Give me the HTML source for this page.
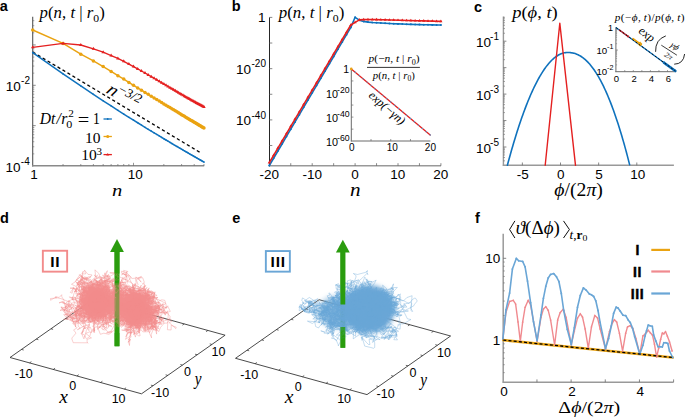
<!DOCTYPE html>
<html><head><meta charset="utf-8"><style>
html,body{margin:0;padding:0;background:#fff;width:685px;height:417px;overflow:hidden}
svg{display:block}
</style></head><body>
<svg width="685" height="417" viewBox="0 0 685 417">
<rect width="685" height="417" fill="#fff"/>
<g transform="translate(-0.28,11.18)"><text x="0" y="0" font-family="'Liberation Sans', sans-serif" font-size="14.5" font-weight="bold">a</text></g>
<g transform="translate(39.62,18.15) scale(1.0179,0.9867)"><text x="0" y="0" font-family="'Liberation Serif', serif" font-size="16.5"><tspan font-style="italic">p</tspan>(<tspan font-style="italic">n</tspan>, <tspan font-style="italic">t</tspan> | <tspan font-style="italic">r</tspan><tspan font-size="11.5" dy="3.5">0</tspan><tspan dy="-3.5">)</tspan></text></g>
<line x1="32.7" y1="16.8" x2="32.7" y2="166.4" stroke="#555" stroke-width="1.1" />
<line x1="32.1" y1="165.8" x2="204.2" y2="165.8" stroke="#8a8a8a" stroke-width="1.5" />
<line x1="32.7" y1="153.85" x2="34.3" y2="153.85" stroke="#6a6a6a" stroke-width="0.6" />
<line x1="32.7" y1="146.75" x2="34.3" y2="146.75" stroke="#6a6a6a" stroke-width="0.6" />
<line x1="32.7" y1="141.71" x2="34.3" y2="141.71" stroke="#6a6a6a" stroke-width="0.6" />
<line x1="32.7" y1="137.8" x2="34.3" y2="137.8" stroke="#6a6a6a" stroke-width="0.6" />
<line x1="32.7" y1="134.6" x2="34.3" y2="134.6" stroke="#6a6a6a" stroke-width="0.6" />
<line x1="32.7" y1="131.9" x2="34.3" y2="131.9" stroke="#6a6a6a" stroke-width="0.6" />
<line x1="32.7" y1="129.56" x2="34.3" y2="129.56" stroke="#6a6a6a" stroke-width="0.6" />
<line x1="32.7" y1="127.5" x2="34.3" y2="127.5" stroke="#6a6a6a" stroke-width="0.6" />
<line x1="32.7" y1="125.65" x2="35.7" y2="125.65" stroke="#6a6a6a" stroke-width="0.8" />
<line x1="32.7" y1="113.5" x2="34.3" y2="113.5" stroke="#6a6a6a" stroke-width="0.6" />
<line x1="32.7" y1="106.4" x2="34.3" y2="106.4" stroke="#6a6a6a" stroke-width="0.6" />
<line x1="32.7" y1="101.36" x2="34.3" y2="101.36" stroke="#6a6a6a" stroke-width="0.6" />
<line x1="32.7" y1="97.45" x2="34.3" y2="97.45" stroke="#6a6a6a" stroke-width="0.6" />
<line x1="32.7" y1="94.25" x2="34.3" y2="94.25" stroke="#6a6a6a" stroke-width="0.6" />
<line x1="32.7" y1="91.55" x2="34.3" y2="91.55" stroke="#6a6a6a" stroke-width="0.6" />
<line x1="32.7" y1="89.21" x2="34.3" y2="89.21" stroke="#6a6a6a" stroke-width="0.6" />
<line x1="32.7" y1="87.15" x2="34.3" y2="87.15" stroke="#6a6a6a" stroke-width="0.6" />
<line x1="32.7" y1="85.3" x2="35.7" y2="85.3" stroke="#6a6a6a" stroke-width="0.8" />
<line x1="32.7" y1="73.15" x2="34.3" y2="73.15" stroke="#6a6a6a" stroke-width="0.6" />
<line x1="32.7" y1="66.05" x2="34.3" y2="66.05" stroke="#6a6a6a" stroke-width="0.6" />
<line x1="32.7" y1="61.01" x2="34.3" y2="61.01" stroke="#6a6a6a" stroke-width="0.6" />
<line x1="32.7" y1="57.1" x2="34.3" y2="57.1" stroke="#6a6a6a" stroke-width="0.6" />
<line x1="32.7" y1="53.9" x2="34.3" y2="53.9" stroke="#6a6a6a" stroke-width="0.6" />
<line x1="32.7" y1="51.2" x2="34.3" y2="51.2" stroke="#6a6a6a" stroke-width="0.6" />
<line x1="32.7" y1="48.86" x2="34.3" y2="48.86" stroke="#6a6a6a" stroke-width="0.6" />
<line x1="32.7" y1="46.8" x2="34.3" y2="46.8" stroke="#6a6a6a" stroke-width="0.6" />
<line x1="32.7" y1="44.95" x2="35.7" y2="44.95" stroke="#6a6a6a" stroke-width="0.8" />
<line x1="32.7" y1="32.8" x2="34.3" y2="32.8" stroke="#6a6a6a" stroke-width="0.6" />
<line x1="32.7" y1="25.7" x2="34.3" y2="25.7" stroke="#6a6a6a" stroke-width="0.6" />
<line x1="32.7" y1="20.66" x2="34.3" y2="20.66" stroke="#6a6a6a" stroke-width="0.6" />
<g transform="translate(5.65,91.15)"><text x="0" y="0" font-family="'Liberation Sans', sans-serif" font-size="13.5">10</text></g>
<g transform="translate(21.05,84.45)"><text x="0" y="0" font-family="'Liberation Sans', sans-serif" font-size="10">-2</text></g>
<g transform="translate(5.45,171.95)"><text x="0" y="0" font-family="'Liberation Sans', sans-serif" font-size="13.5">10</text></g>
<g transform="translate(20.85,164.95)"><text x="0" y="0" font-family="'Liberation Sans', sans-serif" font-size="10">-4</text></g>
<line x1="63.04" y1="165.8" x2="63.04" y2="164" stroke="#6a6a6a" stroke-width="0.7" />
<line x1="80.79" y1="165.8" x2="80.79" y2="164" stroke="#6a6a6a" stroke-width="0.7" />
<line x1="93.39" y1="165.8" x2="93.39" y2="164" stroke="#6a6a6a" stroke-width="0.7" />
<line x1="103.16" y1="165.8" x2="103.16" y2="164" stroke="#6a6a6a" stroke-width="0.7" />
<line x1="111.14" y1="165.8" x2="111.14" y2="164" stroke="#6a6a6a" stroke-width="0.7" />
<line x1="117.89" y1="165.8" x2="117.89" y2="164" stroke="#6a6a6a" stroke-width="0.7" />
<line x1="123.73" y1="165.8" x2="123.73" y2="164" stroke="#6a6a6a" stroke-width="0.7" />
<line x1="128.89" y1="165.8" x2="128.89" y2="164" stroke="#6a6a6a" stroke-width="0.7" />
<line x1="133.5" y1="165.8" x2="133.5" y2="162.8" stroke="#6a6a6a" stroke-width="0.7" />
<line x1="163.84" y1="165.8" x2="163.84" y2="164" stroke="#6a6a6a" stroke-width="0.7" />
<line x1="181.59" y1="165.8" x2="181.59" y2="164" stroke="#6a6a6a" stroke-width="0.7" />
<line x1="194.19" y1="165.8" x2="194.19" y2="164" stroke="#6a6a6a" stroke-width="0.7" />
<line x1="203.96" y1="165.8" x2="203.96" y2="164" stroke="#6a6a6a" stroke-width="0.7" />
<g transform="translate(30.17,178.52)"><text x="0" y="0" font-family="'Liberation Sans', sans-serif" font-size="13.5">1</text></g>
<g transform="translate(127.7,178.75)"><text x="0" y="0" font-family="'Liberation Sans', sans-serif" font-size="13.5">10</text></g>
<g transform="translate(112.04,195.5) scale(1.1467,0.9647)"><text x="0" y="0" font-family="'Liberation Serif', serif" font-size="18"><tspan font-style="italic">n</tspan></text></g>
<line x1="32.7" y1="52" x2="199.73" y2="152.25" stroke="#000" stroke-width="1.3" stroke-dasharray="3.2,2.6"/>
<polyline points="32.7,52.6 63.04,73.88 80.79,85.96 93.39,94.35 103.16,100.77 111.14,105.95 117.89,110.28 123.73,114.01 128.89,117.27 133.5,120.16 137.67,122.76 141.48,125.12 144.99,127.29 148.23,129.28 151.25,131.12 154.08,132.84 156.73,134.45 159.23,135.96 161.6,137.39 163.84,138.74 165.98,140.01 168.02,141.23 169.96,142.38 171.83,143.49 173.61,144.54 175.33,145.55 176.98,146.52 178.57,147.46 180.11,148.36 181.59,149.22 183.03,150.06 184.42,150.87 185.77,151.65 187.07,152.4 188.34,153.14 189.58,153.85 190.77,154.54 191.94,155.21 193.08,155.86 194.19,156.49 195.27,157.11 196.32,157.71 197.35,158.3 198.36,158.87 199.34,159.43 200.31,159.98 201.25,160.51 202.17,161.03 203.07,161.54 203.96,162.04" fill="none" stroke="#0f72bd" stroke-width="1.5" stroke-linejoin="round" stroke-linecap="round" />
<circle cx="32.7" cy="52.6" r="0.8" fill="#0f72bd"/>
<circle cx="63.04" cy="73.88" r="0.8" fill="#0f72bd"/>
<circle cx="80.79" cy="85.96" r="0.8" fill="#0f72bd"/>
<circle cx="93.39" cy="94.35" r="0.8" fill="#0f72bd"/>
<circle cx="103.16" cy="100.77" r="0.8" fill="#0f72bd"/>
<circle cx="111.14" cy="105.95" r="0.8" fill="#0f72bd"/>
<circle cx="117.89" cy="110.28" r="0.8" fill="#0f72bd"/>
<circle cx="123.73" cy="114.01" r="0.8" fill="#0f72bd"/>
<circle cx="128.89" cy="117.27" r="0.8" fill="#0f72bd"/>
<circle cx="133.5" cy="120.16" r="0.8" fill="#0f72bd"/>
<circle cx="137.67" cy="122.76" r="0.8" fill="#0f72bd"/>
<circle cx="141.48" cy="125.12" r="0.8" fill="#0f72bd"/>
<circle cx="144.99" cy="127.29" r="0.8" fill="#0f72bd"/>
<circle cx="148.23" cy="129.28" r="0.8" fill="#0f72bd"/>
<circle cx="151.25" cy="131.12" r="0.8" fill="#0f72bd"/>
<circle cx="154.08" cy="132.84" r="0.8" fill="#0f72bd"/>
<circle cx="156.73" cy="134.45" r="0.8" fill="#0f72bd"/>
<circle cx="159.23" cy="135.96" r="0.8" fill="#0f72bd"/>
<circle cx="161.6" cy="137.39" r="0.8" fill="#0f72bd"/>
<circle cx="163.84" cy="138.74" r="0.8" fill="#0f72bd"/>
<circle cx="165.98" cy="140.01" r="0.8" fill="#0f72bd"/>
<circle cx="168.02" cy="141.23" r="0.8" fill="#0f72bd"/>
<circle cx="169.96" cy="142.38" r="0.8" fill="#0f72bd"/>
<circle cx="171.83" cy="143.49" r="0.8" fill="#0f72bd"/>
<circle cx="173.61" cy="144.54" r="0.8" fill="#0f72bd"/>
<circle cx="175.33" cy="145.55" r="0.8" fill="#0f72bd"/>
<circle cx="176.98" cy="146.52" r="0.8" fill="#0f72bd"/>
<circle cx="178.57" cy="147.46" r="0.8" fill="#0f72bd"/>
<circle cx="180.11" cy="148.36" r="0.8" fill="#0f72bd"/>
<circle cx="181.59" cy="149.22" r="0.8" fill="#0f72bd"/>
<circle cx="183.03" cy="150.06" r="0.8" fill="#0f72bd"/>
<circle cx="184.42" cy="150.87" r="0.8" fill="#0f72bd"/>
<circle cx="185.77" cy="151.65" r="0.8" fill="#0f72bd"/>
<circle cx="187.07" cy="152.4" r="0.8" fill="#0f72bd"/>
<circle cx="188.34" cy="153.14" r="0.8" fill="#0f72bd"/>
<circle cx="189.58" cy="153.85" r="0.8" fill="#0f72bd"/>
<circle cx="190.77" cy="154.54" r="0.8" fill="#0f72bd"/>
<circle cx="191.94" cy="155.21" r="0.8" fill="#0f72bd"/>
<circle cx="193.08" cy="155.86" r="0.8" fill="#0f72bd"/>
<circle cx="194.19" cy="156.49" r="0.8" fill="#0f72bd"/>
<circle cx="195.27" cy="157.11" r="0.8" fill="#0f72bd"/>
<circle cx="196.32" cy="157.71" r="0.8" fill="#0f72bd"/>
<circle cx="197.35" cy="158.3" r="0.8" fill="#0f72bd"/>
<circle cx="198.36" cy="158.87" r="0.8" fill="#0f72bd"/>
<circle cx="199.34" cy="159.43" r="0.8" fill="#0f72bd"/>
<circle cx="200.31" cy="159.98" r="0.8" fill="#0f72bd"/>
<circle cx="201.25" cy="160.51" r="0.8" fill="#0f72bd"/>
<circle cx="202.17" cy="161.03" r="0.8" fill="#0f72bd"/>
<circle cx="203.07" cy="161.54" r="0.8" fill="#0f72bd"/>
<circle cx="203.96" cy="162.04" r="0.8" fill="#0f72bd"/>
<polyline points="32.7,30 63.04,43.4 80.79,54.21 93.39,60.9 103.16,66.6 111.14,71.41 117.89,75.71 123.73,79.11 128.89,82.42 133.5,85.3 137.67,87.88 141.48,90.23 144.99,92.38 148.23,94.37 151.25,96.22 154.08,97.94 156.73,99.56 159.23,101.09 161.6,102.53 163.84,103.9 165.98,105.2 168.02,106.43 169.96,107.61 171.83,108.74 173.61,109.82 175.33,110.86 176.98,111.86 178.57,112.82 180.11,113.74 181.59,114.64 183.03,115.5 184.42,116.34 185.77,117.15 187.07,117.93 188.34,118.69 189.58,119.43 190.77,120.15 191.94,120.85 193.08,121.53 194.19,122.19 195.27,122.84 196.32,123.47 197.35,124.09 198.36,124.69 199.34,125.27 200.31,125.84 201.25,126.4 202.17,126.95 203.07,127.48 203.96,128" fill="none" stroke="#eaa312" stroke-width="1.5" stroke-linejoin="round" stroke-linecap="round" />
<circle cx="32.7" cy="30" r="1.75" fill="#eaa312"/>
<circle cx="63.04" cy="43.4" r="1.75" fill="#eaa312"/>
<circle cx="80.79" cy="54.21" r="1.75" fill="#eaa312"/>
<circle cx="93.39" cy="60.9" r="1.75" fill="#eaa312"/>
<circle cx="103.16" cy="66.6" r="1.75" fill="#eaa312"/>
<circle cx="111.14" cy="71.41" r="1.75" fill="#eaa312"/>
<circle cx="117.89" cy="75.71" r="1.75" fill="#eaa312"/>
<circle cx="123.73" cy="79.11" r="1.75" fill="#eaa312"/>
<circle cx="128.89" cy="82.42" r="1.75" fill="#eaa312"/>
<circle cx="133.5" cy="85.3" r="1.75" fill="#eaa312"/>
<circle cx="137.67" cy="87.88" r="1.75" fill="#eaa312"/>
<circle cx="141.48" cy="90.23" r="1.75" fill="#eaa312"/>
<circle cx="144.99" cy="92.38" r="1.75" fill="#eaa312"/>
<circle cx="148.23" cy="94.37" r="1.75" fill="#eaa312"/>
<circle cx="151.25" cy="96.22" r="1.75" fill="#eaa312"/>
<circle cx="154.08" cy="97.94" r="1.75" fill="#eaa312"/>
<circle cx="156.73" cy="99.56" r="1.75" fill="#eaa312"/>
<circle cx="159.23" cy="101.09" r="1.75" fill="#eaa312"/>
<circle cx="161.6" cy="102.53" r="1.75" fill="#eaa312"/>
<circle cx="163.84" cy="103.9" r="1.75" fill="#eaa312"/>
<circle cx="165.98" cy="105.2" r="1.75" fill="#eaa312"/>
<circle cx="168.02" cy="106.43" r="1.75" fill="#eaa312"/>
<circle cx="169.96" cy="107.61" r="1.75" fill="#eaa312"/>
<circle cx="171.83" cy="108.74" r="1.75" fill="#eaa312"/>
<circle cx="173.61" cy="109.82" r="1.75" fill="#eaa312"/>
<circle cx="175.33" cy="110.86" r="1.75" fill="#eaa312"/>
<circle cx="176.98" cy="111.86" r="1.75" fill="#eaa312"/>
<circle cx="178.57" cy="112.82" r="1.75" fill="#eaa312"/>
<circle cx="180.11" cy="113.74" r="1.75" fill="#eaa312"/>
<circle cx="181.59" cy="114.64" r="1.75" fill="#eaa312"/>
<circle cx="183.03" cy="115.5" r="1.75" fill="#eaa312"/>
<circle cx="184.42" cy="116.34" r="1.75" fill="#eaa312"/>
<circle cx="185.77" cy="117.15" r="1.75" fill="#eaa312"/>
<circle cx="187.07" cy="117.93" r="1.75" fill="#eaa312"/>
<circle cx="188.34" cy="118.69" r="1.75" fill="#eaa312"/>
<circle cx="189.58" cy="119.43" r="1.75" fill="#eaa312"/>
<circle cx="190.77" cy="120.15" r="1.75" fill="#eaa312"/>
<circle cx="191.94" cy="120.85" r="1.75" fill="#eaa312"/>
<circle cx="193.08" cy="121.53" r="1.75" fill="#eaa312"/>
<circle cx="194.19" cy="122.19" r="1.75" fill="#eaa312"/>
<circle cx="195.27" cy="122.84" r="1.75" fill="#eaa312"/>
<circle cx="196.32" cy="123.47" r="1.75" fill="#eaa312"/>
<circle cx="197.35" cy="124.09" r="1.75" fill="#eaa312"/>
<circle cx="198.36" cy="124.69" r="1.75" fill="#eaa312"/>
<circle cx="199.34" cy="125.27" r="1.75" fill="#eaa312"/>
<circle cx="200.31" cy="125.84" r="1.75" fill="#eaa312"/>
<circle cx="201.25" cy="126.4" r="1.75" fill="#eaa312"/>
<circle cx="202.17" cy="126.95" r="1.75" fill="#eaa312"/>
<circle cx="203.07" cy="127.48" r="1.75" fill="#eaa312"/>
<circle cx="203.96" cy="128" r="1.75" fill="#eaa312"/>
<polyline points="32.7,47.3 63.04,43.4 80.79,45 93.39,48.8 103.16,52.2 111.14,55.51 117.89,58.4 123.73,61.3 128.89,64.11 133.5,66.62 137.67,68.9 141.48,71.03 144.99,73.02 148.23,74.88 151.25,76.63 154.08,78.28 156.73,79.84 159.23,81.31 161.6,82.71 163.84,84.04 165.98,85.3 168.02,86.51 169.96,87.67 171.83,88.77 173.61,89.83 175.33,90.84 176.98,91.81 178.57,92.75 180.11,93.65 181.59,94.52 183.03,95.35 184.42,96.16 185.77,96.94 187.07,97.69 188.34,98.41 189.58,99.12 190.77,99.8 191.94,100.46 193.08,101.1 194.19,101.72 195.27,102.32 196.32,102.91 197.35,103.48 198.36,104.03 199.34,104.57 200.31,105.08 201.25,105.58 202.17,106.07 203.07,106.54 203.96,107" fill="none" stroke="#e42020" stroke-width="1.35" stroke-linejoin="round" stroke-linecap="round" />
<path d="M32.7,45.3L34.44,48.3L30.96,48.3Z" fill="#e42020"/>
<path d="M63.04,41.4L64.78,44.4L61.3,44.4Z" fill="#e42020"/>
<path d="M80.79,43L82.53,46L79.05,46Z" fill="#e42020"/>
<path d="M93.39,46.8L95.13,49.8L91.65,49.8Z" fill="#e42020"/>
<path d="M103.16,50.2L104.9,53.2L101.42,53.2Z" fill="#e42020"/>
<path d="M111.14,53.51L112.88,56.51L109.4,56.51Z" fill="#e42020"/>
<path d="M117.89,56.4L119.63,59.4L116.15,59.4Z" fill="#e42020"/>
<path d="M123.73,59.3L125.47,62.3L121.99,62.3Z" fill="#e42020"/>
<path d="M128.89,62.11L130.63,65.11L127.15,65.11Z" fill="#e42020"/>
<path d="M133.5,64.62L135.24,67.62L131.76,67.62Z" fill="#e42020"/>
<path d="M137.67,66.9L139.41,69.9L135.93,69.9Z" fill="#e42020"/>
<path d="M141.48,69.03L143.22,72.03L139.74,72.03Z" fill="#e42020"/>
<path d="M144.99,71.02L146.73,74.02L143.25,74.02Z" fill="#e42020"/>
<path d="M148.23,72.88L149.97,75.88L146.49,75.88Z" fill="#e42020"/>
<path d="M151.25,74.63L152.99,77.63L149.51,77.63Z" fill="#e42020"/>
<path d="M154.08,76.28L155.82,79.28L152.34,79.28Z" fill="#e42020"/>
<path d="M156.73,77.84L158.47,80.84L154.99,80.84Z" fill="#e42020"/>
<path d="M159.23,79.31L160.97,82.31L157.49,82.31Z" fill="#e42020"/>
<path d="M161.6,80.71L163.34,83.71L159.86,83.71Z" fill="#e42020"/>
<path d="M163.84,82.04L165.58,85.04L162.1,85.04Z" fill="#e42020"/>
<path d="M165.98,83.3L167.72,86.3L164.24,86.3Z" fill="#e42020"/>
<path d="M168.02,84.51L169.76,87.51L166.28,87.51Z" fill="#e42020"/>
<path d="M169.96,85.67L171.7,88.67L168.22,88.67Z" fill="#e42020"/>
<path d="M171.83,86.77L173.57,89.77L170.09,89.77Z" fill="#e42020"/>
<path d="M173.61,87.83L175.35,90.83L171.87,90.83Z" fill="#e42020"/>
<path d="M175.33,88.84L177.07,91.84L173.59,91.84Z" fill="#e42020"/>
<path d="M176.98,89.81L178.72,92.81L175.24,92.81Z" fill="#e42020"/>
<path d="M178.57,90.75L180.31,93.75L176.83,93.75Z" fill="#e42020"/>
<path d="M180.11,91.65L181.85,94.65L178.37,94.65Z" fill="#e42020"/>
<path d="M181.59,92.52L183.33,95.52L179.85,95.52Z" fill="#e42020"/>
<path d="M183.03,93.35L184.77,96.35L181.29,96.35Z" fill="#e42020"/>
<path d="M184.42,94.16L186.16,97.16L182.68,97.16Z" fill="#e42020"/>
<path d="M185.77,94.94L187.51,97.94L184.03,97.94Z" fill="#e42020"/>
<path d="M187.07,95.69L188.81,98.69L185.33,98.69Z" fill="#e42020"/>
<path d="M188.34,96.41L190.08,99.41L186.6,99.41Z" fill="#e42020"/>
<path d="M189.58,97.12L191.32,100.12L187.84,100.12Z" fill="#e42020"/>
<path d="M190.77,97.8L192.51,100.8L189.03,100.8Z" fill="#e42020"/>
<path d="M191.94,98.46L193.68,101.46L190.2,101.46Z" fill="#e42020"/>
<path d="M193.08,99.1L194.82,102.1L191.34,102.1Z" fill="#e42020"/>
<path d="M194.19,99.72L195.93,102.72L192.45,102.72Z" fill="#e42020"/>
<path d="M195.27,100.32L197.01,103.32L193.53,103.32Z" fill="#e42020"/>
<path d="M196.32,100.91L198.06,103.91L194.58,103.91Z" fill="#e42020"/>
<path d="M197.35,101.48L199.09,104.48L195.61,104.48Z" fill="#e42020"/>
<path d="M198.36,102.03L200.1,105.03L196.62,105.03Z" fill="#e42020"/>
<path d="M199.34,102.57L201.08,105.57L197.6,105.57Z" fill="#e42020"/>
<path d="M200.31,103.08L202.05,106.08L198.57,106.08Z" fill="#e42020"/>
<path d="M201.25,103.58L202.99,106.58L199.51,106.58Z" fill="#e42020"/>
<path d="M202.17,104.07L203.91,107.07L200.43,107.07Z" fill="#e42020"/>
<path d="M203.07,104.54L204.81,107.54L201.33,107.54Z" fill="#e42020"/>
<path d="M203.96,105L205.7,108L202.22,108Z" fill="#e42020"/>
<g transform="translate(105.16,92.41) scale(1.2778,1.0632)"><g transform="rotate(30.8)"><text x="0" y="0" font-family="'Liberation Serif', serif" font-size="16"><tspan font-style="italic">n</tspan></text></g></g>
<g transform="translate(117.34,91.68) scale(1.1050,0.9933)"><g transform="rotate(30.8)"><text x="0" y="0" font-family="'Liberation Serif', serif" font-size="12.5">−3/2</text></g></g>
<g transform="translate(39.75,124.1) scale(1.0090,1.0341)"><text x="0" y="0" font-family="'Liberation Serif', serif" font-size="15.5" font-style="italic">Dt<tspan dx="1">/</tspan><tspan dx="0.6">r</tspan></text></g>
<g transform="translate(66.37,128.4) scale(1.0526,0.9733)"><text x="0" y="0" font-family="'Liberation Serif', serif" font-size="11.5">0</text></g>
<g transform="translate(68.19,117.3) scale(1.0222,0.8828)"><text x="0" y="0" font-family="'Liberation Serif', serif" font-size="11">2</text></g>
<g transform="translate(77.66,125.84) scale(1.0444,0.9600)"><text x="0" y="0" font-family="'Liberation Serif', serif" font-size="19.5">=</text></g>
<g transform="translate(93.02,123.8) scale(0.8545,1.0286)"><text x="0" y="0" font-family="'Liberation Serif', serif" font-size="16">1</text></g>
<g transform="translate(84.93,142.73)"><text x="0" y="0" font-family="'Liberation Serif', serif" font-size="15.5">10</text></g>
<g transform="translate(81.22,160.32)"><text x="0" y="0" font-family="'Liberation Serif', serif" font-size="15.5">10</text></g>
<g transform="translate(96.4,154.73)"><text x="0" y="0" font-family="'Liberation Serif', serif" font-size="11">3</text></g>
<line x1="103.5" y1="119" x2="111.9" y2="119" stroke="#0f72bd" stroke-width="1.3" />
<circle cx="107.7" cy="119" r="0.9" fill="#0f72bd"/>
<line x1="103.5" y1="136.5" x2="111.9" y2="136.5" stroke="#eaa312" stroke-width="1.3" />
<circle cx="107.7" cy="136.5" r="1.5" fill="#eaa312"/>
<line x1="103.5" y1="154.6" x2="111.9" y2="154.6" stroke="#e42020" stroke-width="1.3" />
<path d="M107.7,152.9L109.18,155.45L106.22,155.45Z" fill="#e42020"/>
<g transform="translate(231.78,11.2)"><text x="0" y="0" font-family="'Liberation Sans', sans-serif" font-size="14.5" font-weight="bold">b</text></g>
<g transform="translate(278.72,18.25) scale(1.0241,0.9867)"><text x="0" y="0" font-family="'Liberation Serif', serif" font-size="16.5"><tspan font-style="italic">p</tspan>(<tspan font-style="italic">n</tspan>, <tspan font-style="italic">t</tspan> | <tspan font-style="italic">r</tspan><tspan font-size="11.5" dy="3.5">0</tspan><tspan dy="-3.5">)</tspan></text></g>
<line x1="269.5" y1="17.4" x2="269.5" y2="166.4" stroke="#262626" stroke-width="1.0" />
<line x1="268.9" y1="165.8" x2="441" y2="165.8" stroke="#999" stroke-width="1.5" />
<line x1="269.5" y1="17.4" x2="272.3" y2="17.4" stroke="#6a6a6a" stroke-width="0.8" />
<line x1="269.5" y1="43.02" x2="272.3" y2="43.02" stroke="#6a6a6a" stroke-width="0.8" />
<line x1="269.5" y1="68.65" x2="272.3" y2="68.65" stroke="#6a6a6a" stroke-width="0.8" />
<line x1="269.5" y1="94.28" x2="272.3" y2="94.28" stroke="#6a6a6a" stroke-width="0.8" />
<line x1="269.5" y1="119.9" x2="272.3" y2="119.9" stroke="#6a6a6a" stroke-width="0.8" />
<line x1="269.5" y1="145.53" x2="272.3" y2="145.53" stroke="#6a6a6a" stroke-width="0.8" />
<line x1="290.75" y1="165.8" x2="290.75" y2="163.2" stroke="#6a6a6a" stroke-width="0.8" />
<line x1="312.2" y1="165.8" x2="312.2" y2="163.2" stroke="#6a6a6a" stroke-width="0.8" />
<line x1="333.65" y1="165.8" x2="333.65" y2="163.2" stroke="#6a6a6a" stroke-width="0.8" />
<line x1="355.1" y1="165.8" x2="355.1" y2="163.2" stroke="#6a6a6a" stroke-width="0.8" />
<line x1="376.55" y1="165.8" x2="376.55" y2="163.2" stroke="#6a6a6a" stroke-width="0.8" />
<line x1="398" y1="165.8" x2="398" y2="163.2" stroke="#6a6a6a" stroke-width="0.8" />
<line x1="419.45" y1="165.8" x2="419.45" y2="163.2" stroke="#6a6a6a" stroke-width="0.8" />
<line x1="440.9" y1="165.8" x2="440.9" y2="163.2" stroke="#6a6a6a" stroke-width="0.8" />
<g transform="translate(258.12,21.68)"><text x="0" y="0" font-family="'Liberation Sans', sans-serif" font-size="13.5">1</text></g>
<g transform="translate(236.05,74.25)"><text x="0" y="0" font-family="'Liberation Sans', sans-serif" font-size="13.5">10</text></g>
<g transform="translate(251.5,67.4)"><text x="0" y="0" font-family="'Liberation Sans', sans-serif" font-size="10">-20</text></g>
<g transform="translate(236.05,125.35)"><text x="0" y="0" font-family="'Liberation Sans', sans-serif" font-size="13.5">10</text></g>
<g transform="translate(251.5,118.5)"><text x="0" y="0" font-family="'Liberation Sans', sans-serif" font-size="10">-40</text></g>
<g transform="translate(259.55,178.8)"><text x="0" y="0" font-family="'Liberation Sans', sans-serif" font-size="13.5">-20</text></g>
<g transform="translate(302.45,178.8)"><text x="0" y="0" font-family="'Liberation Sans', sans-serif" font-size="13.5">-10</text></g>
<g transform="translate(351.35,178.8)"><text x="0" y="0" font-family="'Liberation Sans', sans-serif" font-size="13.5">0</text></g>
<g transform="translate(390.25,178.8)"><text x="0" y="0" font-family="'Liberation Sans', sans-serif" font-size="13.5">10</text></g>
<g transform="translate(433.28,178.8)"><text x="0" y="0" font-family="'Liberation Sans', sans-serif" font-size="13.5">20</text></g>
<g transform="translate(349.92,195.8) scale(1.1733,1.0471)"><text x="0" y="0" font-family="'Liberation Serif', serif" font-size="18"><tspan font-style="italic">n</tspan></text></g>
<polyline points="269.3,165.53 273.59,158.26 277.88,150.99 282.17,143.72 286.46,136.45 290.75,129.18 295.04,121.91 299.33,114.64 303.62,107.37 307.91,100.1 312.2,92.83 316.49,85.56 320.78,78.29 325.07,71.02 329.36,63.75 333.65,56.48 337.94,49.21 342.23,41.94 346.52,34.67 350.81,27.4 355.1,17.3 359.39,20.2 363.68,21.4 367.97,22.1 372.26,22.5 376.55,22.8 380.84,23.07 385.13,23.32 389.42,23.54 393.71,23.73 398,23.9 402.29,24.05 406.58,24.2 410.87,24.34 415.16,24.47 419.45,24.59 423.74,24.71 428.03,24.8 432.32,24.89 436.61,24.95 440.9,25" fill="none" stroke="#0f72bd" stroke-width="1.6" stroke-linejoin="round" stroke-linecap="round" />
<circle cx="269.3" cy="165.53" r="1" fill="#0f72bd"/>
<circle cx="273.59" cy="158.26" r="1" fill="#0f72bd"/>
<circle cx="277.88" cy="150.99" r="1" fill="#0f72bd"/>
<circle cx="282.17" cy="143.72" r="1" fill="#0f72bd"/>
<circle cx="286.46" cy="136.45" r="1" fill="#0f72bd"/>
<circle cx="290.75" cy="129.18" r="1" fill="#0f72bd"/>
<circle cx="295.04" cy="121.91" r="1" fill="#0f72bd"/>
<circle cx="299.33" cy="114.64" r="1" fill="#0f72bd"/>
<circle cx="303.62" cy="107.37" r="1" fill="#0f72bd"/>
<circle cx="307.91" cy="100.1" r="1" fill="#0f72bd"/>
<circle cx="312.2" cy="92.83" r="1" fill="#0f72bd"/>
<circle cx="316.49" cy="85.56" r="1" fill="#0f72bd"/>
<circle cx="320.78" cy="78.29" r="1" fill="#0f72bd"/>
<circle cx="325.07" cy="71.02" r="1" fill="#0f72bd"/>
<circle cx="329.36" cy="63.75" r="1" fill="#0f72bd"/>
<circle cx="333.65" cy="56.48" r="1" fill="#0f72bd"/>
<circle cx="337.94" cy="49.21" r="1" fill="#0f72bd"/>
<circle cx="342.23" cy="41.94" r="1" fill="#0f72bd"/>
<circle cx="346.52" cy="34.67" r="1" fill="#0f72bd"/>
<circle cx="350.81" cy="27.4" r="1" fill="#0f72bd"/>
<circle cx="355.1" cy="17.3" r="1" fill="#0f72bd"/>
<circle cx="359.39" cy="20.2" r="1" fill="#0f72bd"/>
<circle cx="363.68" cy="21.4" r="1" fill="#0f72bd"/>
<circle cx="367.97" cy="22.1" r="1" fill="#0f72bd"/>
<circle cx="372.26" cy="22.5" r="1" fill="#0f72bd"/>
<circle cx="376.55" cy="22.8" r="1" fill="#0f72bd"/>
<circle cx="380.84" cy="23.07" r="1" fill="#0f72bd"/>
<circle cx="385.13" cy="23.32" r="1" fill="#0f72bd"/>
<circle cx="389.42" cy="23.54" r="1" fill="#0f72bd"/>
<circle cx="393.71" cy="23.73" r="1" fill="#0f72bd"/>
<circle cx="398" cy="23.9" r="1" fill="#0f72bd"/>
<circle cx="402.29" cy="24.05" r="1" fill="#0f72bd"/>
<circle cx="406.58" cy="24.2" r="1" fill="#0f72bd"/>
<circle cx="410.87" cy="24.34" r="1" fill="#0f72bd"/>
<circle cx="415.16" cy="24.47" r="1" fill="#0f72bd"/>
<circle cx="419.45" cy="24.59" r="1" fill="#0f72bd"/>
<circle cx="423.74" cy="24.71" r="1" fill="#0f72bd"/>
<circle cx="428.03" cy="24.8" r="1" fill="#0f72bd"/>
<circle cx="432.32" cy="24.89" r="1" fill="#0f72bd"/>
<circle cx="436.61" cy="24.95" r="1" fill="#0f72bd"/>
<circle cx="440.9" cy="25" r="1" fill="#0f72bd"/>
<polyline points="269.3,162.55 273.59,155.31 277.88,148.07 282.17,140.83 286.46,133.59 290.75,126.35 295.04,119.11 299.33,111.87 303.62,104.63 307.91,97.39 312.2,90.15 316.49,82.91 320.78,75.67 325.07,68.43 329.36,61.19 333.65,53.95 337.94,46.71 342.23,39.47 346.52,32.23 350.81,24.99 355.1,22.4 359.39,19.9 363.68,19.5 367.97,19.51 372.26,19.55 376.55,19.6 380.84,19.68 385.13,19.79 389.42,19.93 393.71,20.07 398,20.2 402.29,20.32 406.58,20.44 410.87,20.56 415.16,20.68 419.45,20.8 423.74,20.92 428.03,21.04 432.32,21.16 436.61,21.28 440.9,21.4" fill="none" stroke="#e42020" stroke-width="1.6" stroke-linejoin="round" stroke-linecap="round" />
<path d="M269.3,160.75L270.87,163.45L267.73,163.45Z" fill="#e42020"/>
<path d="M273.59,153.51L275.16,156.21L272.02,156.21Z" fill="#e42020"/>
<path d="M277.88,146.27L279.45,148.97L276.31,148.97Z" fill="#e42020"/>
<path d="M282.17,139.03L283.74,141.73L280.6,141.73Z" fill="#e42020"/>
<path d="M286.46,131.79L288.03,134.49L284.89,134.49Z" fill="#e42020"/>
<path d="M290.75,124.55L292.32,127.25L289.18,127.25Z" fill="#e42020"/>
<path d="M295.04,117.31L296.61,120.01L293.47,120.01Z" fill="#e42020"/>
<path d="M299.33,110.07L300.9,112.77L297.76,112.77Z" fill="#e42020"/>
<path d="M303.62,102.83L305.19,105.53L302.05,105.53Z" fill="#e42020"/>
<path d="M307.91,95.59L309.48,98.29L306.34,98.29Z" fill="#e42020"/>
<path d="M312.2,88.35L313.77,91.05L310.63,91.05Z" fill="#e42020"/>
<path d="M316.49,81.11L318.06,83.81L314.92,83.81Z" fill="#e42020"/>
<path d="M320.78,73.87L322.35,76.57L319.21,76.57Z" fill="#e42020"/>
<path d="M325.07,66.63L326.64,69.33L323.5,69.33Z" fill="#e42020"/>
<path d="M329.36,59.39L330.93,62.09L327.79,62.09Z" fill="#e42020"/>
<path d="M333.65,52.15L335.22,54.85L332.08,54.85Z" fill="#e42020"/>
<path d="M337.94,44.91L339.51,47.61L336.37,47.61Z" fill="#e42020"/>
<path d="M342.23,37.67L343.8,40.37L340.66,40.37Z" fill="#e42020"/>
<path d="M346.52,30.43L348.09,33.13L344.95,33.13Z" fill="#e42020"/>
<path d="M350.81,23.19L352.38,25.89L349.24,25.89Z" fill="#e42020"/>
<path d="M355.1,20.6L356.67,23.3L353.53,23.3Z" fill="#e42020"/>
<path d="M359.39,18.1L360.96,20.8L357.82,20.8Z" fill="#e42020"/>
<path d="M363.68,17.7L365.25,20.4L362.11,20.4Z" fill="#e42020"/>
<path d="M367.97,17.71L369.54,20.41L366.4,20.41Z" fill="#e42020"/>
<path d="M372.26,17.75L373.83,20.45L370.69,20.45Z" fill="#e42020"/>
<path d="M376.55,17.8L378.12,20.5L374.98,20.5Z" fill="#e42020"/>
<path d="M380.84,17.88L382.41,20.58L379.27,20.58Z" fill="#e42020"/>
<path d="M385.13,17.99L386.7,20.69L383.56,20.69Z" fill="#e42020"/>
<path d="M389.42,18.13L390.99,20.83L387.85,20.83Z" fill="#e42020"/>
<path d="M393.71,18.27L395.28,20.97L392.14,20.97Z" fill="#e42020"/>
<path d="M398,18.4L399.57,21.1L396.43,21.1Z" fill="#e42020"/>
<path d="M402.29,18.52L403.86,21.22L400.72,21.22Z" fill="#e42020"/>
<path d="M406.58,18.64L408.15,21.34L405.01,21.34Z" fill="#e42020"/>
<path d="M410.87,18.76L412.44,21.46L409.3,21.46Z" fill="#e42020"/>
<path d="M415.16,18.88L416.73,21.58L413.59,21.58Z" fill="#e42020"/>
<path d="M419.45,19L421.02,21.7L417.88,21.7Z" fill="#e42020"/>
<path d="M423.74,19.12L425.31,21.82L422.17,21.82Z" fill="#e42020"/>
<path d="M428.03,19.24L429.6,21.94L426.46,21.94Z" fill="#e42020"/>
<path d="M432.32,19.36L433.89,22.06L430.75,22.06Z" fill="#e42020"/>
<path d="M436.61,19.48L438.18,22.18L435.04,22.18Z" fill="#e42020"/>
<path d="M440.9,19.6L442.47,22.3L439.33,22.3Z" fill="#e42020"/>
<line x1="351.3" y1="68.2" x2="351.3" y2="141.4" stroke="#6a6a6a" stroke-width="1.0" />
<line x1="350.8" y1="141" x2="430.4" y2="141" stroke="#6a6a6a" stroke-width="1.0" />
<line x1="351.3" y1="80.95" x2="353.4" y2="80.95" stroke="#6a6a6a" stroke-width="0.7" />
<line x1="351.3" y1="93" x2="353.4" y2="93" stroke="#6a6a6a" stroke-width="0.7" />
<line x1="351.3" y1="105.05" x2="353.4" y2="105.05" stroke="#6a6a6a" stroke-width="0.7" />
<line x1="351.3" y1="117.1" x2="353.4" y2="117.1" stroke="#6a6a6a" stroke-width="0.7" />
<line x1="351.3" y1="129.15" x2="353.4" y2="129.15" stroke="#6a6a6a" stroke-width="0.7" />
<line x1="371.03" y1="141" x2="371.03" y2="139" stroke="#6a6a6a" stroke-width="0.7" />
<line x1="390.75" y1="141" x2="390.75" y2="139" stroke="#6a6a6a" stroke-width="0.7" />
<line x1="410.48" y1="141" x2="410.48" y2="139" stroke="#6a6a6a" stroke-width="0.7" />
<g transform="translate(343.3,73.12)"><text x="0" y="0" font-family="'Liberation Sans', sans-serif" font-size="10.5">1</text></g>
<g transform="translate(325.92,97.75)"><text x="0" y="0" font-family="'Liberation Sans', sans-serif" font-size="10.8">10</text></g>
<g transform="translate(337.08,93.1)"><text x="0" y="0" font-family="'Liberation Sans', sans-serif" font-size="8.7">-20</text></g>
<g transform="translate(325.92,121.85)"><text x="0" y="0" font-family="'Liberation Sans', sans-serif" font-size="10.8">10</text></g>
<g transform="translate(337.08,117.2)"><text x="0" y="0" font-family="'Liberation Sans', sans-serif" font-size="8.7">-40</text></g>
<g transform="translate(325.92,145.95)"><text x="0" y="0" font-family="'Liberation Sans', sans-serif" font-size="10.8">10</text></g>
<g transform="translate(337.08,141.3)"><text x="0" y="0" font-family="'Liberation Sans', sans-serif" font-size="8.7">-60</text></g>
<g transform="translate(349.12,151)"><text x="0" y="0" font-family="'Liberation Sans', sans-serif" font-size="10">0</text></g>
<g transform="translate(386.7,151)"><text x="0" y="0" font-family="'Liberation Sans', sans-serif" font-size="10">10</text></g>
<g transform="translate(424.82,151)"><text x="0" y="0" font-family="'Liberation Sans', sans-serif" font-size="10">20</text></g>
<polyline points="351.3,68.9 430.2,135" fill="none" stroke="#e42020" stroke-width="1.3" stroke-linejoin="round" stroke-linecap="round" />
<circle cx="351.3" cy="68.9" r="0.7" fill="#4a9ad0"/>
<circle cx="355.25" cy="72.21" r="0.7" fill="#4a9ad0"/>
<circle cx="359.19" cy="75.51" r="0.7" fill="#4a9ad0"/>
<circle cx="363.13" cy="78.81" r="0.7" fill="#4a9ad0"/>
<circle cx="367.08" cy="82.12" r="0.7" fill="#4a9ad0"/>
<circle cx="371.03" cy="85.43" r="0.7" fill="#4a9ad0"/>
<circle cx="374.97" cy="88.73" r="0.7" fill="#4a9ad0"/>
<circle cx="378.92" cy="92.03" r="0.7" fill="#4a9ad0"/>
<circle cx="382.86" cy="95.34" r="0.7" fill="#4a9ad0"/>
<circle cx="386.81" cy="98.65" r="0.7" fill="#4a9ad0"/>
<circle cx="390.75" cy="101.95" r="0.7" fill="#4a9ad0"/>
<circle cx="394.69" cy="105.25" r="0.7" fill="#4a9ad0"/>
<circle cx="398.64" cy="108.56" r="0.7" fill="#4a9ad0"/>
<circle cx="402.59" cy="111.87" r="0.7" fill="#4a9ad0"/>
<circle cx="406.53" cy="115.17" r="0.7" fill="#4a9ad0"/>
<circle cx="410.48" cy="118.47" r="0.7" fill="#4a9ad0"/>
<circle cx="414.42" cy="121.78" r="0.7" fill="#4a9ad0"/>
<circle cx="418.37" cy="125.08" r="0.7" fill="#4a9ad0"/>
<circle cx="422.31" cy="128.39" r="0.7" fill="#4a9ad0"/>
<circle cx="426.25" cy="131.69" r="0.7" fill="#4a9ad0"/>
<circle cx="430.2" cy="135" r="0.7" fill="#4a9ad0"/>
<circle cx="351.3" cy="68.9" r="1.3" fill="#eaa312"/>
<g transform="translate(368.62,62.37) scale(0.9544,0.9302)"><text x="0" y="0" font-family="'Liberation Serif', serif" font-size="12"><tspan font-style="italic">p</tspan>(−<tspan font-style="italic">n</tspan>, <tspan font-style="italic">t</tspan> | <tspan font-style="italic">r</tspan><tspan font-size="8.5" dy="2.5">0</tspan><tspan dy="-2.5">)</tspan></text></g>
<line x1="367" y1="67.4" x2="419.9" y2="67.4" stroke="#000" stroke-width="0.8" />
<g transform="translate(372.78,79.1) scale(0.9021,0.9209)"><text x="0" y="0" font-family="'Liberation Serif', serif" font-size="12"><tspan font-style="italic">p</tspan>(<tspan font-style="italic">n</tspan>, <tspan font-style="italic">t</tspan> | <tspan font-style="italic">r</tspan><tspan font-size="8.5" dy="2.5">0</tspan><tspan dy="-2.5">)</tspan></text></g>
<g transform="translate(367.99,96.31) scale(1.0085,1.0230)"><g transform="rotate(41)"><text x="0" y="0" font-family="'Liberation Serif', serif" font-size="12" font-style="italic">exp(−γn)</text></g></g>
<g transform="translate(473.9,11.52)"><text x="0" y="0" font-family="'Liberation Sans', sans-serif" font-size="14.5" font-weight="bold">c</text></g>
<g transform="translate(512.16,17.61) scale(1.0590,0.9841)"><text x="0" y="0" font-family="'Liberation Serif', serif" font-size="17.5"><tspan font-style="italic">p</tspan>(<tspan font-style="italic">ϕ</tspan>, <tspan font-style="italic">t</tspan>)</text></g>
<line x1="503.4" y1="16.5" x2="503.4" y2="165.9" stroke="#999" stroke-width="1.4" />
<line x1="502.8" y1="165.3" x2="673.9" y2="165.3" stroke="#999" stroke-width="1.4" />
<line x1="503.4" y1="160.83" x2="505" y2="160.83" stroke="#6a6a6a" stroke-width="0.6" />
<line x1="503.4" y1="157.53" x2="505" y2="157.53" stroke="#6a6a6a" stroke-width="0.6" />
<line x1="503.4" y1="154.96" x2="505" y2="154.96" stroke="#6a6a6a" stroke-width="0.6" />
<line x1="503.4" y1="152.87" x2="505" y2="152.87" stroke="#6a6a6a" stroke-width="0.6" />
<line x1="503.4" y1="151.1" x2="505" y2="151.1" stroke="#6a6a6a" stroke-width="0.6" />
<line x1="503.4" y1="149.56" x2="505" y2="149.56" stroke="#6a6a6a" stroke-width="0.6" />
<line x1="503.4" y1="148.21" x2="505" y2="148.21" stroke="#6a6a6a" stroke-width="0.6" />
<line x1="503.4" y1="147" x2="506.4" y2="147" stroke="#6a6a6a" stroke-width="0.8" />
<line x1="503.4" y1="139.04" x2="505" y2="139.04" stroke="#6a6a6a" stroke-width="0.6" />
<line x1="503.4" y1="134.38" x2="505" y2="134.38" stroke="#6a6a6a" stroke-width="0.6" />
<line x1="503.4" y1="131.08" x2="505" y2="131.08" stroke="#6a6a6a" stroke-width="0.6" />
<line x1="503.4" y1="128.51" x2="505" y2="128.51" stroke="#6a6a6a" stroke-width="0.6" />
<line x1="503.4" y1="126.42" x2="505" y2="126.42" stroke="#6a6a6a" stroke-width="0.6" />
<line x1="503.4" y1="124.65" x2="505" y2="124.65" stroke="#6a6a6a" stroke-width="0.6" />
<line x1="503.4" y1="123.11" x2="505" y2="123.11" stroke="#6a6a6a" stroke-width="0.6" />
<line x1="503.4" y1="121.76" x2="505" y2="121.76" stroke="#6a6a6a" stroke-width="0.6" />
<line x1="503.4" y1="120.55" x2="506.4" y2="120.55" stroke="#6a6a6a" stroke-width="0.8" />
<line x1="503.4" y1="112.59" x2="505" y2="112.59" stroke="#6a6a6a" stroke-width="0.6" />
<line x1="503.4" y1="107.93" x2="505" y2="107.93" stroke="#6a6a6a" stroke-width="0.6" />
<line x1="503.4" y1="104.63" x2="505" y2="104.63" stroke="#6a6a6a" stroke-width="0.6" />
<line x1="503.4" y1="102.06" x2="505" y2="102.06" stroke="#6a6a6a" stroke-width="0.6" />
<line x1="503.4" y1="99.97" x2="505" y2="99.97" stroke="#6a6a6a" stroke-width="0.6" />
<line x1="503.4" y1="98.2" x2="505" y2="98.2" stroke="#6a6a6a" stroke-width="0.6" />
<line x1="503.4" y1="96.66" x2="505" y2="96.66" stroke="#6a6a6a" stroke-width="0.6" />
<line x1="503.4" y1="95.31" x2="505" y2="95.31" stroke="#6a6a6a" stroke-width="0.6" />
<line x1="503.4" y1="94.1" x2="506.4" y2="94.1" stroke="#6a6a6a" stroke-width="0.8" />
<line x1="503.4" y1="86.14" x2="505" y2="86.14" stroke="#6a6a6a" stroke-width="0.6" />
<line x1="503.4" y1="81.48" x2="505" y2="81.48" stroke="#6a6a6a" stroke-width="0.6" />
<line x1="503.4" y1="78.18" x2="505" y2="78.18" stroke="#6a6a6a" stroke-width="0.6" />
<line x1="503.4" y1="75.61" x2="505" y2="75.61" stroke="#6a6a6a" stroke-width="0.6" />
<line x1="503.4" y1="73.52" x2="505" y2="73.52" stroke="#6a6a6a" stroke-width="0.6" />
<line x1="503.4" y1="71.75" x2="505" y2="71.75" stroke="#6a6a6a" stroke-width="0.6" />
<line x1="503.4" y1="70.21" x2="505" y2="70.21" stroke="#6a6a6a" stroke-width="0.6" />
<line x1="503.4" y1="68.86" x2="505" y2="68.86" stroke="#6a6a6a" stroke-width="0.6" />
<line x1="503.4" y1="67.65" x2="506.4" y2="67.65" stroke="#6a6a6a" stroke-width="0.8" />
<line x1="503.4" y1="59.69" x2="505" y2="59.69" stroke="#6a6a6a" stroke-width="0.6" />
<line x1="503.4" y1="55.03" x2="505" y2="55.03" stroke="#6a6a6a" stroke-width="0.6" />
<line x1="503.4" y1="51.73" x2="505" y2="51.73" stroke="#6a6a6a" stroke-width="0.6" />
<line x1="503.4" y1="49.16" x2="505" y2="49.16" stroke="#6a6a6a" stroke-width="0.6" />
<line x1="503.4" y1="47.07" x2="505" y2="47.07" stroke="#6a6a6a" stroke-width="0.6" />
<line x1="503.4" y1="45.3" x2="505" y2="45.3" stroke="#6a6a6a" stroke-width="0.6" />
<line x1="503.4" y1="43.76" x2="505" y2="43.76" stroke="#6a6a6a" stroke-width="0.6" />
<line x1="503.4" y1="42.41" x2="505" y2="42.41" stroke="#6a6a6a" stroke-width="0.6" />
<line x1="503.4" y1="41.2" x2="506.4" y2="41.2" stroke="#6a6a6a" stroke-width="0.8" />
<line x1="503.4" y1="33.24" x2="505" y2="33.24" stroke="#6a6a6a" stroke-width="0.6" />
<line x1="503.4" y1="28.58" x2="505" y2="28.58" stroke="#6a6a6a" stroke-width="0.6" />
<line x1="503.4" y1="25.28" x2="505" y2="25.28" stroke="#6a6a6a" stroke-width="0.6" />
<line x1="503.4" y1="22.71" x2="505" y2="22.71" stroke="#6a6a6a" stroke-width="0.6" />
<line x1="503.4" y1="20.62" x2="505" y2="20.62" stroke="#6a6a6a" stroke-width="0.6" />
<line x1="503.4" y1="18.85" x2="505" y2="18.85" stroke="#6a6a6a" stroke-width="0.6" />
<line x1="503.4" y1="17.31" x2="505" y2="17.31" stroke="#6a6a6a" stroke-width="0.6" />
<g transform="translate(476.05,46.95)"><text x="0" y="0" font-family="'Liberation Sans', sans-serif" font-size="13.5">10</text></g>
<g transform="translate(490.1,40.1)"><text x="0" y="0" font-family="'Liberation Sans', sans-serif" font-size="10">-1</text></g>
<g transform="translate(476.05,99.85)"><text x="0" y="0" font-family="'Liberation Sans', sans-serif" font-size="13.5">10</text></g>
<g transform="translate(490.1,93)"><text x="0" y="0" font-family="'Liberation Sans', sans-serif" font-size="10">-3</text></g>
<g transform="translate(476.05,152.75)"><text x="0" y="0" font-family="'Liberation Sans', sans-serif" font-size="13.5">10</text></g>
<g transform="translate(490.1,145.9)"><text x="0" y="0" font-family="'Liberation Sans', sans-serif" font-size="10">-5</text></g>
<line x1="522.35" y1="165.3" x2="522.35" y2="162.5" stroke="#6a6a6a" stroke-width="0.8" />
<line x1="560.5" y1="165.3" x2="560.5" y2="162.5" stroke="#6a6a6a" stroke-width="0.8" />
<line x1="598.65" y1="165.3" x2="598.65" y2="162.5" stroke="#6a6a6a" stroke-width="0.8" />
<line x1="636.8" y1="165.3" x2="636.8" y2="162.5" stroke="#6a6a6a" stroke-width="0.8" />
<g transform="translate(516.65,179.18)"><text x="0" y="0" font-family="'Liberation Sans', sans-serif" font-size="13.5">-5</text></g>
<g transform="translate(557.05,179.3)"><text x="0" y="0" font-family="'Liberation Sans', sans-serif" font-size="13.5">0</text></g>
<g transform="translate(595.2,179.18)"><text x="0" y="0" font-family="'Liberation Sans', sans-serif" font-size="13.5">5</text></g>
<g transform="translate(630.25,179.3)"><text x="0" y="0" font-family="'Liberation Sans', sans-serif" font-size="13.5">10</text></g>
<g transform="translate(554.29,196) scale(1.0118,0.9257)"><text x="0" y="0" font-family="'Liberation Serif', serif" font-size="19.5"><tspan font-style="italic">ϕ</tspan>/(2<tspan font-style="italic">π</tspan>)</text></g>
<polyline points="507.4,165.19 508.17,162.33 508.94,159.5 509.71,156.71 510.47,153.96 511.24,151.24 512.01,148.56 512.78,145.92 513.55,143.32 514.32,140.75 515.09,138.22 515.85,135.72 516.62,133.26 517.39,130.84 518.16,128.46 518.93,126.11 519.7,123.8 520.47,121.52 521.23,119.29 522,117.08 522.77,114.92 523.54,112.79 524.31,110.7 525.08,108.65 525.85,106.64 526.61,104.66 527.38,102.71 528.15,100.81 528.92,98.94 529.69,97.11 530.46,95.31 531.23,93.55 531.99,91.83 532.76,90.15 533.53,88.5 534.3,86.89 535.07,85.32 535.84,83.78 536.61,82.28 537.37,80.82 538.14,79.39 538.91,78 539.68,76.65 540.45,75.33 541.22,74.05 541.98,72.81 542.75,71.61 543.52,70.44 544.29,69.31 545.06,68.21 545.83,67.15 546.6,66.13 547.36,65.15 548.13,64.2 548.9,63.29 549.67,62.42 550.44,61.58 551.21,60.78 551.98,60.02 552.74,59.29 553.51,58.6 554.28,57.95 555.05,57.34 555.82,56.76 556.59,56.22 557.36,55.71 558.12,55.24 558.89,54.81 559.66,54.42 560.43,54.06 561.2,53.74 561.97,53.46 562.74,53.21 563.5,53 564.27,52.82 565.04,52.69 565.81,52.59 566.58,52.53 567.35,52.5 568.12,52.5 568.88,52.53 569.65,52.57 570.42,52.63 571.19,52.73 571.96,52.84 572.73,52.98 573.5,53.15 574.26,53.35 575.03,53.58 575.8,53.84 576.57,54.13 577.34,54.45 578.11,54.8 578.88,55.18 579.64,55.59 580.41,56.04 581.18,56.52 581.95,57.03 582.72,57.58 583.49,58.16 584.26,58.78 585.02,59.43 585.79,60.12 586.56,60.84 587.33,61.6 588.1,62.39 588.87,63.22 589.64,64.09 590.4,64.99 591.17,65.93 591.94,66.91 592.71,67.93 593.48,68.98 594.25,70.07 595.02,71.2 595.78,72.37 596.55,73.58 597.32,74.82 598.09,76.11 598.86,77.43 599.63,78.8 600.39,80.2 601.16,81.65 601.93,83.13 602.7,84.65 603.47,86.22 604.24,87.82 605.01,89.47 605.77,91.16 606.54,92.89 607.31,94.66 608.08,96.47 608.85,98.32 609.62,100.21 610.39,102.15 611.15,104.13 611.92,106.15 612.69,108.21 613.46,110.32 614.23,112.47 615,114.66 615.77,116.89 616.53,119.17 617.3,121.49 618.07,123.86 618.84,126.26 619.61,128.71 620.38,131.21 621.15,133.75 621.91,136.33 622.68,138.96 623.45,141.63 624.22,144.34 624.99,147.1 625.76,149.91 626.53,152.76 627.29,155.65 628.06,158.59 628.83,161.58 629.6,164.61" fill="none" stroke="#0f72bd" stroke-width="1.6" stroke-linejoin="round" stroke-linecap="round" />
<polyline points="545.2,165.3 559.8,23.2 575.5,165.3" fill="none" stroke="#e42020" stroke-width="1.4" stroke-linejoin="round" stroke-linecap="round" />
<line x1="615.9" y1="27.6" x2="615.9" y2="72.1" stroke="#6a6a6a" stroke-width="1.0" />
<line x1="615.4" y1="71.7" x2="675.9" y2="71.7" stroke="#6a6a6a" stroke-width="1.0" />
<line x1="615.9" y1="28.9" x2="617.9" y2="28.9" stroke="#6a6a6a" stroke-width="0.7" />
<line x1="615.9" y1="43.68" x2="617.1" y2="43.68" stroke="#6a6a6a" stroke-width="0.5" />
<line x1="615.9" y1="39.96" x2="617.1" y2="39.96" stroke="#6a6a6a" stroke-width="0.5" />
<line x1="615.9" y1="37.32" x2="617.1" y2="37.32" stroke="#6a6a6a" stroke-width="0.5" />
<line x1="615.9" y1="35.27" x2="617.1" y2="35.27" stroke="#6a6a6a" stroke-width="0.5" />
<line x1="615.9" y1="33.59" x2="617.1" y2="33.59" stroke="#6a6a6a" stroke-width="0.5" />
<line x1="615.9" y1="32.18" x2="617.1" y2="32.18" stroke="#6a6a6a" stroke-width="0.5" />
<line x1="615.9" y1="30.95" x2="617.1" y2="30.95" stroke="#6a6a6a" stroke-width="0.5" />
<line x1="615.9" y1="29.87" x2="617.1" y2="29.87" stroke="#6a6a6a" stroke-width="0.5" />
<line x1="615.9" y1="50.05" x2="617.9" y2="50.05" stroke="#6a6a6a" stroke-width="0.7" />
<line x1="615.9" y1="64.83" x2="617.1" y2="64.83" stroke="#6a6a6a" stroke-width="0.5" />
<line x1="615.9" y1="61.11" x2="617.1" y2="61.11" stroke="#6a6a6a" stroke-width="0.5" />
<line x1="615.9" y1="58.47" x2="617.1" y2="58.47" stroke="#6a6a6a" stroke-width="0.5" />
<line x1="615.9" y1="56.42" x2="617.1" y2="56.42" stroke="#6a6a6a" stroke-width="0.5" />
<line x1="615.9" y1="54.74" x2="617.1" y2="54.74" stroke="#6a6a6a" stroke-width="0.5" />
<line x1="615.9" y1="53.33" x2="617.1" y2="53.33" stroke="#6a6a6a" stroke-width="0.5" />
<line x1="615.9" y1="52.1" x2="617.1" y2="52.1" stroke="#6a6a6a" stroke-width="0.5" />
<line x1="615.9" y1="51.02" x2="617.1" y2="51.02" stroke="#6a6a6a" stroke-width="0.5" />
<line x1="624.75" y1="71.7" x2="624.75" y2="70" stroke="#6a6a6a" stroke-width="0.6" />
<line x1="633.3" y1="71.7" x2="633.3" y2="70" stroke="#6a6a6a" stroke-width="0.6" />
<line x1="641.85" y1="71.7" x2="641.85" y2="70" stroke="#6a6a6a" stroke-width="0.6" />
<line x1="650.4" y1="71.7" x2="650.4" y2="70" stroke="#6a6a6a" stroke-width="0.6" />
<line x1="658.95" y1="71.7" x2="658.95" y2="70" stroke="#6a6a6a" stroke-width="0.6" />
<line x1="667.5" y1="71.7" x2="667.5" y2="70" stroke="#6a6a6a" stroke-width="0.6" />
<g transform="translate(608.08,30.72)"><text x="0" y="0" font-family="'Liberation Sans', sans-serif" font-size="9">1</text></g>
<g transform="translate(596.42,53.78)"><text x="0" y="0" font-family="'Liberation Sans', sans-serif" font-size="9.7">10</text></g>
<g transform="translate(607.03,48.85)"><text x="0" y="0" font-family="'Liberation Sans', sans-serif" font-size="7.2">-1</text></g>
<g transform="translate(596.42,74.92)"><text x="0" y="0" font-family="'Liberation Sans', sans-serif" font-size="9.7">10</text></g>
<g transform="translate(607.03,70)"><text x="0" y="0" font-family="'Liberation Sans', sans-serif" font-size="7.2">-2</text></g>
<g transform="translate(613.75,81.5)"><text x="0" y="0" font-family="'Liberation Sans', sans-serif" font-size="9.5">0</text></g>
<g transform="translate(631.58,81.5)"><text x="0" y="0" font-family="'Liberation Sans', sans-serif" font-size="9.5">2</text></g>
<g transform="translate(648.67,81.5)"><text x="0" y="0" font-family="'Liberation Sans', sans-serif" font-size="9.5">4</text></g>
<g transform="translate(665.75,81.5)"><text x="0" y="0" font-family="'Liberation Sans', sans-serif" font-size="9.5">6</text></g>
<polyline points="616.2,27.7 675.4,71" fill="none" stroke="#0f72bd" stroke-width="1.4" stroke-linejoin="round" stroke-linecap="round" />
<polyline points="619.5,30.1 628.2,36.5" fill="none" stroke="#e42020" stroke-width="1.5" stroke-linejoin="round" stroke-linecap="round" stroke-dasharray="2,1.5"/>
<path d="M628.2,35L629.5,37.25L626.9,37.25Z" fill="#e42020"/>
<polyline points="633,38.8 641,44.6" fill="none" stroke="#eaa312" stroke-width="1.8" stroke-linejoin="round" stroke-linecap="round" />
<path d="M640.1,41.6L642.4,44L640.1,46.4L637.8,44Z" fill="#eaa312"/>
<polyline points="664,62.7 675.4,71" fill="none" stroke="#0f72bd" stroke-width="2.6" stroke-linejoin="round" stroke-linecap="round" />
<circle cx="664" cy="62.7" r="1.1" fill="#0f72bd"/>
<circle cx="666.2" cy="64.3" r="1.1" fill="#0f72bd"/>
<circle cx="668.4" cy="65.9" r="1.1" fill="#0f72bd"/>
<circle cx="670.6" cy="67.5" r="1.1" fill="#0f72bd"/>
<circle cx="672.8" cy="69.1" r="1.1" fill="#0f72bd"/>
<circle cx="675" cy="70.7" r="1.1" fill="#0f72bd"/>
<line x1="616.2" y1="27.7" x2="675.4" y2="71" stroke="#000" stroke-width="0.9" stroke-dasharray="2,2"/>
<g transform="translate(614.74,21.16) scale(1.0769,0.9053)"><text x="0" y="0" font-family="'Liberation Serif', serif" font-size="10.5" letter-spacing="0.35"><tspan font-style="italic">p</tspan>(−<tspan font-style="italic">ϕ</tspan>, <tspan font-style="italic">t</tspan>)/<tspan font-style="italic">p</tspan>(<tspan font-style="italic">ϕ</tspan>, <tspan font-style="italic">t</tspan>)</text></g>
<g transform="translate(638.12,32.22) scale(0.9763,1.0720)"><g transform="rotate(37)"><text x="0" y="0" font-family="'Liberation Serif', serif" font-size="12" font-style="italic">exp</text></g></g>
<path d="M655.6,51.8Q655.2,39.5 665.8,35.9M674.2,64.2Q683.5,64 684.6,54" fill="none" stroke="#000" stroke-width="0.85"/>
<line x1="661.3" y1="45.2" x2="676.9" y2="55.2" stroke="#000" stroke-width="0.75" />
<g transform="translate(669.42,46.01) scale(1.2471,0.9857)"><g transform="rotate(37)"><text x="0" y="0" font-family="'Liberation Serif', serif" font-size="8" font-style="italic">γϕ</text></g></g>
<g transform="translate(663.53,55.84) scale(1.0941,0.8364)"><g transform="rotate(37)"><text x="0" y="0" font-family="'Liberation Serif', serif" font-size="8">2<tspan font-style="italic">π</tspan></text></g></g>
<defs><filter id="bl" x="-50%" y="-50%" width="200%" height="200%"><feGaussianBlur stdDeviation="2.5"/></filter></defs>
<g transform="translate(-0.05,222.75)"><text x="0" y="0" font-family="'Liberation Sans', sans-serif" font-size="14.5" font-weight="bold">d</text></g>
<line x1="10" y1="357.5" x2="141.5" y2="393.8" stroke="#2a2a2a" stroke-width="0.85" />
<line x1="141.5" y1="393.8" x2="225.1" y2="335.2" stroke="#2a2a2a" stroke-width="0.85" />
<line x1="10" y1="357.5" x2="93.6" y2="298.9" stroke="#2a2a2a" stroke-width="0.85" />
<line x1="93.6" y1="298.9" x2="225.1" y2="335.2" stroke="#2a2a2a" stroke-width="0.85" />
<line x1="29.59" y1="362.91" x2="31.39" y2="361.65" stroke="#2a2a2a" stroke-width="0.7" />
<line x1="113.19" y1="304.31" x2="111.39" y2="305.57" stroke="#2a2a2a" stroke-width="0.7" />
<line x1="153.04" y1="385.71" x2="150.92" y2="385.13" stroke="#2a2a2a" stroke-width="0.7" />
<line x1="21.54" y1="349.41" x2="23.66" y2="350" stroke="#2a2a2a" stroke-width="0.7" />
<line x1="53.26" y1="369.44" x2="55.06" y2="368.18" stroke="#2a2a2a" stroke-width="0.7" />
<line x1="136.86" y1="310.84" x2="135.06" y2="312.11" stroke="#2a2a2a" stroke-width="0.7" />
<line x1="167.75" y1="375.4" x2="165.63" y2="374.81" stroke="#2a2a2a" stroke-width="0.7" />
<line x1="36.25" y1="339.1" x2="38.37" y2="339.69" stroke="#2a2a2a" stroke-width="0.7" />
<line x1="76.93" y1="375.98" x2="78.73" y2="374.71" stroke="#2a2a2a" stroke-width="0.7" />
<line x1="160.53" y1="317.38" x2="158.73" y2="318.64" stroke="#2a2a2a" stroke-width="0.7" />
<line x1="182.46" y1="365.09" x2="180.34" y2="364.5" stroke="#2a2a2a" stroke-width="0.7" />
<line x1="50.96" y1="328.79" x2="53.08" y2="329.37" stroke="#2a2a2a" stroke-width="0.7" />
<line x1="100.6" y1="382.51" x2="102.4" y2="381.25" stroke="#2a2a2a" stroke-width="0.7" />
<line x1="184.2" y1="323.91" x2="182.4" y2="325.17" stroke="#2a2a2a" stroke-width="0.7" />
<line x1="197.18" y1="354.77" x2="195.06" y2="354.19" stroke="#2a2a2a" stroke-width="0.7" />
<line x1="65.68" y1="318.47" x2="67.8" y2="319.06" stroke="#2a2a2a" stroke-width="0.7" />
<line x1="124.27" y1="389.04" x2="126.07" y2="387.78" stroke="#2a2a2a" stroke-width="0.7" />
<line x1="207.87" y1="330.44" x2="206.07" y2="331.71" stroke="#2a2a2a" stroke-width="0.7" />
<line x1="211.89" y1="344.46" x2="209.77" y2="343.87" stroke="#2a2a2a" stroke-width="0.7" />
<line x1="80.39" y1="308.16" x2="82.51" y2="308.74" stroke="#2a2a2a" stroke-width="0.7" />
<g transform="translate(14.7,378.12)"><text x="0" y="0" font-family="'Liberation Sans', sans-serif" font-size="12.5">-10</text></g>
<g transform="translate(69.25,389.72)"><text x="0" y="0" font-family="'Liberation Sans', sans-serif" font-size="12.5">0</text></g>
<g transform="translate(111.65,402.58)"><text x="0" y="0" font-family="'Liberation Sans', sans-serif" font-size="12.5">10</text></g>
<g transform="translate(59.36,402.5) scale(1.0235,1.0400)"><text x="0" y="0" font-family="'Liberation Serif', serif" font-size="19"><tspan font-style="italic">x</tspan></text></g>
<g transform="translate(151.1,397.33)"><text x="0" y="0" font-family="'Liberation Sans', sans-serif" font-size="12.5">-10</text></g>
<g transform="translate(184,376.08)"><text x="0" y="0" font-family="'Liberation Sans', sans-serif" font-size="12.5">0</text></g>
<g transform="translate(211.55,355.98)"><text x="0" y="0" font-family="'Liberation Sans', sans-serif" font-size="12.5">10</text></g>
<g transform="translate(194.7,385.41) scale(0.8000,0.9725)"><text x="0" y="0" font-family="'Liberation Serif', serif" font-size="19"><tspan font-style="italic">y</tspan></text></g>
<rect x="42.85" y="250.75" width="24.3" height="20.9" fill="none" stroke="#f28b8b" stroke-width="1.9"/>
<g transform="translate(50.15,266.73)"><text x="0" y="0" font-family="'Liberation Sans', sans-serif" font-size="15.5" font-weight="bold" letter-spacing="0.8">II</text></g>
<path d="M117,238.9L123.9,251.9L110.1,251.9Z" fill="#2a9c0e"/>
<rect x="114.6" y="251.4" width="4.8" height="94.8" fill="#2a9c0e"/>
<g filter="url(#bl)"><ellipse cx="97" cy="302" rx="16" ry="18" fill="#f28b8b"/><ellipse cx="136" cy="309" rx="16" ry="18" fill="#f28b8b"/><ellipse cx="117" cy="305" rx="8" ry="14" fill="#f28b8b"/></g>
<path d="M118.5,272.9l-2.4-.4 -6.3,.3 8.9,1.5 -1.5-1.0 -1.8,2.3 2.0,.3 10.2,4.6 -1.6,2.2 -1.7-.1 -3.4-.2 .8,.8 -8.7,3.4 -5.3,1.3 -1.6-2.6 -.5,4.4 .3,3.5 -2.9,1.9 -.9-2.0 -7.1,2.2 -4.6,.4 2.3-5.6 2.1,3.6 -2.8-5.8 1.1-1.3 -3.3,1.5 4.2,.3 -4.8,5.2 2.3,3.4 -1.6-2.1 4.0-3.9 -.8,.9 -3.4-4.5 3.6,2.6 -.8,1.1 2.4-1.9 -.3,1.9 7.2,4.5 -5.9-.7 1.5-6.2 2.9-3.3 -2.3,.7 5.6-.1 .2,5.4 3.6-2.7 -2.6,4.6 -1.2-1.0 -2.2-2.3 6.7-.4 -3.6-3.3 2.1,.5 -.1,.8 -1.0-.8 -2.5-.9 -1.2,2.9 -.6,2.7 4.6-5.6 -1.7,.9 2.8,3.3 4.1-.4 1.8-1.2 2.3,6.5 -3.3,1.4 -2.2,1.2 4.1-1.7 -2.4-2.6 -3.8,.7 .1,2.0 .4,.7 -4.9,2.2 1.6,.1 -.5-2.3 -1.8-.3 -.6-.4 -.7-5.8 -8.6,8.1 -5.3,.5 -2.7,1.6 -4.6-.7 .9-3.4 2.5-3.1 .2-1.3 1.0-2.6 .2,6.9 .7,1.5 .9,6.5 2.4,.4 -3.0,4.8 2.8-.2 -1.8,1.4 2.4,3.0 .3,2.0 -.1,1.5 .9-1.5 5.5-1.1 -.4,3.0 1.1,2.8 4.1,.9 .5-4.9 4.9-3.0 -.5,2.3 -6.6-2.0 -3.3-4.2 -1.8-5.0 2.5-1.5 4.2,.1 -3.8-.2 .8,1.5 .8-1.4 -3.7-4.5 -3.1-2.6 -.1,8.3 -1.6,2.1 -1.8,2.9 -8.3,2.0 4.7-2.2 4.7-3.2 4.3,.1 .4,2.2 1.8,1.4 -.9-2.8 -1.1,.6 3.3-2.0 -7.1-2.7 -1.7-2.0 1.9,.5 2.0,.8 -1.6,4.8 -.2-1.6 2.6-.9 1.7,3.7 -.1-5.6 2.3,.4 -.8-1.4 -2.7,3.9 -1.2-3.9 4.1,1.3 4.0,3.9 2.1,3.1 .2,1.2 -2.4,3.9 5.6-6.1 2.4-1.2 1.7,1.4 -.8,2.6 -.2-.1 2.5-3.3 -.1-3.3 -.2,1.2 -2.2-3.2 -5.4,1.5 -3.8,1.7 -2.4-1.4 -.1-.2 -2.1-1.4 3.3,2.7 -.1-.6 -1.2,2.2 -2.0-.4 4.9,7.1 -.1-6.8 -.1-3.2 -4.5-.7 -3.5,2.3 -3.7-4.1 .2-3.4 -.1-.3 1.4,5.1 2.1,2.9 2.1-3.5 .3,4.5 1.5,.7 .6-1.0 -1.3,.3 .8,5.2 .2-.9 -3.3-2.3 1.6-.3 -2.3,1.2 1.0,.2 -2.5-1.1 1.0-.4 3.3,4.5 1.2,.4 -4.2,4.1 3.7-.3 -.3,2.0 -1.0-1.9 3.7,1.1 3.2-3.2 4.7,2.3 -9.7-3.5 -1.3-1.0 -2.4,.2 1.4,.7 1.5-1.6 7.3-2.4 -1.4,.8 2.9-2.5 3.3-3.3 -1.0,2.0 1.8,2.1 .5-.2 3.0-1.0 -4.8-2.2 -1.2,2.0 3.0,.6 -9.8,1.5 -5.0,3.1 1.0,1.0 3.5-3.0 -.5-.7 2.1-2.1 -.5,2.3 -5.7,3.4 -.8,3.4 -1.4,3.8 3.0-2.0 -3.4-2.9 .7-.4 1.4-4.4 -.3-2.6 -.1-.7 4.8,2.6 -.1-1.7 -1.1-6.0 2.2,4.4 -2.5,1.2 2.3-.5 7.1,2.4 .2-1.3 4.6-1.8 -4.5-.7 -.6-1.8 .8,2.1 .4-3.7 -.5-.5 -6.4-.2 1.0,3.7 -5.3-1.1 .4-3.7 1.6,1.0 -12.1,12.4 -.7,5.4 1.1-3.9 -3.3,.2 -2.5,2.0 -1.4-.6 1.9,2.0 -1.0-2.0 2.9-1.2 .2-2.8 -2.5-.4 -2.5-.6 -.8-4.5 -.9,.1 1.5,1.6 -.1-2.6 .8,4.4 -.9,4.3 -1.1-3.9 0,5.2 -2.2-2.2 -4.1-.1 1.8,1.3 -4.0,3.1 -3.3,0 2.5,0 1.6-.2 -4.3-9.0 -3.5,.5 1.9-1.4 4.3-2.3 3.0,.6 -1.2,2.4 -1.2-3.3 -1.7,0 4.0,5.0 12.4,3.5 .7-4.8 .1-3.2 -4.1-.7 4.7,1.7 -3.8-1.8 .3-.3 -1.0,1.3 4.7-.1 -1.6,.9 2.5-3.7 .4,1.5 -1.2,.2 -1.9,.1 4.4,1.4 -5.8,.1 1.0,2.2 -3.3,1.8 2.5-4.2 -1.3,2.1 -1.1-1.9 .7-2.4 -2.4,4.0 -1.7,1.5 .3,1.9 3.4-.3 1.2,4.0 3.2-4.0 2.0-2.6 -2.6,4.4 -2.6,.1 -1.5,1.2 3.2-.4 2.2-4.5 .5-2.1 5.4,.3 -2.9,1.4 -1.1-.4 .8,.2 5.3-4.7 .7,3.5 1.3,.6 2.6,1.7 -.1,1.9 -.7-.9 -2.8-3.8 -.8,.2 4.0,4.9 1.7-2.3 2.7-2.4 1.1,1.1 -1.8-1.6 0-2.7 -.5-1.5 2.1,2.8 2.4-4.2 -1.3,.2 -5.7,8.9 1.1,2.1 .8-8.4 2.2-2.5 -6.5,3.5 -2.3-.5 -2.9-.8 1.9,3.5 -1.1,1.0 -3.2,2.9 .7,1.6 2.2,.9 1.4-2.6 -.6-2.8 1.0-1.7 4.0,3.0 1.3-1.1 1.7-.5 -7.7-11.9 -1.0,3.9 -2.5-4.3 1.6-3.7 .8,4.0 2.8,1.1 -.5-1.8 -2.6-4.1 3.5,4.4 -4.1-1.8 .3-5.8 1.0-2.2 3.6,.6 3.0,1.6 -1.0,3.9 -1.9,2.2 1.3,3.2 .4,2.7 -4.2-3.6 1.3-5.7 .2-2.4 .4,1.8 1.9,5.8 3.8,3.0 -.2-3.2 2.2,2.9 2.6,2.7 -3.5,.6 .2-4.3 -4.2,.6 -.4,1.0 3.9-3.0 2.7,4.1 .7,1.6 -3.8-1.6 -1.6,5.4 -1.1,3.0 -3.1-4.0 4.4,1.1 -1.4,2.2 -2.4-1.4 3.4-.3 5.8-2.4 2.6,1.2 .5-1.0 -1.1,2.2 -2.5,.2 1.9-.2 .4-1.6 -3.3-2.3 .2,2.6 5.0,3.5 4.4,3.1 .5,2.9 2.5,.7 -1.3,.7 1.5-5.1 3.0,1.4 3.5-6.0 -1.7-.5 -3.1,2.7 -2.7-.2 -2.1-6.1 -.4-3.0 -2.3,.4 -4.4,6.6 -1.1,1.8 6.4,2.9 -1.4-1.6 4.7-4.5 -.6-.5 -5.9-2.6 -.2,0 -1.9-.4 -5.3,3.6 -2.0,3.9 -1.4-1.7 -6.3,3.9 .7,1.8 5.5,4.0 2.7-3.6 2.0-2.3 3.0-2.1 .8,3.3 -4.4-2.1 5.4,2.2 3.2-1.1 1.1-3.0 1.3-3.2 1.8,2.8 -.1,4.0 -2.6,.3 -.5,.8 -.4-.6 -2.2,3.8 -8.3-6.8 2.2-2.3 -1.4,.9 1.7-1.4 1.3-3.8 1.3,2.9 -.7,.2 -.7,1.0 -3.1-1.1 2.2-1.7 -3.2-.4 2.7-3.9 -.6-2.2 -1.0-.8 .5,.2 -2.8-1.4 8.8-.2 -.3-2.9 -3.1,1.3 -1.1-.1 .5,.9 -.5-.2 -6.8,4.1 -3.0,1.5 -8.7,1.4 -1.5-4.3 1.6,.4 2.9-.1 -.4,4.7 1.2-.4 1.5-.2 -1.9-2.4 2.4,2.5 -2.1,1.7 -3.9,2.1 5.1-3.4 2.4-5.1 -2.9-2.8 -.3,2.9 1.5-.9 1.7,3.0 1.2-3.2 .7-3.0 8.2,3.7 -6.1-4.7 .4,3.6 .1-3.0 -.6-5.1 -.8-2.0 .2-2.5 4.6-2.0 1.2,4.7 -1.2,1.9 2.7,.3 -.4,1.6 .3,.5 2.4-1.2 3.0-.4 2.9,2.6 -1.4,2.6 -1.7,4.6 -.8,.5 5.5,7.3 3.5-2.1 4.3,.2 -1.8-.8 .8-2.2 1.2,3.4 1.3,2.5 -5.1,4.4 -.3,.7 -4.3,.6 2.2-2.2 5.0,5.0 2.4-3.3 .4,3.6 .9-.2 -1.1,3.8 .7,1.7 2.8,3.6 2.9-2.0 -6.3-6.9 2.1,3.7 1.5-4.1 -3.5-5.0 -.5-1.4 -3.4-.6 .1-3.6 .8,3.3 -.1-2.1 -.6,3.8 -7.7-2.4 -3.3,.3 -1.7-.3 -2.9-2.7 -4.6-.8 -.1,2.2 1.2,2.4 2.1,3.7 .7,10.7 3.9,1.2 6.5-3.0 .8,.7 1.6-3.8 -2.6,.3 1.7,.5 -5.3,.6 .8,3.5 -.9-7.2 -.3-2.4 -3.2-1.9 2.0,2.3 1.7,.2 -.5,1.7 -1.2-7.3 4.2,4.0 -.5,1.4 4.7-3.3 -1.8-8.0 -.2,4.5 .5,0 5.4,6.2 -1.8,2.1 1.0,1.2 -3.1,.2 -3.3-.3 -4.2-.9 -1.9-4.4 -1.6-1.1 -6.9,4.1 -3.0-2.2 -2.7-1.5 1.8-2.4 1.1-.7 .2-3.5 .5-.2 6.7,.5 -.8,3.6 -2.3-3.7 2.1-4.6 1.7,2.9 -1.2,2.3 -1.4-1.7 .1,.8 .2,3.0 2.6-1.8 -2.3,5.2 -2.1-2.9 -1.3-2.1 1.9,2.3 3.4-3.0 -3.3,1.5 -3.9,3.4 3.9-4.5 2.3,.1 -1.1-4.9 6.0,1.9 -4.5,1.2 1.5-1.9 .5-3.0 -3.5-1.9 -.3-.1 -2.6,4.0 1.1,.5 1.7,.5 -2.1-3.4 3.3-2.9 .5-1.1 -1.3-5.3 -.9,6.2 -1.0,.2 4.4,.6 -4.2-.8 -5.3,12.2 -.3,.8 4.9-4.2 .2,.3 -2.1,2.8 -1.6,3.8 2.5-2.8 -2.5-3.5 3.6,.5 -2.2-3.5 -5.6,.7 -2.8-4.3 .1,7.7 -2.8,1.4 -.4-6.0 1.9,1.0 2.1-1.7 -.3,3.4 -.8,2.9 .2-1.0 -1.6,1.0 1.4-2.5 .6-3.7 -1.9-3.3 -3.9,4.4 .7,1.7 2.4-3.0 -.3-4.9 2.8-.6 -3.0-.9 -4.2,.9 1.0-1.3 2.7,0 1.5,3.9 .7,.8 -4.4,1.5 4.2-1.5 -2.8,0 5.1-3.6 11.2,2.8 1.4-7.4 .3-3.7 -1.8-2.4 1.0-.7 -3.8-3.5 3.8,1.9 -1.2,.2 4.9-1.0 -.2-3.2 -1.2-1.4 -2.7,.9 1.5,.9 2.8,1.3 .9,1.9 -2.7,3.0 1.6-.2 1.3-2.7 -.2-.6 4.3-.8 -.4,1.1 1.4,.4 -2.5-1.0 2.1-.5 5.1,6.8 2.6,2.3 1.8,2.0 0-.3 .8,3.9 1.6,4.4 -1.4,1.7 -.6-2.7 -.8-2.5 -4.1,.2 -.1,1.9 -.7-.1 2.9,.7 -2.3-.7 -1.7,3.7 -6.4-.6 -.3-1.7 1.0,3.9 3.3,1.5 1.2-1.6 -3.8,1.4 .3-2.1 .4-2.0 -6.6,.9 -5.1,2.5 -2.9-.3 -3.7,1.8 .3-2.8 3.9,1.3 -1.4,.5 .8,7.9 -1.3,2.2 1.4,2.0 -.5-2.9 -1.5,4.7 -.2-4.3 4.2,1.2 .8-1.4 .9-4.2 -6.9,1.9 5.5,5.8 1.6,2.6 -1.2,1.9 4.2-.5 -1.3-1.4 -.7,1.1 3.9,2.6 -3.1,1.1 -3.5-3.6 -2.7-1.3 1.5-3.8 -1.2-3.0 .4,1.3 2.3,1.4 -4.8,2.0 .9,.3 1.9-7.1 2.8-4.2 5.4,1.7 -1.4-7.5 -.6,3.8 -1.9,5.4 1.3,3.2 -.4,1.8 -2.9,4.0 -1.7,8.2 2.1-3.5 -1.8-1.7 5.1,2.0 -1.3,3.5 4.0-1.8 3.8,1.1 -2.0-1.0 1.9-2.2 1.1-3.7 -.3-.9 -4.7-3.4 -3.2,.6 1.1-1.3 3.8-1.2 -4.9-.4 .6,2.3 5.5-5.8 2.4-1.0 -5.3,3.1 1.3,.2 3.8-2.4 -1.2-5.1 -1.5,.3 -.3-2.0 -8.1,6.9 -7.2,1.5 -2.3,6.5 -3.5-2.3 -.3,2.9 -1.9-.6 -.7-2.0 1.7-4.5 -.8-.8 4.2-3.1 .8-6.6 2.0-3.8 3.2,1.3 .8-1.9 -.5,7.0 -.8-.3 -9.7-6.0 -3.5-1.6 4.8-2.7 -.6,4.8 -.3,2.1 -1.7,6.1 3.7-1.6 -2.7-.4 5.4,.1 1.4-3.6 1.1-6.2 3.4,6.6 .2,0 -2.2-2.8 1.3,3.9 -3.7,1.1 2.1,3.4 2.4-3.0 2.0-.5 -3.8-1.9 -3.2-2.5 .9-2.3 4.1-7.8 1.7-1.4 -3.1,.1 -.5,.7 3.0-.6 -1.0-.8 -5.6-3.7 -1.9-.9 3.2-.3 3.8-1.9 1.4,4.2 2.3-4.9 2.7,2.3 1.5,1.5 -2.5-.6 2.3,1.6 1.5-3.4 5.5-2.9 -2.9-2.1 1.1,1.1 1.5,1.7 -5.2,2.6 -1.1,.3 2.8-1.9 -.6-1.3 9.4-1.2 5.5-3.5 2.3,4.8 -3.0,2.0 -2.2-1.7 0,2.5 1.2-1.2 -8.3,3.4 -1.6-.9 .8,.1 -.1-3.7 .6-4.3 1.9-3.1 -.6,2.2 -.6,1.9 1.5,2.0 .4-1.3 .2,3.4 -.1,.4 -3.0,.7 -1.0,2.9 5.2,3.6 -.5,1.2 .5,5.6 -3.9-1.7 4.3-.3 -5.1-1.2 -1.8-1.1 5.0-1.5 -2.2-1.0 -1.5-3.2 .3-4.0 4.0-4.9 1.9,4.1 -6.2-3.0 .7-2.7 .5,2.4 -.2,.6 2.9-.5 -2.5,5.3 -3.0,1.2 -3.4,2.5 -2.9,.5 -.7-1.7 -3.1,1.3 2.2-5.0 -.6-.1 1.5,1.0 2.7,4.1 6.0-1.2 -4.9-.9 2.9,3.0 -.8,1.6 -1.9-1.8 -.1-3.1 1.3,4.5 1.0,6.3 -1.3,1.7 -.2-1.3 2.3-.8 -1.0-.2 2.4,5.2 -1.1-5.1 1.2-1.7 -3.2-4.0 5.1-2.9 -.8-3.5 1.7,1.6 4.2-.4 1.2-2.1 -5.7-.6 -5.6-1.6 -5.5,1.8 2.0-3.7 -10.6,9.7 1.1-2.0 -11.3,1.9 .3,4.8 2.6,1.5 -1.6-.7 2.1,.8 1.1-1.4 1.4-6.3 -1.4-.7 -.4-3.8 4.2,3.5 -1.4-.1 4.5,.5 -5.4,4.5 1.6,2.9 .8,0 1.8,4.1 -1.9-5.9 -1.7,4.5 1.0-1.9 5.2,.8 2.3-2.0 -1.7,6.1 2.0,3.4 -1.0-11.8 .9-.8 -5.0,1.7 -3.1-.2 -3.0-2.5 6.3,2.0 6.3,1.1 -1.4-3.1 -4.0,1.4 -1.1,.5 -1.7-3.2 -2.7-2.1 0,2.0 6.0-1.7 3.2-1.5 7.1-.1 2.7,1.6 -3.7-.6 -2.6-2.6 2.2-1.3 -3.3-3.3 1.6,2.2 -.9-7.3 3.9,3.6 3.0,8.7 4.3,2.9 -.7-.5 1.4-.4 -2.6-2.9 -1.0,1.0 -3.2,3.6 .5,5.8 1.8,1.7 -1.0,6.2 -.4-5.6 1.0,1.6 -1.2-1.9 -1.2,3.4 1.1-1.4 .8-.5 3.8,.2 -2.8-2.4 -3.0,.5 5.3,2.0 -1.6,2.7 -1.5,1.8 -4.9-2.9 4.2,2.1 -2.2,1.7 -4.8,1.9 2.0,1.5 3.1,1.9 -3.1,2.9 -.5,1.1 -5.8,2.3 2.6-1.0 -7.8-3.3 2.9-6.4 1.8,2.7 .3-3.2 2.8-2.7 -1.4,3.1 -6.7,1.3 -1.2-.7 -2.9-.4 1.9,4.5 3.9,.2 6.2,4.1 -1.8-3.0 1.4-5.6 1.2,.9 6.8,2.5 -2.2,2.2 .3-.3 -1.3-3.2 -8.2-2.3 -2.0-3.6 3.2-.4 -.5-1.0 -2.1,1.6 -5.1-3.8 -2.6-7.1 1.8-1.1 1.8,4.3 1.5-1.7 -3.1-5.1 .1,2.4 4.2,.6 -.8,4.6 .5,2.9 -2.9,5.3 -1.2,1.4 -1.2,.2 -.8,2.8 -.1,2.5 .8-1.4 2.3-3.6 6.5,4.2 -2.9,.4 -2.0-5.3 2.8,1.9 3.4,2.1 -.2,1.9 -.9-1.7 4.8,1.5 -2.2,1.0 -.5-1.8 .7,1.0 3.6,.1 -2.2-5.0 5.7-2.9 3.2,.4 2.7-.3 -3.0,2.6 -2.2,1.5 -1.5-2.7 -2.0,3.5 -3.2,3.9 3.0-.4 -.2-2.9 1.2,1.0 -4.9,.8 -.6,1.2 -1.6,2.1 3.0,3.3 -2.9,0 1.2-3.6 -2.4-2.8 .6,2.5 5.2-.1 -1.0,1.2 2.5,3.5 1.5,4.7 -.3-1.0 .6,3.6 .1-2.7 6.9-1.7 -1.4,.2 .2,3.7 1.5-.6 -2.1,.7 -5.3-4.3 -3.1-1.3 -3.2,.8 -2.6,0 -2.4,.8 -.6-.9 -9.0,.3 5.6-4.1 .7-2.0 .5-1.1 1.6-4.9 -6.0,4.7 -1.1,2.7 -.6,.9 1.6-.3 .1-1.4 -4.5,4.2 -3.2,.7 -5.4-2.8 2.6,4.5 4.5,.4 -2.5,1.3 -2.7,.2 6.4,3.5 .6-2.1 -1.6-3.4 1.4,.8 -1.3-1.0 -2.9-.5 2.0,3.2 1.7,3.6 1.6,.1 1.2-2.8 0-5.3 -.7,.6 1.8,4.1 -2.5-5.6 -1.8-5.9 -4.1-1.9 5.7-3.1 -3.3-4.8 .8-1.8 -.4,3.0 2.9-.8 2.2-3.9 .2-.8 -2.0-3.8 1.3-2.2 2.3,2.6 -2.1,6.0 1.5,2.1 1.0-2.3 .6,3.8 2.4,1.3 -1.0-.4 .9,1.1 2.1,1.0 5.0-1.9 -1.0,7.0 -1.8-1.8 3.8,.4 5.8,2.9 -.1-4.4 5.0-3.2 .4-6.5 -4.2-1.7 3.4,1.4 -4.8,.9 -.7-2.1 3.4-6.9 1.6-1.7 -3.5-.5 3.6,4.4 -2.5,3.1 -4.1,2.0 -2.2,.3 -.2-.1 1.1-.4 -.5-3.2 2.4-2.0 1.3-.7 -1.2-2.1 2.5-.9 -.6,2.4 -1.9,1.3 3.9,10.5 -5.8-.5 4.8-1.9 .6,.8 3.0,.1 -1.0,5.3 -6.7,2.4 1.1,6.3 -3.1-2.6 4.3-2.3 .9-.4 12.0-10.6 2.2,3.0 -3.0-3.1 -2.2,4.2 .5,.7 2.2,.1 5.2-.4 -.8-2.1 4.1,4.3 .2-1.4 -1.6-.6 -1.4,.6 -4.0-3.1 1.2-3.1 -.3,2.2 2.5,0 1.6-4.0 9.9,1.0 4.4,.5 -7.7,.5 .2,3.5 -1.4-7.9 2.9,.7 .1,3.2 5.0-1.3 .3,3.7 -1.0-1.6 -3.1-5.7 .4,2.9 -2.8-4.5 1.7,8.3 -2.1,2.7 .8-.8 1.7-.7 1.3,.1 -3.2,1.7 -5.2-2.0 2.1-.2 -4.7,1.8 4.7,.1 -1.2-3.0 -2.7,2.3 -.6,2.6 2.1,4.2 -2.1,.7 .8-2.3 -5.3,2.1 .2,2.9 -5.0,.3 -1.1,4.3 -4.3-3.4 .5-3.5 -1.7-1.4 -1.9,1.7 -4.5-1.9 -1.2-.3 -2.0-1.3 1.7-1.5 -7.1,2.5 -2.0,3.2 .1-5.0 -7.0-3.7 2.8,2.2 -.3,5.8 1.3,4.6 -1.9,2.5 -3.3-.5 -.2,1.6 -1.4,3.9 3.9-1.3 1.1,.5 -1.0,2.9 -.8-2.0 -3.0-3.0 -.5-2.8 -3.2,2.3 -3.2-1.9 4.4,1.9 -2.7-5.5 -3.3-1.1 1.9,2.3 2.0-1.1 3.0,3.9 -1.5-4.8 3.9-2.4 .7-.7 -3.5-5.1 -2.7-.3 -6.6-2.6 -5.7-1.2 -4.6,2.9 -.1-1.8 4.5-.3 1.3-1.1 -.3,1.4 -.4-1.9 3.5,.9 2.6-2.8 .1,2.1 2.3,3.6 -.3,1.9 1.8,1.3 -3.5-.8 .6-1.5 -3.7,1.6 2.0-.5 2.8-.2 .6,1.8 2.3-.2 2.2,2.9 -.7-3.4 .1,2.3 3.1-1.9 2.1-1.3 3.1-.3 7.6-1.7 -4.0-3.4 1.2,.8 -1.9-4.7 1.1,3.3 2.5-1.4 -.2,1.1 2.2-7.9 .3,2.5 -1.7-1.9 -1.7,4.3 .5,2.8 -.2,0 -3.0-1.6 1.8,1.4 -1.7,2.8 0,3.6 3.5,5.8 -.3-.9 1.0-2.3 -2.3-4.8 2.9-5.7 -1.2-5.8 1.9,4.4 -2.0,.1 1.9,1.4 3.8-3.3 5.0,1.5 .8-.7 .5-1.0 -.2,2.7 4.6-1.7 2.6,1.4 .9,.4 -1.2-1.6 1.9,1.0 2.5-1.8 -2.9,2.6 3.3,1.9 -3.5-.3 -1.9-1.8 3.9,.4 -1.7,.2 2.9,7.3 1.7,.3 1.5,3.7 -.5,2.0 -.6-.5 -.3,2.8 -.4,2.9 3.0-2.3 -.3-2.9 -3.6-2.8 2.4-3.6 -.9,4.4 1.4,3.9 -1.3-4.2 .7-.5 -1.5-1.9 -2.6-3.0 -.6,1.2 -1.6-6.3 -.1-3.4 -1.5,1.1 -4.1,.1 -1.7,1.2 -1.0,3.4 -6.8,3.4 1.9-1.5 -7.9,1.4 1.2-5.3 7.1,1.6 -1.8-.3 3.3,1.6 -.8-.5 -1.5-3.7 .9-4.9 -.3,2.5 1.6,4.1 -1.1-.1 .6-1.6 -2.2-1.2 .5,5.2 2.1,.6 1.4,.2 1.7-3.9 1.8,2.9 2.2,.6 3.6-5.2 -7.9,4.0 -1.1-1.4 -1.5,.1 -1.3,.6 -.3-1.7 -1.1-1.3 7.5,3.3 1.7,1.8 3.8-2.5 -2.5,.5 -4.6-4.7 4.2-2.3 4.0-2.2 5.5,2.7 .3-4.2 -5.2,1.4 .2-.8 1.2-.8 2.5,.5 3.0-3.4 1.0-.1 -1.4-.3 1.9-1.1 3.3-1.4 -.8,.8 5.1-.9 1.7,4.7 -1.6,0 1.9,5.1 2.2,1.5 -3.7,1.4 2.8-2.2 -1.3,2.0 1.6,1.5 0,0 -1.8,4.8 -2.1-.2 -5.5,5.2 1.5,0 -1.7,2.2 -4.0-.4 -1.1-1.2 -2.7-3.1 -2.8,1.7 3.4,2.7 1.0-3.2 -1.7,3.8 .3-2.2 1.5-2.7 1.1-3.9 -5.3-5.3 -6.0,1.4 -1.0,5.1 0,3.5 3.8-5.5 .3,.3 .6,1.8 0-2.5 2.2-2.5 -.7,3.1 -3.4,3.8 2.4-1.1 1.2-.6 -2.0-1.0 -2.6,2.6 -.1-2.7 .7,1.8 -.8,3.8 -.6-5.0 -1.5-1.0 -1.7,1.2 -1.3-5.2 1.7-2.6 -5.1-.9 1.0-.2 -2.4-4.6 -1.6,5.3 4.0,1.5 -4.4-.6 .3,.9 -3.6,.9 0,3.7 -.5,.8 .3-2.4 1.8-4.9 -4.4-4.7 -2.5-2.3 5.5-3.3 2.3,6.6 4.7-2.8 -2.9-6.6 5.6,6.6 -3.1-1.8 1.8,2.2 -2.5,1.8 4.2-1.5 3.8,6.0 -2.9-3.0 -2.3-6.2 1.5,3.5 3.4,1.3 5.3-2.7 -4.5,4.8 -3.4-4.7 5.5,2.0 -5.8,8.4 -4.0,.6 4.6-.4 1.9-2.0 .5,3.0 -4.9,2.1 -4.0-2.2 -.9,6.6 3.8-.3 .5,2.9 11.1-5.4 .5-1.0 2.5-.5 2.0-2.1 -2.9,.4 -.9,4.8 -1.6-.8 .6,3.2 -2.8,.9 .4,4.3 1.8,5.0 4.6,.1 4.2-4.4 -3.7-2.5 -1.1,1.1 -5.6,.4 -1.9-.5 -.4-.2 .2,.8 3.1-1.7 -2.4-.4 -3.7-4.1 .1,2.0 5.3-1.8 1.9-2.5 2.8-2.6 3.8,1.5 -.8,1.5 .7-.4 -3.0,1.7 .4-5.0 .1,1.2 1.3,1.9 -3.2-3.1 .6,3.1 1.4,5.7 .3-.3 -.8-3.6 -2.4,5.0 -1.9-2.4 -4.2,3.5 5.6-.3 2.8,3.5 6.8-11.7 -2.8-4.3 6.3-3.4 2.4-.5 -3.0,1.3 1.5,1.8 -2.8-.3 -3.0-2.5 -2.0,0 -3.8-3.7 2.8-2.7 -5.5,.3 2.0-2.4 -2.3,1.5 1.5,4.1 .8,1.5 -1.5-.1 3.5,.9 -1.4-3.4 1.1-.4 -1.3,2.0 -.3-2.2 9.7,.1 .3-3.3 -.4-1.9 -2.1,1.6 -1.0,2.4 -4.3-1.7 -4.8-3.2 .1,.5 .9,2.9 -5.1,2.3 4.7-.7 .7-1.3 .3,6.5 .7,7.3 -.1-2.0 3.2,3.7 -1.9-2.3 -.6,2.1 2.7-1.8 -3.9,1.4 -7.8-3.7 -4.3-1.0 .4-3.9 -2.3,.6 7.0,1.8 -4.6-.5 .4-7.1 -1.3,7.4 2.0-2.4 -7.7-2.5 -4.2,3.1 5.1-3.6 2.2-1.0 2.0-1.6 1.7,1.3 -1.2-.1 6.0-3.5 -.5,4.8 6.6,6.9 1.7,2.0 -5.4,1.0 8.4,4.4 5.2,5.3 -.2,2.7 -1.9-5.4 -5.9,2.1 .5-.7 -3.0-1.6 -3.3,1.2 2.4-3.3 -2.5,3.1 .3,.3 3.5,2.0 -3.1-.3 -.1,2.0 .4-1.7 -3.0,3.6 .1,0 -1.0-4.9 -3.0,1.6 2.0-3.3 1.3-4.6 -5.4-.9 -1.0,3.8 -1.5,3.5 -1.2,2.5 -3.7-2.3 6.9-4.7 3.7-.8 -2.9-1.0 -.1-.4 -3.8-3.0 -.2-2.4 -4.9-3.0 1.8-3.9 -2.2-1.9 2.7,3.4 3.3,3.3 1.5,.4 2.6,5.1 1.1,2.8 4.8,1.1 -.8-2.5 .9-2.5 .7-2.8 -.4,.4 -2.1-3.1 .2,1.8 1.4,2.9 .6,6.7 -.9-.1 2.5-.2 -2.3,1.6 -1.2-.9 0,.8 -.3,2.7 1.9-6.2 -3.1-5.0 2.2,2.7 1.4,1.8 13.5,6.5 -3.0-2.3 3.3,.8 -2.8-2.2 -6.1-3.5 -2.3,7.4 2.8,4.6 -2.3,.6 -4.7-2.7 -2.4,.8 -.9-.7 -1.9-2.0 -1.3-.9 -1.1-2.0 .2-.7 .1-2.6 -2.3-3.4 -3.6,5.0 5.3,.9 4.3-4.8 1.5-1.2 1.1-4.4 -.5,2.6 -2.7-2.3 3.7,.4 1.5,2.4 3.7-1.5 -.4-.5 3.4,3.2 -2.3,1.9 2.2,.3 .3-1.7 .6,.3 .3-2.9 4.5-2.6 2.5,1.0 2.8,.7 2.8-1.4 1.3,3.1 7.7,3.5 -3.2-.4 -3.1-2.0 -1.5-2.3 3.1,.5 -3.3,.5 -.4-4.1 -1.5,1.0 3.6-3.9 -1.9-.5 3.2-2.0 -3.6,1.9 -2.7,1.9 1.2,1.4 3.6,2.2 -2.9-7.4 -4.2-.3 -4.6,2.9 -3.5,3.9 -2.4,1.6 -2.8-.9 -4.7-3.5 -4.1-.4 -3.6-1.8 -.2,2.0 6.2,1.4 1.6,1.4 -.6-.2 -4.2,1.4 -2.1-.9 -2.1,4.4 -.7,5.3 2.7-4.2 1.5,2.6 5.5-.2 -6.0-1.0 3.7,5.2 1.3-.5 -.1,.3 -.5-4.7 8.2,3.8 -1.0,1.9 .7-5.6 .2,2.0 4.2,.2 -.1,2.7 5.3-3.0 1.6,4.4 -3.1-.9 1.9-7.3 .2,1.1 -.9,.4 1.9-6.7 -.7-.3 .4-2.5 .3,2.1 2.5-.4 .6,2.4 -7.8-.6 -2.0-1.8 -5.5,4.5 -.3,2.4 -3.1-1.0 -.1,.3 -1.6,3.5 -.8,2.2 -6.8-.3 -4.1-1.4 1.4,3.4 -2.2,4.1 5.0-.4 -6.4,1.0 -3.5-3.4 4.6-1.5 8.4-4.9 1.8,3.3 -7.7-.7 -1.0-1.7 1.5,.5 .3,3.5 0-3.3 .3,4.1 -.7,1.9 -.9,1.1 .6,5.3 -.1,1.3 2.3-3.6 -1.6,1.0 5.9-.8 .9-.4 .2,1.1 1.0,2.4 1.6-2.1 -.3-2.1 -1.0-.7 4.8,2.2 1.2-.6 -.8-.5 3.2,3.0 2.9-6.9 2.4,1.2 .5,1.6 -3.7-1.9 .4-2.6 -.9-.5 -2.8-.9 -2.2-5.6 -.4-1.8 -3.1-.5 -2.8-.7 -.5-3.1 3.6,1.2 .4-2.7 -4.2,1.5 -.3,2.1 11.4,4.3 -3.1,4.5 .7-1.7 2.7,2.2 -1.1,3.7 -6.1,4.1 -3.7,.4 .7,4.3 -2.0-.9 2.8-1.3 -2.2,2.0 1.5,5.2 -2.2-8.7 3.2,0 -3.8-1.9 -3.4-1.8 1.2-2.5 -2.4-1.8 -4.0,.6 3.3-2.9 -2.2,1.3 -1.2-2.6 -.8-.7 3.8-2.9 -1.9,2.8 3.9,2.5 .4,.8 -.8,1.8 1.8,.8 -3.5,1.6 -1.2-1.0 2.8-.5 1.6,2.8 2.5-.9 4.2-2.2 .5,4.6 -.6-5.7 .2-1.5 3.8,1.3 -.5,1.0 -.6,3.7 5.6-1.4 .4-.8 .6,9.2 3.3,2.3 -.5,5.0 -1.3-.6 .2,2.2 3.1-2.0 4.5-2.0 -4.0,.9 1.6-3.4 -2.9-.3 6.2,.9 4.8,2.7 1.0,0 .9-5.2 4.4,2.1 -2.2-1.2 -9.9,1.0 -2.6-2.8 -1.8,3.7 1.1-.8 -3.1,2.9 -6.1,4.3 1.6-5.3 .6-3.1 2.9-2.5 -2.6,.9 1.2-1.5 -1.7-.3 2.0-4.8 2.3,4.4 3.8,3.5 -3.5-.7 2.7-3.7 -5.8-2.9 5.8,2.0 -1.0,5.5 .6-1.7 -.1,5.0 -1.1,.6 2.6-3.2 -2.1,2.1 -2.3-1.9 3.8,1.1 -3.2-4.8 -2.1,.7 2.8-3.6 -1.2-3.2 -2.8,2.3 1.7-5.3 2.0-.7 -.8-.1 2.7,2.6 -1.5,1.4 -2.9-.1 -.4-.7 -.8-2.2 -5.9-2.4 .7,2.3 -2.4,1.5 -.5,1.4 -.8-2.3 2.0-4.6 -4.2-6.7 -2.1-3.5 3.5,.4 3.8,.5 1.0,.5 -1.3,1.2 .5,1.1 -2.4-1.1 -4.0-.1 2.7-2.2 -5.8-.4 .2,1.9 -.9,1.4 1.1-1.6 -7.8,.3 -1.9,2.2 1.3-2.1 .2,.5 4.8-3.1 1.7,6.3 -1.3,.4 3.1-1.2 -.3,3.8 3.7,4.5 6.3-.8 1.9-1.6 -3.5-1.2 -3.9,2.0 -.3,1.7 -2.2,1.4 -1.7,.8 -7.8,1.0 13.0-2.4 -2.4-3.3 .8,0 3.5-3.5 13.0,10.2 -2.2,5.6 3.4-5.6 -2.9,1.1 1.3,3.1 4.7,1.0 -4.5,2.5 3.0-1.0 -5.5-3.4 -2.2-4.9 -.2,.6 -.3-3.2 -1.9-3.0 0,1.7 4.7-2.5 -1.6-2.7 1.0,4.2 -.3,.1 -3.9,4.7 -2.0,5.6 -3.0,0 .2-3.5 2.2-5.9 -6.4,1.3 .5-1.8 2.1,3.9 2.3,4.9 -2.6-.3 -.7-.2 4.5-.6 -1.7-3.8 -2.4,5.6 1.6,2.7 -.7-.3 1.3-5.1 .8,.3 -4.0,0 1.1-.9 5.5-2.6 -1.6-7.0 1.6,.3 -.4-4.4 -.4,2.4 2.7,2.0 -2.5,1.7 -.3,2.3 .3,4.5 -2.2-.2 -3.6,1.5 -5.3,3.1 .3,.9 -8.8-17.0 1.1-3.4 4.0-2.6 .4,2.0 -3.1,1.4 4.1-3.3 -2.8,1.3 .7,4.1 3.0-1.7 .4-10.3 -7.1-1.2 .9-2.7 .1-2.6 -2.8-2.3 -4.9,7.3 -3.5,2.3 4.4,2.0 .2,.9 3.4,2.4 -5.9-1.2 -.6,.2 .4-1.5 1.8,1.7 -5.2-.6 3.6-.5 -1.5,5.5 -1.8-.8 3.1-4.0 3.4,2.8 -2.8,.2 2.2,.2 -.8-2.2 1.8,2.4 -1.5-1.5 3.1-3.8 2.8-4.1 -1.9,2.6 1.7-1.9 -2.4,.3 3.4-5.9 1.4-.2 1.0,2.3 .1,3.4 -.5,1.7 -2.2-1.6 5.4,2.8 3.8-4.6 -1.1,5.1 1.0,1.0 2.8-4.2 -.9,3.5 -2.3,2.4 -2.8,4.4 -.3-.2 5.0,2.5 -3.8,2.2 4.3-5.0 -4.4-3.9 2.8,3.7 -1.4,3.0 -3.0,1.7 .6,3.8 1.7,6.4 -3.4,3.5 4.0,1.8 -.3-3.7 -2.4-1.1 1.7,4.0 1.7,1.9 -.4,.5 -3.8-.3 -2.8-.9 3.8,2.4 -2.3,2.4 -1.1-3.7 1.3-4.4 4.0,4.3 -2.4-2.9 4.1,2.3 -2.6,1.8 .1,3.7 .1-1.7 4.3,.9 .5,1.8 -4.1,2.3 -4.0-.6 -2.4-2.9 .2,4.4 1.9-2.6 -6.0-.9 -1.4,1.5 -4.7,.4 -1.1-2.7 2.9,5.4 -2.4-1.5 4.5,4.8 -3.5,2.0 2.4,3.2 -4.0,4.8 -.1,1.1 1.3,3.7 14.5,.1 .3,.4 -.9-1.0 0-2.8 4.4-1.5 -2.3-1.1 -2.7,2.1 -1.7-2.7 -.9,2.7 -2.1-4.9 2.0-3.6 -1.9,2.9 2.1-6.1 .2-1.2 -6.8,3.7 2.8-1.4 -.9-1.3 -1.2-.8 .3-6.2 .5,2.6 -.2-2.5 -1.0,1.3 2.3-2.6 -3.7,1.9 -.9,6.4 .4-4.9 1.9-1.7 -2.2-2.8 .5-2.9 -1.9,.6 .8-1.0 .5-.6 -5.1,3.7 2.0,.8 2.7,.2 2.9-1.4 3.0,1.6 0,3.9 1.1-1.3 1.8-3.4 1.1-1.5 -3.5-.3 -1.3-3.1 1.3,1.0 .3-3.8 -.5,.8 -1.5-.3 1.0,5.5 3.1-1.2 1.4,1.7 -2.4-3.1 2.9-.5 0,1.5 -1.1,0 -2.9-1.4 -.7,1.1 -1.5,6.3 5.1,1.6 -3.1,.1 2.2-6.1 1.8,3.1 -3.4-2.0 -.7,2.4 4.1-3.6 -3.8-1.2 4.2-4.3 1.0-.8 -2.4-3.3 -.7,2.6 -5.9,1.2 -1.9,2.2 -.1,2.8 -2.1,0 4.2-1.8 -2.9,1.8 2.6-.4 -3.1,2.2 1.7-4.0 .2,4.4 3.3-4.6 .6,.8 -2.1,2.6 2.0-2.2 -1.4-1.2 -2.0,.1 -.7-2.3 3.8-2.6 -4.9-2.9 3.9,1.7 -.3,.9 4.7,4.9 .4,1.9 -.9-1.6 1.1-.9 -7.9-.8 .4-.9 1.4,.3 -1.8,.4 3.8,.5 6.3,1.9 -2.1-.6 4.1,1.8 3.3,2.1 -3.7-3.3 .9,4.8 4.1-2.4 2.9-3.6 5.2,5.7 -.3-4.0 -2.6,1.1 .6,3.2 -.9,3.6 -2.4-4.2 .5,.2 .2-2.4 -2.0-4.2 -2.3-2.8 1.0,5.0 -1.1-1.3 -3.9,3.9 -1.4,4.5 2.4-2.0 2.0-2.8 1.7,1.1 -.1,.8 -1.7,3.6 8.3-1.4 3.5-2.5 1.2,2.7 -4.7-5.6 -3.5-.9 -1.5-.9 -.3-.2 -.8-1.2 -2.3,1.8 5.8-5.0 2.7,1.2 -4.5,2.1 4.5-.4 -11.7,3.5 1.3,4.6 1.0-2.1 -5.3-1.7 4.0,4.0 2.9-.9 -1.2,1.9 -4.8,.8 2.1-.2 -3.6-.9 .7-4.0 -6.4,3.3 -1.0,4.2 2.6-.6 2.0,.8 3.8-.7 -.9-2.9 -3.8,1.6 -1.1-2.8 -5.9-.9 -.4,1.2 -2.6-1.3 -1.0-.4 -1.8-3.5 -1.9-4.9 -1.4-4.7 -1.1-2.0 2.6,1.6 -1.3,6.3 -2.5-1.5 -1.4-1.8 4.7,.9 .9-3.7 1.5,1.1 -1.6-3.1 5.4-2.6 3.0-2.1 3.0,1.1 -6.0,.7 4.5,1.0 .8,.6 -.6,.9 1.5,1.0 .1,4.3 2.1-1.8 1.0,2.6 -1.2,1.6 2.3-3.2 3.3,3.6 3.6,4.8 -3.1-.1 2.9-1.1 .4,1.5 .1,3.5 1.1,3.6 -3.4-4.5 -.7-1.2 1.5,2.6 -2.3,1.7 -3.5,1.3 2.9,6.9 .3-2.7 -.2-2.9 -.8-.1 1.4,.9 2.5,2.8 -1.9,3.4 -1.5,6.3 -.6-1.9 -3.3-1.0 3.8-6.4 -1.4,2.0 5.3-2.9 -.3-1.0 .8-1.1 -.3,6.4 -1.5-2.5 2.9-1.1 1.3,3.3 -1.9,6.1 -4.0-3.1 4.4-1.7 1.0,1.3 1.1-2.5 1.7,2.0 -1.3-3.4 1.0-.1 .7,1.8 .1-3.0 .4,2.8 -1.1,0 -.1-4.6 .5-4.0 1.3-3.6 .9,1.7 -4.8-3.5 -2.6,2.5 -1.9,.2 1.7-1.8 .1,4.0 3.5,.1 2.6-1.0 1.2-1.7 -2.0-4.4 -2.5-2.5 -3.1,1.1 -2.9-1.3 -.3-.1 -1.3,1.7 -2.5,2.2 1.5,2.8 -2.6-2.6 -1.4,.3 0,.7 4.6-4.7 -.6-2.3 2.8-4.0 -.4-1.3 .1-1.7 -6.4,2.4 -3.4,2.4 2.3,2.7 -7.8,3.3 2.7-2.7 0,1.2 1.7,.3 3.7,1.4 2.8-2.1 4.4-4.5 -5.9,4.9 1.6,.1 -2.1,0 2.0,3.7 -2.2-1.8 -4.4-4.0 6.6,7.3 2.0-1.4 2.9,1.9 1.0,0 1.7-1.0 .8,8.5 -1.0-.7 -6.0,2.0 -4.3-4.7 -3.7-.6 -.6,.2 -3.9-2.5 1.2,1.4 2.1-1.0 -2.8-2.7 -3.6,1.4 -3.2-3.6 4.2,0 -4.4-3.2 -2.1-4.5 3.0,3.5 4.4-4.0 .4-1.5 2.7-.3 -1.3,.7 1.7,5.0 -2.8-1.3 -.8,3.4 -2.0-2.4 -2.6,.5 .7,.2 -.5-1.6 2.8-.8 -.4-2.9 3.3,2.1 -1.6-5.1 .6-1.9 .5,3.1 1.7,5.4 2.8-4.5 .1,2.8 -.8,1.4 4.7-2.7 -1.0,1.7 -2.6,5.6 1.1-5.3 4.9,3.3 -.4-3.0 8.5,2.5 .2-.6 -1.5-5.2 1.8,0 -3.4,3.2 -2.1-1.9 -.4,3.5 -.1-1.6 1.7-2.7 -.7-1.7 -1.7-.6 2.9-4.6 -6.3,1.6 2.1,.8 2.0-3.1 -.6,2.8 8.6-2.2 .4-2.4 2.4-2.8 -1.7,.8 -.4,.9 -1.2,2.1 -2.2,3.0 1.0,1.2 4.1,3.3 -.1-.1 1.4-4.1 1.3-1.1 -4.9,.8 -1.1,7.0 -5.4,1.6 -1.4-.4 3.3-.5 -2.0-3.4 5.3-.7 1.1-3.0 -1.6-5.2 1.6,5.1 2.9-3.5 4.6,2.5 .3-.3 -3.3,.8 -4.1,.8 1.7-.9 1.2-4.8 -.1,1.6 -3.5-.6 .2-2.6 1.2,2.5 2.3,3.1 1.7-.9 2.4-3.8 1.6-.8 -2.7-4.1 1.1,6.4 -2.6,5.8 .8-2.2 0,2.0 4.2,1.0 1.2-.5 -2.1-4.5 -1.7-1.1 1.3,.5 -3.7-1.5 1.0-2.1 -3.4,1.3 -.9-1.7 2.5,2.8 .2-1.5 -.9-.3 -3.6-2.9 -2.0-.1 .7-.7 .5-3.1 -3.2-1.0 -3.9,1.7 2.9,.1 .3,3.4 -5.6,.7 5.0-2.2 3.5-1.8 -2.7-2.0 6.1-.5 1.1-1.5 4.9-1.1 1.1-2.2 2.1-1.0 -1.5,4.4 -8.2,.5 7.6,.4 1.7,1.0 -3.0-.7 -3.7-.9 1.8,.3 1.9,.6 1.0-1.3 3.1,1.6 -5.3-2.0 1.4,.2 -.7-2.5 2.3,1.6 3.2,3.3 -1.6,1.4 .1,5.5 3.3-7.7 1.2,1.0 1.5,.5 1.6,3.3 -2.0,3.1 1.9,2.3 5.8,1.5 1.0-.7 .3,.3 -3.2-.4 -2.6,.4 5.8-5.2 -1.6,1.3 -2.6,.9 5.5-.6 2.0,1.6 -.8-.2 -.4,4.8 -2.9,2.6 -.9-.6 -3.0-2.3 -5.2-1.2 -.3-.6 3.5,1.3 -.4-.6 3.6-2.9 5.4,3.1 1.7-1.3 -.5,.2 -.6,.9 -2.1-2.4 0-.9 -.1-.2 2.8,.8 -2.3-.4 2.2,3.9 2.3,1.7 -3.0,5.3 -2.6,2.2 -2.8,2.0 -5.8-.2 2.3,3.0 .5-3.3 -2.2,2.2 -1.8-6.2 2.7-.7 1.6-2.3 -.9,2.1 3.1,.9 -3.2-6.0 -4.3,.2 2.0,.3 -.6-3.6 3.2,4.4 .1,1.8 -.2,.4 -5.5,4.2 .2-1.5 1.8,.3 -1.6,2.4 -1.0,5.1 -2.1-.7 1.6,.2 .3,7.2 1.0,2.2 1.9,1.4 5.6,2.6 -2.3-.8 -1.9,2.7 -6.2-2.2 -2.6,1.7 0-.6 1.9-.9 -3.7,3.0 3.4-2.4 2.9,3.2 3.9-4.1 -2.7-4.0 2.9-2.3 0-1.6 -1.5,2.2 -4.0,1.1 -1.2-5.1 -3.3,1.1 4.3-1.7 -.7,1.1 -1.2-3.2 .5,4.7 -.4,2.7 -1.0,.2 -.5-.1 -3.9,2.7 -4.9-2.3 1.3,1.2 -2.0-4.8 .3-1.3 -1.3,5.9 4.2-1.7 5.6,4.6 1.7-4.8 .8,2.1 3.3-.4 .6,6.0 .9,.4 3.1,3.5 4.2-.3 -3.3,2.4 -5.2-1.1 -3.4,1.1 -3.1-7.7 -3.7,1.1 1.0,4.8 -.5-2.5 .8-5.0 -.2-5.4 .7-5.1 1.2,.2 -3.3-.2 2.7-8.3 2.0-2.3 -2.0-1.7 1.9,0 -3.2,1.7 4.0,.2 1.4-5.1 1.9-1.6 -2.4,1.1 -.1-2.0 -.3-1.2 -4.0-1.5 -2.5-1.9 -2.8,2.4 4.0-6.7 .3,.1 -1.9,1.8 4.4-.5 2.2,1.0 -.2,6.3 -2.5-.8 .5-1.3 3.8-1.2 .4-.2 -.5,2.2 .2-.7 1.8-1.8 -1.0,1.0 -1.7-.2 -4.2-.8 .6-.3 -2.1-4.6 -2.5,.4 -1.4-2.7 -1.7,3.4 3.4-1.0 -1.5,.7 -2.2,1.6 -.9,3.3 1.5,.4 2.8-.2 .5,1.1 -.7-.9 -1.8,3.0 .3,8.4 3.8,.8 3.0-2.1 5.6-4.7 -.9-1.7 4.2,2.4 -2.0,.6 -5.9-1.8 -.1-1.5 2.7,6.9 2.6,.1 -4.3,.8 -2.1,.6 7.1-.5 -3.1,1.4 -.6,2.6 -.6-1.6 .6-1.0 -3.0,3.1 5.2-4.0 -1.0-3.8 -2.6,3.3 .8,.9 -6.7-2.1 1.2,1.8 2.0,3.1 1.0,2.2 .5-3.2 .4,3.6 1.7-.2 1.8-1.8 .8-.6 -.2-2.0 -4.4,2.3 2.7-3.6 2.4-5.2 -2.9-.8 5.0-4.7 6.9,2.3 4.9,.4 1.9,1.4 .7,7.2 -5.4-1.5 -.2-2.1 0,1.3 -.6-1.1 .3-5.6 -2.4,3.5 -5.4-.5 .9,2.5 1.1,3.8 1.2,.5 1.1-1.1 -.1-15.9 2.3-.2 -1.2,3.5 2.4-3.8 3.8-1.2 .1-.9 .8-1.0 -1.5,.6 -4.5-2.1 1.6-1.8 -.2,2.5 -1.5-3.8 2.5-.2 -3.0-1.3 -.9,2.1 -1.8-1.2 -3.8,2.0 -4.2-2.1 6.7,.2 2.2-2.4 .5,3.4 .4-1.7 3.3,5.2 4.1-.2 1.1,.9 -3.5,.5 -3.8,3.6 -3.2,2.2 -1.3-.3 2.7-1.0 -2.2-4.4 -1.6,3.2 3.4,.9 .8-3.3 -2.1,5.6 -1.9-6.1 3.4-1.0 -5.2,1.6 .9-2.5 1.3-2.5 0-2.7 -1.0,.3 -.4,3.9 2.5,3.2 .2-2.4 -2.7-2.9 3.4-3.9 -.3,1.8 2.2-2.7 -1.8,3.2 -1.1-1.1 .6,4.6 1.4-1.9 -.7,1.2 .4,.7 -.5,4.1 .6-.6 -1.9,.8 -.2,3.1 -2.3-2.6 -4.2,.1 .6,2.9 -5.6-.8 -2.1-4.1 -4.2,1.8 .3,2.2 -.4,0 -2.6,2.0 .5-4.2 .7,.5 1.1,.5 -10.3-7.2 -2.2-.2 2.6,2.3 -1.7,.2 2.5,2.3 4.4,0 2.8,.8 -1.1-.1 -4.9,2.3 2.3-1.0 -1.8-.9 -.7,5.0 2.1,1.4 1.1-1.3 1.3-2.4 -2.3-1.1 4.0,4.5 1.8,0 -1.1,1.2 -6.7,5.3 .5,1.5 2.6-3.2 3.9,.7 -3.6,5.0 1.9-4.3 -3.0-5.5 -.9,6.0 3.1,.8 .6,2.6 3.5,1.9 -.4,4.9 -2.2,.6 1.7-2.2 .8-4.9 .7,1.7 5.4,4.4 -2.7-3.3 .2,1.1 1.8,4.4 -.5-3.9 -.6-.9 -1.8,3.7 5.5-7.9 2.0,1.3 -.1,3.0 -.4,7.0 7.4,1.3 0,2.5 -.4-1.8 -2.6,4.0 -5.1-2.6 2.8-3.7 .4,2.2 3.0-2.7 -1.9-1.2 1.2,1.9 -1.6,8.7 1.2,.7 5.2-1.6 3.6-8.5 -4.2-1.6 -4.4,2.9 -1.7-1.2 4.7,.7 1.4-2.1 -2.2,3.8 -.8-6.4 0-1.1 .2,1.2 4.5-1.4 -.6,1.3 -1.3-4.6 -2.1,3.4 -4.3,4.7 8.2,4.7 4.8,3.1 -2.4-.1 .9-.7 -1.8-4.8 -1.6-1.6 2.0,3.3 .1-6.2 -3.8-1.1 .5-.3 -4.4,1.0 1.5-1.4 -3.3,1.0 -1.6-1.3 2.6,.7 -1.7-4.8 .1,1.7 2.2-.4 -5.3,3.7 0,1.8 -1.7,.8 0,2.3 -2.6-.9 4.2,2.2 -.2-1.9 1.5,1.3 7.2,2.2 -5.3,.2 -8.3-.7 -.5,2.8 -.4-4.5 .5,5.6 .5-1.3 -5.5-9.8 -2.2,2.2 4.2-3.1 -1.7-1.6 -3.1,1.9 -1.6,2.3 5.7,1.5 -.4,.7 -1.9-.6 -.6,.1 .4-2.3 -3.2-1.5 3.5-.4 2.6-3.1 -.6,1.3 -3.0,.8 -2.4,.1 -4.5-1.0 -2.2-4.8 3.2-1.2 -2.1-.3 -.9,0 -.3-.3 -1.4-4.5 -1.9,.9 -3.4-.2 -.5-.9 3.6,1.3 .8-4.1 2.6-5.8 -.6,5.9 2.1-.6 2.1,.3 -1.3-9.3 .5-3.9 -1.4,4.3 4.7-6.1 4.4-.9 -2.6,1.5 -4.0,3.6 3.0-11.8 -1.4,2.8 3.7-.1 -1.2-3.9 3.6,4.4 3.9,.5 -.2,.9 -5.9,4.2 2.0-3.1 3.1-.1 -3.1,2.6 -3.4-.1 -1.8,3.8 -6.3-3.4 5.5-3.7 .4,3.5 -2.0,0 .5-1.3 2.4-2.6 -1.8,1.1 2.7,2.1 -5.0,2.4 -1.6,2.7 2.1,.9 -.2,2.8 -3.8-6.5 2.1-1.6 3.1-3.3 -1.4-1.4 2.0,.2 1.5,3.0 2.4,.6 1.8,2.4 -2.2-4.5 2.6,2.6 -4.0-1.0 -1.0,.2 2.5-.7" fill="none" stroke="#f28b8b" stroke-width="0.5" stroke-opacity="0.8" stroke-linejoin="round"/>
<path d="M140.1,301.0l-3.9-4.4 2.9-2.1 -6.8,.7 2.3,.9 .7,6.2 .8,2.4 4.3-5.1 -1.3,.1 -1.1,1.2 2.5-5.2 4.4-2.1 -1.3-1.1 -3.8,2.0 -.8,2.6 0,6.6 .7,2.0 -.1-.6 .9,3.8 2.1,5.4 -.8-.9 3.7-.9 4.3-6.1 -3.7,.2 -2.7,3.8 -2.4-1.6 1.6-1.2 2.9,.1 -7.3,.9 .1-2.3 -.2,1.9 2.6,1.9 .9-.3 -2.6-2.8 -.9,.2 -2.6,1.9 -.8-1.4 -2.8,2.9 1.2,2.9 -.3,1.8 .6,2.7 -2.4-.3 .6-1.7 -.5,1.7 1.4-2.7 0-.7 1.5-1.5 0-6.4 -1.2,2.8 -5.5-2.6 3.9,3.9 -2.0-1.5 2.3-2.6 -3.5,3.4 1.1,.2 -4.0,.1 2.1-1.1 1.0-.9 6.7-1.2 2.0,2.3 -.3,2.8 4.2-5.8 .7-5.8 2.1-1.8 3.2-.5 -3.2-2.6 0,2.8 2.0-.9 -1.4-.9 -5.3,1.9 2.0-4.0 -3.9,4.2 1.8,4.3 -.4,.9 .3,2.2 -.8,3.7 2.1,1.8 -1.1,5.9 2.1-1.2 .4,2.8 -2.2,.1 -2.4,.2 2.1-2.9 2.9-1.3 2.2-1.2 3.5-3.5 3.4-3.6 1.2-.7 -6.9,1.2 2.0,.4 2.7,1.4 -.8-1.6 3.5,5.7 -2.3,2.2 -3.9-2.7 -4.5,1.7 4.8,.1 -3.1-2.2 -3.8-7.2 -.3-.3 -5.7-10.1 2.2,1.6 -1.9-.1 .4,.5 -1.6-1.9 -.3,5.5 2.9,6.7 -2.0,.1 -1.6,3.8 -1.1,2.9 -.4-.2 2.8-4.9 -1.0,.9 -6.3,2.8 -.6,1.4 6.2,2.0 1.1,1.9 2.4,.4 2.6-4.1 2.1,2.8 1.1-3.9 .9,1.5 -1.0-1.3 2.2,.3 -6.4-4.5 2.1-1.0 -.5-.8 -2.3-2.0 0-1.5 -3.1,1.4 1.8-2.8 2.6,2.4 -1.8-3.2 -4.3-1.0 -.3-.5 .1,2.7 -1.4,3.1 -2.6-2.9 2.0,1.6 1.2,4.0 -2.4,1.2 2.5,2.2 -4.4,.4 -.8,2.7 -7.6,11.5 .9-.9 -1.0-5.4 -7.0,12.6 -3.7,.2 4.2-1.8 .4,.9 3.5-1.8 .5-2.3 .7-1.9 2.0-3.5 0,.3 1.8,2.1 2.8-1.0 -5.8-1.1 -3.8-4.5 3.9-7.0 2.0,2.0 1.7,1.3 7.7,1.2 .3,1.1 .1,.2 -.7,.4 4.2-3.4 .1,1.7 .3-.2 4.3-3.2 -.1-1.0 4.6,1.7 2.1,1.6 -2.9,.8 2.4,.5 -2.6-2.9 1.3-.8 .4-4.4 -2.2,.9 0,1.0 5.4,.9 4.0,2.1 .4-2.2 .4-1.2 -2.9-5.0 -1.7-2.2 2.1,.1 1.3-.3 -.8-1.0 -2.8-4.9 -3.3,5.7 -5.7,2.9 5.6,1.5 2.7,.8 -5.0,1.1 .3-.5 -.3-3.4 -4.0,1.0 5.2,2.9 2.9-.8 2.5-3.0 4.2,5.0 3.4-5.5 -5.2-3.9 -1.8-1.8 -2.3-2.8 2.5,.3 -2.0,.4 1.2-1.2 1.3,.7 1.3,3.2 1.0-3.8 -4.7-2.5 .8,6.5 -.5-5.9 1.6,1.6 2.3,2.1 1.2,2.3 -5.4-.1 .5,2.6 -3.8,1.0 -3.1,2.7 -1.4,4.2 2.7,2.3 5.3,2.1 1.3-4.8 -1.0,.7 2.8-.9 .5,1.6 -2.3,1.9 -.9,4.9 3.8-.2 2.0-2.9 -3.9-4.3 -3.8-5.0 -2.4-4.4 1.0-2.2 -.1-6.7 3.4-5.5 .6-.3 -1.4-.2 -.3,2.2 -1.6-.7 2.0-.7 -3.2,2.7 -2.8,1.0 1.9,.8 -2.1-1.8 -.7-2.9 1.4,1.4 .7,1.8 1.3-4.2 -3.5,6.3 -1.8-.5 -1.6-.5 4.8,1.9 .9,3.9 8.9-1.8 -3.7-1.5 4.1-.6 -7.2-4.1 -1.6,3.6 2.4,.3 3.4-3.4 .5-1.3 -2.4,3.1 -5.0-.6 -.2,1.7 -1.8-3.3 3.4,1.7 -1.3,.7 -1.6-.9 1.3,2.0 1.1,1.2 2.1,3.8 -2.2-2.1 -2.1-4.2 6.2,0 -2.4,.5 .9,1.2 3.0,5.1 -.8-.3 4.3-.9 7.4,3.1 -2.5,2.8 -.7-2.8 1.0-1.9 .3-1.9 -2.2,2.1 .6-.8 .5-2.9 0-1.7 -4.4-1.5 0,.8 1.1,.4 -3.1,.7 1.7-4.6 -1.0,2.0 3.6,4.8 .3-2.7 .1,3.4 1.7,4.9 -1.2,2.9 -4.4,2.7 -1.7,4.4 -.6-1.8 1.8-2.3 -6.3,2.1 -3.5,1.3 -1.4-2.6 2.0,3.9 -.5-1.1 -2.1-.7 -2.8-.6 .9-.1 -2.1,1.8 -.9,4.4 -3.1,.6 5.1-.7 -.3,2.8 -3.1-3.9 1.4-2.2 2.0-1.8 -1.7-.1 1.9,2.6 -5.1-2.1 -1.5-4.6 -3.6-3.1 -4.9,.7 -3.9-3.7 2.9,.4 6.6-2.2 .1-5.1 -.8,1.2 .9-4.9 -1.5-1.4 .9,2.6 6.2,.2 .6-2.0 .1,2.6 1.5,3.9 -2.5,0 8.4,4.1 -2.6,1.3 .8-1.2 -1.6,1.6 -1.1,5.4 2.9,1.0 -.3,4.5 -10.2,.9 1.6,1.3 -1.2-1.5 1.7,3.5 -1.5-2.6 6.2-4.3 -1.4-1.6 .9,1.8 -2.2-2.2 -3.6-2.4 -1.2,3.1 1.7,.5 -1.8,0 .4-2.8 .1-1.6 -.8,3.6 -1.3-2.3 6.2-.6 -.7,1.3 .6,5.8 2.9-3.6 -.2-.1 4.4-.5 -2.7,2.6 2.9-3.1 3.4-.7 -3.3-2.6 -2.4,1.7 2.2-1.0 2.3,.5 2.5-3.2 .8-.7 .6,5.8 -2.1,3.1 .3,2.9 -5.8,2.1 -2.0-1.4 -2.6-1.4 .7,.7 -.2,4.1 3.6,2.8 3.0-4.9 -2.4,3.8 -1.1,2.1 1.4,.3 -3.5-4.7 -3.1-3.1 -.6-.9 4.6,1.7 15.5,3.4 2.4-1.0 -2.5-1.1 3.1-6.0 -.6,.4 -1.6,3.0 -7.4,0 2.4-.7 5.3-.8 -4.3,17.1 -1.6,1.6 1.8,.5 1.4,.8 -3.2,.2 1.7-3.6 1.1-6.1 -4.8-.1 -4.8-1.4 2.3-3.5 .2-2.6 -1.9-.6 2.3,2.4 2.0-3.8 .5-.3 -2.1-4.3 -7.5-.5 -2.9,2.6 -2.7,.3 .5-1.4 -.6,1.6 -.1-1.8 3.9-3.1 -2.7-.2 4.5-1.2 .3,.8 -3.1,.4 -1.2,1.9 2.4,1.5 1.0-.6 2.3,.5 3.9,2.6 -1.6,1.3 -3.5-.8 5.9-1.0 -1.8,2.0 1.0-5.7 1.7,2.1 -.8,2.6 -.9-1.7 -.4,.1 -1.9-2.0 3.0,1.0 -5.9-.3 -2.6-1.0 4.0-2.4 1.9,3.6 -.4,6.9 1.8-2.3 -1.1,2.6 2.4,2.5 -2.7-4.7 -2.4,1.8 -1.5-.6 -.6,1.6 -1.8,2.8 1.2,2.3 -2.5,1.4 4.7-10.3 -1.2-4.5 -.1,5.5 -3.3-1.4 5.3,2.8 -.8,.3 0-2.4 4.0-4.6 15.3-5.0 -2.5-4.5 3.1,.9 -4.9,.4 -1.8,.9 -1.6,3.0 -2.2-.6 -6.6-1.9 3.8-1.9 3.4-1.3 -2.1-7.8 -3.7,1.4 8.4-2.6 -.3,8.3 5.5-2.8 4.3-2.3 -1.1,2.9 .5-2.1 -.3,5.7 -3.3-2.9 1.4-2.8 -1.0,2.2 3.0,1.6 -3.0,.6 -3.0-2.8 .8-.5 1.4,1.1 -3.6,1.1 -1.8,2.4 -6.0-4.2 -2.8-.9 -2.7,.8 -3.5-2.4 -5.2,3.0 7.5-3.5 -4.5-1.4 -.3-3.6 6.3,1.6 .5,2.5 -2.9,5.8 -.4,3.6 2.1,1.0 5.5,5.4 3.1,2.9 3.3,5.4 -4.0-6.9 .9,0 -6.1-2.9 2.4-.9 2.3-2.0 .8-2.3 .1-2.0 -.7-.6 -.1,1.5 -3.8,1.1 -4.4-.5 -3.4-4.6 4.5,1.1 3.0-.8 -6.4,2.0 .8-.6 -1.7,1.9 -1.0,1.3 -1.0,2.3 -1.6-5.0 2.7,3.1 -2.9-.3 2.1,1.0 -2.5,1.3 -2.4-1.3 1.9-3.1 0-.2 2.9,4.4 2.9-2.3 2.4,5.0 0,1.5 -4.5-2.7 2.1,2.2 3.8,.2 1.5-1.5 5.5,.5 -3.2-1.6 2.8,0 2.3-2.6 -2.6-2.5 -1.9-4.0 -2.6,1.2 0-1.3 -1.9-.3 2.9,4.2 2.9-4.3 -1.9,4.6 -2.5,.6 -1.2-1.4 -.2-.9 1.1,1.9 1.4,5.7 -.4-1.8 2.9-2.0 -2.3-4.1 4.1,.5 .8,1.9 -3.6,2.8 5.3-4.5 -1.3-3.2 -3.4-2.8 -5.1,2.6 -4.9,2.6 -.9,4.8 .8,2.9 1.9-1.4 .5-3.4 -2.0,.5 3.7,.4 -2.6,4.7 1.8-.4 1.4-3.0 .4-.5 .8-3.9 -1.8-2.3 -1.9-1.4 .6,2.8 4.6,1.0 1.0-3.0 3.5,2.5 -1.7,1.6 -2.9,5.2 .5-1.6 -2.4,1.4 -.1,4.6 -3.9,2.1 .4,3.5 -1.8-1.6 -3.5-.2 5.0,.2 -3.4,3.4 -3.1-1.8 .6,5.6 -1.0-5.8 1.8-.4 .6,.7 -2.8,2.6 -1.1,7.6 1.9-3.3 .7-1.1 .5-1.7 -2.0,.5 0-.8 -4.4-5.5 7.5,9.7 .7-1.5 -1.2-.3 -.3-5.0 7.1-2.4 3.6-4.2 1.6,7.0 -3.6,5.8 1.9-4.6 1.4-3.8 2.7,1.9 -.2,1.2 -4.9-.1 1.5-2.4 -2.1-.2 .5-2.0 -.6,2.5 5.3-1.9 -2.6,.5 -3.4-1.3 -1.6,1.4 -1.0-1.7 -.5,2.0 3.7-.4 -.7,1.4 -1.7-.6 1.3-2.6 2.1,2.0 -2.1,4.0 7.7-2.3 -.8,2.4 .6-3.2 2.5,2.5 .3,1.0 -1.6-.4 .2,8.0 -.8,2.7 -6.7-1.1 .1-2.4 3.8,.7 -2.7-4.2 3.4,1.1 -1.1,4.8 3.1-.9 -2.6-1.7 -2.1,.5 -4.9,1.4 0,3.8 -2.1-.5 -.4-4.6 6.1,1.5 -2.8-2.4 -.9-3.1 2.3-1.0 .3,3.2 .5-4.6 1.9-1.0 .8-1.2 5.3-7.9 -.6,5.3 1.4-1.5 -.2,1.5 -1.8,.6 .3-3.4 -9.5-12.1 9.9,6.0 1.1,0 -3.3,0 3.4,1.2 -.2,2.7 .3,1.6 6.4,1.1 -2.0,6.9 -3.3-5.1 7.1,1.8 3.0-.9 -1.1-1.6 .1,6.1 -3.5,1.3 -.6,.6 .2,1.6 -1.9,2.3 -3.3,4.1 1.8-2.1 -4.4-1.5 -1.9,5.8 -2.1-1.7 .1-3.1 -1.8-1.7 -1.9-.7 -13.3-.9 -6.1,.7 2.2-6.0 4.5-3.0 -.6,1.9 .9,.3 -2.1-1.4 -.3,.2 .9,1.7 -2.1,4.3 -1.7,2.4 2.3-.9 -.4,6.2 1.3-2.0 -.7,1.7 5.9-4.5 1.9-2.3 -1.6,1.6 4.7-.6 2.1-1.8 .5,1.2 -4.6,2.5 -2.4-2.5 4.7-4.5 .4,1.4 -3.4,.2 -.1,2.9 1.1-3.6 1.4,3.0 2.5,6.7 -3.8,.3 .5,1.3 4.3-1.8 2.1-1.0 1.6,.1 -.7-.4 1.7-5.6 -1.2,2.8 -1.6-2.5 .6-3.0 -1.0,1.0 2.6-3.1 3.9-4.6 -2.1,2.3 .4,.8 -.2-1.0 -2.5-1.9 .3,2.8 -1.4-1.6 -4.1-2.6 .4-2.4 -2.1,1.2 .1,0 -.1-4.1 -1.5-.1 .6,3.5 -.7,1.5 3.5-2.7 .7,3.8 0,4.0 -.2-2.7 3.1,4.8 .9-2.7 -1.2-4.3 3.1,5.2 2.4,.5 .4,0 1.6,1.3 1.4,.2 2.2-2.5 2.8,1.1 .2,1.1 -.7-1.7 4.0,.2 -2.4,3.8 4.6,3.7 -2.1,4.8 -2.2,1.6 .8-2.3 2.4,1.6 -2.0-2.4 -3.5-.3 3.3-4.3 .3-1.9 .1,2.8 1.5,7.8 -2.2-3.3 .5,.5 3.8,.4 -4.2-.5 2.5,3.5 -1.9-3.5 -2.5,3.5 -.4,0 -7.5-2.0 -5.3-4.5 -.5-7.2 2.0,1.2 -12.0-5.0 -.7-3.1 -7.6-10.0 -1.0-3.2 .4-2.1 3.3-2.6 4.0,1.8 -3.6-.1 1.6,4.5 1.8,2.6 .4,3.7 -3.3-2.8 -.3-2.9 1.1,3.0 -3.4-1.0 4.1-2.4 -1.5-1.5 1.4,.6 -2.6-1.7 1.5,6.6 3.0,.8 1.2,5.7 -.8,3.7 3.4-.3 -.3-1.0 1.9-.3 .3,4.1 -3.6-1.0 3.6,.4 -.7,1.4 3.9,1.7 -2.9-.9 -.7-3.5 -.6,3.8 -1.6,.7 1.3,.8 3.3-1.2 .1-1.4 2.3,2.9 2.3,1.0 .2,1.8 .9-1.2 -1.5,2.6 -.5-2.2 2.0,3.1 -.5-2.4 1.4,.1 1.2-2.8 -.2,.9 -1.0,.1 2.5,1.5 1.9,5.8 1.7-1.5 .9,2.7 .1,2.8 1.0-.3 2.3-1.8 -4.1-4.5 5.0,.7 -1.9-4.8 -1.0-3.1 4.7-4.8 2.0,3.1 -3.6,3.1 6.7-1.0 -2.5,6.9 .7-3.6 -1.0,3.6 3.7-3.1 -.2,.1 -4.8-3.1 2.5,2.0 1.2-2.1 -1.4-1.6 -.6,3.0 -1.4-2.1 -1.8,2.1 -2.0,4.2 2.7-2.0 3.1-4.2 1.0-1.1 -.3,3.7 .1,1.2 2.0-.5 -3.0-.2 -1.3-7.6 -3.1-5.3 3.3,3.1 6.4,4.0 1.5-.6 1.1-2.5 3.1,3.4 2.3-3.8 -2.5,3.5 -.1,1.0 -3.2-8.3 -.8,4.4 1.2-.2 1.3-.5 4.8,3.8 1.7,2.4 -1.2,3.5 -1.8,2.8 -4.8,0 -2.5,.2 -2.4-1.5 -3.3-4.9 -2.9,1.2 2.8,1.9 1.5-1.8 2.4-.5 -.9-3.0 -3.3,1.3 -.9,1.4 -3.9-5.8 1.6,1.0 .6,4.1 -.7,6.8 -4.5-2.3 2.2-1.2 4.1-.2 -1.4-.7 -3.1,3.4 3.6-1.9 7.3-6.1 -1.4-1.9 2.2-1.3 0-.8 -4.8,.2 -.4,1.7 -3.2,2.3 5.8,1.6 -.5-6.2 .5,1.3 -1.9-2.6 -3.7,4.4 -4.0,5.1 1.4,.6 -.3,3.3 -5.8-7.0 -1.1,1.9 3.3,2.9 -.7,.2 -.3,4.0 1.8-.8 -2.1,.6 .5-2.9 2.6-2.9 2.0-2.9 -3.0,1.9 .4,4.4 2.8-.6 -4.1-2.8 .4-2.6 1.7,2.1 -5.6-5.1 .6-.2 -3.7,2.8 .3,1.3 1.7,.1 -3.8-.1 .8-2.2 3.6-5.5 9.5,10.0 1.7-2.1 1.3,2.2 -3.1,1.4 4.2,1.9 2.6,1.7 4.8,.6 -1.6-2.4 -5.6,2.1 2.3-2.1 3.1,.8 -.3-1.2 5.0-3.7 -2.3-.5 -1.2,2.6 .2,.2 -1.2-1.4 -3.1,2.1 1.9,2.5 .9-4.9 1.3,2.0 1.2-.6 -2.8-.3 3.1-1.8 -2.7,6.3 -4.3,3.7 0-2.5 1.5-2.8 -4.5,3.5 -3.0-3.3 0-2.3 .9,2.9 -2.4-.3 -1.0,1.4 -2.2,.8 1.4-7.3 2.5-4.8 -1.2-2.3 .1-.5 1.2,2.3 -5.8,3.7 -.8,2.6 2.3-2.5 4.1,1.4 -1.6-.9 -3.7-2.6 -3.9,1.2 .3,3.4 3.3-.2 -2.2-1.8 2.9,0 -2.8-.7 2.3,1.9 4.0-4.8 -4.7,2.4 -1.6-.2 2.3,.8 2.0-5.9 -1.8-2.6 1.4,.1 -1.7-4.4 2.8-3.9 -2.6-2.0 2.5,4.8 -1.8-1.4 -1.1,4.8 1.5-22.1 -2.2,.2 1.8-1.1 .1-1.1 -1.5-4.0 -4.6-.1 3.1,4.4 -5.3-5.2 -.3,2.7 .5,3.0 -.3,2.2 -2.7,2.2 -.6-3.7 1.2,6.3 -1.6,6.4 4.5,.5 5.8,9.2 3.7-3.3 1.2,4.9 4.3,.1 .7-5.6 1.0-3.8 .1-.2 1.2-.9 -3.4,1.1 -1.9,1.8 -2.0-3.5 1.7-.4 -2.2-2.9 1.4-1.8 -1.1,3.4 -3.3-3.6 2.5,.6 2.8-.4 -1.6,.3 .4-2.5 -.8,2.8 3.8,.9 -1.1-1.4 2.5,1.5 2.2,5.2 -6.2,1.1 .2,1.5 .9,.6 -4.4-3.0 4.5,.9 -1.0,.7 3.2,1.5 -2.2-2.9 -.6,2.5 2.3,.4 2.3-1.4 1.0-.3 1.1-.2 .9-1.2 2.1,4.5 -.5-.3 -3.0-.3 -4.2-2.1 -2.9,5.1 2.5-2.1 .5,2.1 -.5,.1 -1.7,.7 -5.7,1.2 -4.9-4.6 -.6,4.7 -4.6,4.4 .6,.1 -1.7,1.6 -4.0,.4 2.7-.5 1.2,4.9 7.0,1.6 .9,.7 7.0-3.1 0,.8 2.8-3.3 3.6-1.1 -4.8,3.4 4.7,.2 2.6,3.6 0-2.1 -1.2,3.6 -3.0,1.4 2.0,1.2 1.7-.4 -.8,1.9 4.4,5.1 1.9-4.2 3.4-4.0 -1.3-4.8 -2.1-3.1 -.2,3.0 -7.3-.4 1.6-2.9 -5.5-1.4 1.9,.8 3.7-2.5 3.9,3.0 .6,2.2 2.9,3.6 -1.8-2.4 -2.7-5.0 .7-4.5 1.6-1.2 -2.1-.9 -3.5-.9 6.6-.7 -3.7-.5 -3.2-2.2 2.0,1.9 2.9,1.4 -4.1,.3 -4.6-4.5 -3.1,1.1 -2.2,3.2 4.4,2.0 -.4-.2 .7,4.7 5.2,.8 -1.7,2.7 1.6,.6 .7-1.4 .1,.5 .1-3.5 -3.1-3.5 -1.7,4.9 3.2,0 -5.4-1.4 -3.1,3.1 -.3-.4 -1.3-1.2 -4.2-1.4 3.0-.2 3.3-1.5 -1.6-3.6 1.2-3.7 -2.2,1.5 -7.1,1.3 -3.1-1.6 -1.1-2.1 -1.3-.5 0,5.2 5.4-1.6 .8,1.6 -1.5-.3 1.0,1.5 .9-3.3 -2.8,2.9 2.3-7.1 .2,1.4 -1.1-1.7 -.8-.7 -4.2-2.5 -3.5,4.2 0,.9 1.5-1.0 -.6,.2 .7-.4 .3,.9 1.2-3.4 5.0-2.3 1.8,.1 -3.8,.7 3.4,4.9 -1.9-1.0 -2.5-2.0 0-3.2 -5.7-.6 -1.5,0 -2.8,1.5 -.5-1.9 -.4,.2 0,.3 1.8-.7 2.3-.2 5.7,.6 -2.6,.1 .4,2.1 -2.5,.1 .4-2.7 -.3,.6 -2.0,.9 .2-1.3 .6,.5 -3.2-.5 -4.4-2.4 -3.3-1.5 -.7-.8 -1.9,2.8 -1.8-.6 3.1,1.3 -.7-2.5 -1.6,3.0 2.1-.9 -6.3,.9 1.0-4.3 -.4-1.9 -1.4,4.4 .1,.5 1.2,5.1 4.0,2.5 5.0,.9 1.0-1.4 2.3-2.9 7.7,3.3 .4,5.3 3.3,1.7 -.2,3.4 2.1-2.8 -.9,.1 -.9,1.8 4.5-6.7 -.5,1.8 .5-3.5 -2.1,4.7 3.7,1.5 -2.6-.5 1.2-1.3 2.1,1.2 1.2,0 .1,2.4 .1-1.0 -.3,.3 -2.0-2.1 1.0-2.9 -2.2-1.3 .9,4.4 -1.9,5.1 4.9-1.4 -.1,4.4 -.3-3.7 3.9,1.9 3.0,2.6 -1.1-.3 2.6,1.5 1.7,.8 2.6,1.5 -1.0,6.6 1.2,3.1 -5.6-2.3 -.7-5.9 -1.6,4.0 10.9-2.9 -.4-1.4 -4.4,3.9 2.1-5.3 -2.2-7.1 -1.9-1.5 2.1-1.6 -4.5-1.2 -2.2,2.5 3.5,3.0 -2.2,0 -.8-.8 -1.9,3.0 .4,1.7 3.7,1.1 .5,.3 -4.1-1.5 -1.9-1.9 -4.8,.3 3.7,.4 -1.5-2.1 4.7-1.6 -1.0,1.0 1.4,2.3 -3.0,2.8 2.2,1.6 -2.3-1.2 -7.4-1.6 -3.7,1.5 3.6,.9 1.9,.1 -5.7,1.5 -1.9-.9 -.1-.7 -2.8-.4 -2.4,1.2 2.1,3.3 3.4,1.2 4.3-.7 2.8-3.4 2.5-.3 -.1-5.6 -2.5,1.9 3.3,3.4 1.2,3.0 -5.6,.2 -.1,1.0 3.3-2.0 4.7,1.4 -5.0,3.6 1.9-1.1 -3.5-1.3 -1.6-6.8 2.1-2.6 2.1,1.7 .6-.9 .1-.8 -3.5-.9 3.4-1.2 -3.3,4.7 2.0-1.0 -2.0,5.3 -3.7-4.0 .3,.2 1.1,.4 -14.0-2.6 3.2,4.1 5.1,.1 1.3,1.5 -1.0,2.6 2.5-1.5 -1.4-1.2 -2.1-.8 -7.4-4.2 -.5,1.0 1.7-2.5 -3.5,1.4 3.3-3.8 2.6,3.4 1.8,.7 -3.4,4.9 -.6-5.0 2.9-1.3 .3,2.4 4.0,1.3 -1.4,1.0 3.0-5.3 .4,2.8 4.1,2.7 1.8,1.2 -4.6,0 -1.3-4.5 1.5-3.9 .1,.9 -2.8-1.0 -1.8-2.5 3.8,3.3 1.4,2.1 -.5,3.4 -1.7-1.7 1.5-4.2 2.3,.1 1.5-6.1 5.8-1.4 .3-1.1 1.8-.9 -1.1-.9 .9-.2 1.3,.9 -3.1-4.5 -.3,7.2 2.9,2.2 .5,3.0 -2.9,3.6 0-.9 1.4-1.9 4.3,4.4 -3.7,.6 .6-3.7 2.6-.9 3.3,5.6 -2.9-1.6 -2.6,.6 -1.4-2.5 -4.2-.6 -1.0,3.2 .6,.9 -2.0-.3 1.6,.2 -.7-3.6 -3.3-1.5 .8-6.0 -2.0-.7 -1.0,4.5 3.5-7.0 2.5-2.4 2.1-3.1 -1.3-3.8 2.6,6.0 2.3,6.4 1.1-.2 -5.3-2.8 -.9,6.6 -3.2,.2 2.2,7.5 4.4-1.1 1.9-2.1 2.0-1.5 -1.3,2.7 -1.2-2.7 2.1-.2 -.2-1.5 -1.8,1.6 .7,1.9 -1.7,2.6 1.1-1.1 -.2-1.2 -.2-.8 1.2,3.2 5.4,1.3 -.3-1.5 2.4,4.8 -.2,.3 -1.2,.2 -3.4-1.3 -3.8,3.9 2.8,5.4 .5-4.6 -3.2,.8 -1.6-2.7 2.3,1.8 3.2,.4 1.8,4.3 -5.3,.2 -3.4-3.9 1.2-5.3 -3.8-1.2 -1.4,2.0 .6,2.1 -2.6-3.0 1.1-4.1 -3.6,.3 -4.0,3.5 0-1.6 -.4-.8 1.1-.8 -.5,1.8 -3.1-.6 2.9-3.9 3.9,1.8 -2.3-3.4 0-1.6 .8,.5 4.7-1.5 -3.6-.1 -.2,2.9 -2.7,3.2 -5.0,2.5 4.0-2.7 1.0,3.4 -.4-1.7 -.2-2.5 3.1,6.6 .5-.5 -3.4-2.0 .2-3.0 1.6,1.1 1.5,1.6 -.9,1.0 2.9,2.8 .8,0 -.6,1.6 -1.0-4.8 .6-2.7 4.1,2.0 1.2,2.7 2.5-2.9 3.3-1.5 -2.2-3.1 -1.2,.5 -3.2-.2 .2,3.6 3.5,3.2 -6.4,2.7 4.6,1.7 -2.5-.8 1.2-2.0 -2.3,.7 -4.3,0 .1-.5 1.9,.3 -2.1-2.6 -3.5,2.9 3.6,.8 3.2-3.1 -3.3,.3 3.1-1.0 -.1-1.6 1.3-5.2 -1.4-3.5 -4.3,.9 -2.5-3.5 1.6-2.3 4.5,2.8 .7-2.1 -.7,2.2 2.2,4.0 .3-3.0 2.0,.3 1.2-5.7 2.0-1.7 -1.6-5.6 -.9-3.6 3.2,1.6 1.2-1.8 .9,1.7 -4.1,.4 1.2-2.2 -3.1-.8 2.3,.8 .2-1.7 .5-2.2 .9-2.7 3.7,.8 .1,.6 -7.2-2.8 -3.5-2.5 .5,1.1 -2.4,.4 -.4,4.6 -6.8,7.6 .9,2.5 -2.9,4.5 6.9,3.6 3.7,4.0 -12.2,7.4 -4.8,3.5 -2.9-3.0 5.5,3.5 -.2,1.3 .5-1.0 -3.3-3.4 2.8-2.2 5.1-4.0 -2.6,1.0 7.0-6.9 .2-1.7 -3.5,.1 -3.3,.3 4.4-1.2 -4.8,3.0 3.0,3.1 -.9,.3 -.4-.9 3.9,.6 3.3-1.0 .6-.9 1.9,5.9 6.4-3.2 1.3-6.2 -.1-3.8 2.7-2.2 .2-1.7 -4.3,2.7 2.9,7.0 -3.2,1.9 2.5,4.6 -6.0-1.3 -3.0,.2 .6-.1 4.5,1.2 3.4-2.6 .4-2.5 2.7-.8 3.2-3.2 0,3.5 .4,1.7 -3.7-2.1 -1.1-.4 2.4-1.4 -.3-.6 2.9,3.5 3.9,1.4 3.4-1.6 3.4,2.9 -.1,.6 -1.8,.1 3.5,3.3 1.7-3.3 8.3-2.5 -2.4-4.8 .2-.7 -2.9,1.8 2.0-.9 -.3,1.1 -4.4-1.7 2.7,2.5 .1-1.0 .9,.8 -.1-3.7 -1.3-4.5 -3.0-.5 -3.7,1.6 1.5,3.2 3.7,.6 1.1,5.0 -3.7-5.4 -.1-1.3 -2.3-.6 -1.3,.3 -1.8,.7 -3.4-4.6 -.7,4.0 1.2-.1 .6-1.2 -4.5,1.4 2.6-.2 .5-1.8 -2.5-.8 4.2,1.7 .2-3.0 -3.9-.9 1.1-1.1 -3.7-3.2 -1.1-3.8 -.6,2.9 5.6,3.4 6.3-1.0 -2.9-2.3 -2.7-2.5 -6.4,9.1 4.3,1.0 -1.8,1.6 2.7-5.3 -1.7,1.3 2.3-.9 -3.7,1.9 3.3-1.5 2.7,.4 1.0-4.6 -2.2-1.5 -3.6-.1 .3,3.9 -2.1-1.3 -2.3,3.2 1.4,4.2 -1.7-3.7 1.2,2.0 -.3,.2 -6.6,1.1 -2.5,.3 1.2-4.6 1.3-4.6 -2.0,.5 -4.1,3.2 .6-.9 4.7-.1 2.9,3.8 -2.1,.3 3.5,1.5 1.2,3.7 1.0,3.8 -.3-1.6 -2.1,1.2 2.1-3.6 -1.5,7.0 0,1.0 .5-2.0 1.0,7.3 .3-.5 -.5-2.3 -.5-1.3 -1.7,3.2 -3.1-2.5 -1.3-.8 -1.1,3.2 .5-2.4 .3-1.2 1.5,4.1 -4.3,2.9 2.4,1.0 -.3-4.6 -1.2,2.7 -.2-4.5 -5.5-1.9 .4-2.9 -.9,0 1.1-1.7 .5-2.2 .4-3.3 2.9,3.7 .8,3.4 -3.1-2.0 5.2,.2 .8,5.6 1.0,1.3 -.2,2.0 -1.4-2.9 -1.0-1.2 1.7,5.4 -1.7-1.4 4.9-1.4 1.4-.5 -1.0,3.2 2.5-3.9 5.9,.6 -1.1-.2 -.3,1.0 .1-.1 -.4-1.7 -1.1-3.9 .4-3.3 2.2-2.1 0,1.0 3.1,3.9 -2.1-.8 -4.7-3.3 .4,.6 4.3,2.8 -.7-.6 -2.5,.3 1.3,2.9 2.4-.4 -2.5-1.8 -1.7,1.9 -1.8-.7 -1.1-.5 -4.1,.3 1.3,.4 -3.9,0 1.5,3.5 -2.3,.2 1.6-3.5 -.1,2.1 -1.8-1.8 -5.8-4.7 -.9,.7 -1.7-1.4 3.7-2.6 .7,3.4 -2.5-2.9 4.7-4.4 -1.9,3.2 2.2,.4 3.1-1.9 -2.1-6.9 -.7,6.2 -.6-4.3 .8,2.4 -2.2,.7 -4.0-1.7 .3-1.7 2.6-3.3 2.6-3.0 -2.3,1.0 3.7-3.3 -3.6,.4 3.4-2.6 -1.9,2.6 -3.6,0 -1.5,3.4 -2.6-1.6 -3.6,3.7 -1.6,1.8 4.2,1.1 3.0-3.1 .8,2.9 -1.0-2.9 -.5,6.0 -3.7,3.2 0,.3 -.1,3.3 -2.5,1.6 -9.7,1.6 .5,5.6 7.9,4.9 -2.6,.9 1.9,2.5 4.2,2.0 5.8-3.4 -5.8-5.3 3.4-3.2 1.1-3.4 -4.4,2.9 3.6-2.1 1.1,1.1 .4,.7 1.2-1.6 -1.9-6.7 1.5,1.6 .7,1.0 -2.0,3.4 -2.6,1.1 -2.6-5.4 0-2.5 .3,1.0 -3.2-4.1 2.2-.4 5.5,4.8 -.4,5.4 .2-2.6 1.9,4.5 1.5-2.2 -2.6,3.0 -3.5,1.0 1.2,4.3 1.3,2.6 .6-4.1 .2-4.6 -3.7-4.0 .1-5.6 2.2,4.1 .2-.6 -.3-3.0 -4.3-.7 6.8-5.2 -2.8-1.2 1.5,2.2 5.7-.6 2.4,3.5 1.9,.2 1.9,2.0 -3.8,5.1 2.5,3.5 4.1,3.1 -.1-1.9 2.9-2.5 2.7,.7 -2.7,.9 -2.2,2.1 -1.6-.1 -3.9,2.5 2.2,1.5 1.1,4.9 -1.9-4.4 -6.5-1.1 -2.9,4.5 4.5,.9 5.0-.3 -.7-1.9 -4.1,.5 -1.7-1.7 -.4,1.4 4.8,3.5 -1.4-3.7 4.0-3.4 .2,.8 -1.5-.8 1.5,2.5 -1.1,1.4 -3.0,.5 -3.1,2.8 .3-1.5 -1.2-7.2 -.4-2.4 -1.5-.6 2.0-2.1 4.8-.7 .5-.4 6.5-1.0 3.5-3.4 6.7,2.7 -2.7-1.2 2.9,3.2 .5-3.0 3.8-2.3 .8,1.0 2.1,4.7 -5.9-1.9 1.3-3.6 -1.1-4.0 1.6,3.4 -.4-2.1 -3.3,2.6 1.2,2.3 -4.6-4.8 -2.6,2.0 1.0-1.4 .1,2.8 -3.5,2.1 -3.1,.7 .5,6.0 -.3,2.4 -6.1,.2 -3.0,.9 -3.9-1.9 -1.6,2.5 1.8-2.1 -3.4,3.0 -.2-5.9 -.2-3.6 2.8,0 -.3,2.5 -1.7-2.9 3.1,6.5 .2,3.5 -.3-3.1 8.4,.9 -.1-1.3 .5,.9 1.7,.5 1.3-.9 -1.5-3.6 -1.4-1.7 1.1-3.3 -.7,2.6 2.7-1.6 -.1-6.2 -8.5,.9 1.6-1.2 3.0-3.7 -3.7,.1 1.7-.9 -.8-2.5 -1.0-6.2 .9-1.5 .9,4.6 -2.4,1.3 -1.1,2.0 .5,2.1 1.3-4.6 1.7,2.4 .1,3.7 4.3,1.4 -1.4,.6 -3.9,3.3 .3-5.1 -3.3,4.7 2.5,3.4 -1.3-3.0 -1.3-2.6 1.5,1.2 1.5,2.2 -5.6-3.3 -1.9,.6 1.6,2.3 2.1,3.1 .9,1.7 -1.0,.1 3.8-2.6 1.7,3.7 -1.0,2.5 -1.1,4.2 3.2-4.1 -.7-3.0 -1.3,1.3 3.3,.1 4.1,2.8 -.9,1.9 0,.4 -1.1,1.1 .9-.5 -5.7-6.0 .3-1.3 2.3-.6 .9-2.6 1.5-2.4 -1.3,2.0 .3,2.0 -3.0,.5 .2,2.1 .9-1.7 -2.8,1.3 .2-5.3 -2.1-4.8 -14.7,5.9 -3.6-5.0 -1.0-1.3 -3.3-.2 .8,.2 1.6-2.0 5.6-3.9 .2-3.6 .4,1.2 -4.7,2.5 0,0 2.0-1.0 -.1,.2 2.8,1.3 6.8,5.0 -3.0-.6 -3.5,4.4 1.3-1.9 0,3.0 .2-.9 -9.6,.9 .7-.3 .6-2.2 1.0-1.3 1.1-14.4 4.3-.6 6.2-1.3 2.8,6.5 2.1-.8 -3.5-4.3 3.1,1.9 2.4,1.5 -5.7,1.9 1.0,4.7 -2.3-1.3 1.4-3.6 -1.1,1.1 1.4,3.4 0-.6 3.4,.2 .7,4.3 4.5-2.6 -3.9-2.1 4.8-1.3 -.4,1.8 .9,.3 -.6-2.3 1.6-.2 .3,1.4 -3.6,.5 -3.3,1.6 4.2,5.1 -2.2,4.6 -1.6,0 4.8-2.0 -3.8,2.5 -2.6,1.4 -.5,1.5 -.2,1.4 -1.4-1.4 4.0,7.6 -3.4-6.9 -.2,1.4 1.7,3.8 .5-1.7 -2.6,.5 -.2,.8 2.2,2.1 -1.2,1.1 2.4-3.3 -3.7,3.0 2.0-4.9 2.0,.8 1.1,5.7 2.1,1.3 1.1-.1 .4,1.9 -.6-2.5 .8,2.6 -2.1-3.7 3.6-4.7 -3.5,4.4 -3.0,1.6 1.7-2.8 -.1,4.0 -1.8-3.2 -4.7-5.5 14.4,1.7 -.2-2.5 6.0,8.5 .7-6.7 1.3,5.9 1.4-.8 -5.0-1.6 -1.4,1.6 -.1,3.2 3.1,.3 -.6,1.4 1.7-.6 1.5,1.6 -4.9-.2 .8,1.8 4.3-1.6 3.1,5.2 5.1-9.1 -5.0,.2 4.5,5.6 -.4-4.8 -4.7,12.8 .4,3.2 -1.8-4.0 -1.4-7.6 .8-1.6 3.3-1.2 .7,2.5 1.1,1.9 -.9-2.0 -2.5,1.2 -2.3-.5 -1.0-1.1 -.1,2.8 1.9,.5 2.8-4.4 2.3,2.1 2.7,4.4 -4.0-1.3 4.0-.1 -4.4-3.2 -1.2-2.3 4.0-2.4 .8,1.4 -.2-.9 .7-1.4 -3.3,3.7 17.0-5.5 1.2,2.6 -2.8,1.0 6.8,6.1 .4-1.4 -5.0-2.0 -.1,4.8 -3.7-.3 .9-16.7 -2.3-.8 -3.4-4.7 .4-4.0 -4.0,5.0 -.6-3.6 .7,4.1 -.9,1.8 -3.6-1.1 3.0-1.5 4.0,1.1 -4.2,1.7 -3.6-2.4 2.5,2.5 -.9-.2 2.0,2.4 -2.3,3.4 1.3,1.8 -1.5,1.6 -2.9,2.4 -1.3-5.1 2.3-.6 -2.8,1.1 -1.0-.3 -2.7-2.4 -.4-.4 6.1,3.6 -3.0,1.9 2.3-6.2 -6.3,.6 1.8,.6 -3.4-3.0 -.8,.7 -1.0,2.8 4.1,2.8 -4.8,4.3 -2.9,1.7 -2.2-3.0 -.9,1.7 .5-2.4 3.1,3.2 1.1,3.6 -.4,3.9 0-3.7 -.6,2.5 -1.3-3.4 .7-4.4 -2.2,.1 -.3,2.1 -4.8-.2 1.0-1.1 -1.5-1.8 0,7.3 -3.5,1.3 1.9,2.4 2.8-3.3 -4.0,.3 -.5-2.0 -.6,4.5 -.8-3.0 3.9,2.7 .2,.9 4.6-1.9 -10.6-1.8 3.4,0 -1.4-2.8 -2.7-.8 1.5-3.4 .3,2.3 -3.5,2.9 -.9-1.4 1.2-.1 1.3-3.2 .5-2.4 -3.4,.4 -3.3-4.0 1.6-7.2 6.9-.2 -1.6-.7 1.9,.7 -2.7,2.2 3.5,2.7 3.5-2.2 0-4.6 2.4-1.9 4.1-1.3 -2.6,4.1 2.1-2.9 5.9-1.8 -3.0,.5 .6,2.3 -2.2-1.6 1.8,1.8 1.2,1.8 -.8,1.7 1.1-1.1 -.1,2.9 -2.5,1.0 3.7-1.6 3.3,3.1 -.8,.5 2.0,7.2 -5.6,1.9 -.9-2.8 -1.8-.5 -2.4-1.0 -2.1-1.6 -5.5,1.5 .8-3.3 -2.0,.1 3.7-.5 -4.8-.5 3.2-.3 -3.3-4.4 1.8-.6 1.2,1.1 -.6-.7 -.5,2.1 2.9,4.2 3.2-1.0 -1.9,1.3 .9-1.1 .1,.6 6.7,1.7 -2.5-2.1 -1.0,.6 1.2-2.0 -1.0-3.4 3.6-4.5 .5,1.8 -1.5-4.6 -.5,2.8 .1-2.3 2.3-1.2 -.1-.8 .9-1.8 -5.5,2.0 -2.4,1.3 -.2,3.3 3.2,.5 -1.4-1.7 -.5,3.2 -1.2-1.9 -.9-2.0 4.3-.9 4.1,3.9 3.8,1.1 2.5,2.1 .7,.1 -1.5-2.0 .6,2.5 -.4,2.4 .6-4.1 .7,2.1 .9,.9 .5,2.1 -2.6,9.0 -4.3,.3 1.7-3.8 -.1,.9 5.8-.6 1.3-2.1 -1.8,2.7 -1.4-2.5 -2.4-2.1 -.7,.3 -3.8-4.4 -2.7-.7 -1.0,3.7 -1.2,3.6 -1.1-3.6 .5-2.8 6.8-.8 -2.4,.5 1.0,.7 .9-6.7 1.5,1.1 3.1-.7 4.9,6.6 .2-5.7 1.2-1.5 -3.2,2.0 2.0,1.0 -2.5,1.0 .3-2.8 -1.3,1.8 -5.8-1.4 -1.4,1.4 -.1-2.0 .4-1.1 1.4,1.3 -.6,2.3 -4.8,.3 -1.1,3.2 -.7-4.1 -1.3-1.2 0,1.2 .3,2.1 1.7,.1 -3.8,9.8 2.6,2.4 2.0,3.9 .6,2.1 -.3,3.5 2.1-1.1 -.8-1.7 2.2-.1 -1.8-3.7 -1.3-.9 1.8,4.2 1.0,5.2 -1.2,.3 -4.5-3.3 -3.2-3.5 4.3-1.5 .5-2.9 4.3,.8 -2.9,1.5 2.6,.3 -2.3,4.6 2.3,.5 -2.7-1.1 -.7,.3 -1.2,5.4 -1.7-4.8 -6.1,.9 -1.8,3.6 .2-.5 1.6-3.1 3.2-1.1 -2.5,10.2 1.9-2.9 -.1-.5 0,1.8 -1.7,.7 1.1,4.1 .4-6.7 -1.5,.7 2.9-2.8 -.7-.7 0,.4 .5-3.9 -.6,1.7 1.0-3.0 -1.3,5.0 -4.7,3.1 1.4-3.4 .4-3.5 1.2,.2 -3.1-1.8 -3.8-.8 3.3,.4 4.1,0 -4.0-1.8 .5-2.5 1.1-3.2 -.1-.5 4.3,3.2 -3.2,1.6 1.3,.4 5.3,.2 2.1,.3 -.3-1.3 -.7-2.0 -.2-5.1 1.3-2.6 -1.1,3.2 -1.7-3.4 0-4.7 2.0,1.6 1.7-.4 .9,1.2 -.5-.9 -2.6-1.1 .7,1.0 .4-.3 -3.0-1.3 .5,.4 1.7-1.7 -1.8-.4 -1.6,1.3 -3.9-1.8 0,3.0 2.6-1.8 4.5,2.2 .2-3.1 5.1-4.9 -3.4-.9 3.1-.9 2.1-1.9 -2.8-.9 -.1-7.4 1.2-.1 -3.3,.5 -5.5-.4 2.8,0 -1.1-3.7 3.6-1.0 .6-.2 -3.7,.3 -2.8,2.8 3.5-1.1 1.3,2.5 4.1-2.6 6.3,4.7 -3.3-3.1 2.4,2.6 3.2,8.2 -.2-1.5 .5,2.8 -1.7,5.0 -.5,3.1 0-3.7 5.4,4.1 -2.0,.4 9.6-3.4 -.1-4.0 -.7,1.2 -4.7-.1 .1,5.9 1.5-1.0 -1.3,3.5 1.6-5.7 .1,.2 1.9-4.3 1.3,2.6 -4.4-2.0 -4.2-9.5 -1.3,.6 -3.0-1.5 1.7,.3 -2.4-3.2 .8,5.1 -2.4,2.5 .4-2.4 1.5-.6 2.9,.6 -7.5,1.5 -.1,4.6 -.9-5.5 1.1,4.5 -1.7,4.9 1.8,.1 -3.3-2.8 4.0,3.2 -5.2,3.1 .2-6.9 4.1,4.4 -1.0,3.4 -1.0,2.5 -3.3,1.7 .7-3.2 2.4-3.0 2.0,0 -4.7,2.5 4.7-2.9 0,3.1 .1-2.8 2.2-1.2 -5.6,2.5 -.6-.6 -.3,2.2 1.7-1.0 1.8-3.3 -2.3,2.6 2.6-5.1 -5.0,1.8 -2.8,.8 -5.0,1.5 -2.1,4.7 -1.3-.5 -2.7-1.4 -.4,2.2 -2.5-2.2 1.9-.5 1.8,1.0 2.5,.5 3.5,1.3 .9-2.8 -9.4-15.5 -3.4-.8 0,.2 -3.7-4.1 2.6-4.2 3.0-2.5 2.9,5.0 -2.1-.1 -3.0-.8 -.2,0 1.7,1.0 -3.0,4.1 .8-1.2 -4.1-1.1 .8-2.2 3.1,1.9 -1.7,3.8 2.3-.7 -5.7-1.8 -.9,3.9 -3.1-3.4 2.9-.3 1.3-.4 -2.3,4.7 1.0,.6 8.3,5.7 1.9,.1 .7-2.5 1.8,4.2 -.5-2.2 -3.1-3.8 1.0-2.7 2.8,.2 -1.7-2.3 -1.4,2.0 8.7,5.2 -.2-6.6 2.9-2.9 -.5-2.2 .8-2.0 .2-.4 -2.1,.6 4.9-.1 1.3-1.7 .1-3.5 -3.1,1.3 1.5,4.1 -2.9-2.1 -2.1-1.8 -2.8,.7 -.8-2.8 -1.1-.6 -10.1,1.3 3.6,1.6 1.3-.3 1.2,.7 -.5-.1 1.2,.5 -.2,1.9 .8,1.4 -1.4-3.4 1.9-7.2 2.1,.1 2.0,1.1 -1.6-2.9 2.4-.3 -2.0-2.2 2.9-3.2 -4.1-1.1 .5,2.6 -2.5,2.1 .7-1.8 5.8,2.3 3.4,7.9 -.4-1.4 -3.7-.5 3.7-4.3 -4.3-4.4 -5.3-1.8 .1,2.1 4.4,2.0 .1,1.9 .3-3.9 .2-1.5 .4-.2 -3.1,3.2 2.6,.1 2.7,.7 1.3,1.9 1.5,1.1 6.3-.6 2.8-1.6 .5,.8 -5.4,2.6 1.7,4.8 -2.5,2.9 -2.6,1.9 .6,4.8 -1.4-2.7 -2.9-4.9 -2.5,0 .3-.4 -2.4,.3 -1.3,8.4 -6.8,.8 -4.5,1.7 .4,2.8 1.7,.4 1.0-.4 2.2-1.6 -3.1-.7 1.1-8.9 6.4,1.9 -.1,2.1 -.1-1.4 .1-5.3 -.9-.9 3.5,2.2 -.3,1.0 -4.4-3.8 2.3-4.8 1.0,2.9 1.0,2.3 .3,1.9 3.3,1.6 -2.1-2.9 -1.0-2.1 -4.0,2.2 .6-2.7 -1.3-1.2 -.4,2.3 1.0-.4 7.0,3.5 -.7,2.0 -.9,.5 -.3,.8 .7-.7 .5,1.0 -1.3-3.9 -1.8,.1 6.8,5.8 .1-1.9 1.1-2.0 2.9,4.5 .4-1.1 -4.7-.7 1.3,3.6 4.0,4.8 .3-2.7 3.9,.9 3.8,1.1 -1.8,1.3 -1.4-3.1 .5,.7 -.5,1.8 -2.6-3.3 3.4,.3 -1.7,1.8 -4.3-4.3 -4.3-1.7 -2.0-3.7 .9,.6 -.6-1.5 2.1,1.7 -4.4,2.8 1.6,1.8 1.3,2.0 .2,4.8 -1.0,1.0 -1.5,3.2 -1.3,1.0 .1-.7 1.6-4.3 -8.0,.9 5.3,4.5 .5-.6 1.4,2.1 -1.5,2.1 .7-2.2 .1,3.5 1.2-1.4 -5.9,6.4 -1.3-4.0 -.9-1.7 -.3,1.5 .9-2.7 -6.4,7.0 3.4-.5 3.0,1.7 -2.5,3.4 5.6,1.5 3.9,3.1 4.5,6.5 -1.0-1.6 .6-4.3 .9-3.1 -1.6,3.4 1.9-3.6 -4.2-2.5 4.9-1.6 -2.0,2.3 2.7,1.8 -1.4-1.1 1.6-2.5 -3.3,.7 -4.3-.5 3.6-.9 8.0-1.7 .9,3.1 4.6-1.1 -.2-.3 -2.4,2.9 -4.1,1.1 -1.4-2.0 -1.4,3.8 .6-2.7 2.9-5.6 -1.4,.1 -1.5,5.2 -5.2,2.6 -3.1-.5 2.8-2.1 -.6,2.0 1.6,2.2 -.5-.4 -2.2-2.1 1.1-3.1 1.7,3.5 1.9-1.4 4.8,4.3 .7,1.4 3.3-.3 -.6-2.7 -1.8,2.6 -3.3-.3 1.1-.2 4.7-7.6 -1.6,1.5 -2.4,.7 1.1-.1 .6-3.8 2.0-.4 4.5,.2 -.2-1.2 5.8-.7 3.5,.8 -2.9,3.8 0-3.5 -1.3-1.9 0-2.8 -.6,6.8 5.8,.5 .8,1.0 -4.2,.3 -1.0-2.0 0,1.7 1.3-4.4 -1.4-.4 -4.7-.6 -.9,1.0 -4.3,1.0 .6,2.1 .6,1.7 -.4-1.0 -3.6-.1 .1-1.3 -1.3,0 -1.1-2.5 -.2-2.1 -.3,3.1 13.6,10.9 2.8,1.3 -1.8,3.1 -.4,0 -1.2-2.8 -.6-6.7 2.7,1.7 4.0-2.9 .3,2.0 .4-.2 -2.9-4.0 -2.3,.1 .3-9.2 .9-.5 -2.7,2.0 5.0-5.4 0,6.5 -2.1,5.9 .8,6.6 -1.6,3.2 -2.2-2.2 -.6,.2 -.8,.5 1.8,2.8 4.5-2.6 5.9,.9 -1.5-.4 .8-1.3 .9-.1 -2.1,.5 -4.9-2.1 -.2-2.6 1.6,.3 3.3,2.4 -.1,8.9 -.6-2.5 -.8-5.4 .1,1.1 .5-6.1 -2.7-.3 -.4-2.6 -.7-1.9 .7,1.0 -4.3,0 -1.9,3.7 2.7-.3 2.7,.9 -3.8-.8 1.0-4.4 2.0-2.8 1.9-.5 -1.9-3.1 5.6-1.5 -1.9,.1 5.4-1.6 -1.2-1.2 -2.2,3.8 2.7,1.6 -7.4,.3 -2.6,2.1 .1-1.3 -7.9,.8 4.6-1.1 -1.8,1.5 -.3,4.0 -4.3,4.1 -.6,1.8 .3,2.6 -5.0,2.8 -1.6-.2 2.2,3.8 -1.7,2.1 1.0-2.3 .2,2.0 -1.4-5.4 -.1-2.6 -2.8-1.7 -2.1-7.3 5.4,1.1 .5,.5 3.6-2.6 2.0,0 .6,2.0 -.4,0 -1.7-.8 -1.6,1.3 4.9-2.2 2.8-.5 .6,.2 3.3,.9 -.1-3.6 -1.0-1.2 1.1-2.3 -3.6,3.2 5.1-4.0 -1.6-.6 -2.6-1.4 1.4-1.4 .6,1.8 7.0-.7 1.2,.6 .4-.5 -2.5,1.3 -5.1,.9 -1.4-2.7 2.1,.7 1.9,2.8 1.7,4.6 -7.4,.4 -2.4-9.5 1.7-.8 -1.7,4.4 -2.8,4.5 .8-2.0 .1,.9 -2.1-3.3 -.5,1.7 2.8,2.9 2.4-2.7 -.2-2.1 -5.4,.8 3.8,2.3 1.5,3.2 1.3,2.9 1.4-5.4 .9,7.0 -2.8,1.0 2.1,2.7 -3.2-.2 -2.9,4.3 .8-4.6 -3.6,.3 1.3,2.7 -2.4,2.8 -1.2,2.8 -4.1-4.5 -4.3-.1 -.6-6.8 5.0-3.3 2.3-5.4 3.7,1.3 2.6-2.4 -1.3,2.3 2.5-2.5 -1.5,1.2 .6,1.3 1.4,2.5 .3,2.3 4.0-3.4 1.8,0 -.6-1.1 1.8,9.2 1.9-4.9 -3.2-1.3 -1.6-1.1 -.1,.8 -.6,1.7 3.7-2.6 6.3,1.0 -.8-4.7 3.1-3.6 2.3,1.5 -4.9-1.4 -4.8-1.1 -4.7-3.6 .6,2.1 -4.3-5.1 -2.3-.9 -1.8,1.5 -.7,3.0 -2.2-2.6 -2.4,5.1 -1.4,.5 1.3-1.5 -2.9,.7 -1.4,1.3 -.1-5.7 3.4-2.1 -.6,3.6 .5,5.2 9.5-.6 1.5-3.3 2.0-2.2 1.0-2.3 .8,.3 -5.1-.1 -.4-6.4 -2.7,1.8 -.7,.1 -2.4,2.1 -2.4,1.2 -2.0-3.2 1.2,1.5 .5-3.4 -.2-1.4 -2.6-.9 6.2,1.7 -3.8-2.5 -3.0,.1 -4.2,2.7 -2.8-4.9 -3.1,0 1.0-.6 5.6,.7 .8,6.0 .2,.2 0-2.4 2.7-.7 4.5,2.7 -5.1,.6 -1.7,.2 -.7,1.8 3.7-.3 1.9-.2 3.0,5.2 -1.0-1.1 -.3-1.0 -6.6-.3 5.1-1.4 -1.0,.1 -2.7,1.9" fill="none" stroke="#f28b8b" stroke-width="0.5" stroke-opacity="0.8" stroke-linejoin="round"/>
<path d="M102.4,307.4l-.6,1.3 7.0-7.8 -.4,2.2 5.9-1.8 1.4-3.8 1.3,3.0 8.2,3.3 -2.0-.6 .5-1.9 5.1-6.4 .8,4.8 1.0-1.9 1.4,3.0 -6.3,0 .7-.4 5.3-1.0 -1.7,3.5 -5.3-3.2 -3.9,1.3 -2.2,2.8 4.1-10.2 -4.7,.9 -2.3,2.5 -5.9,1.4 8.2,.8 0,3.0 -.3,1.5 -.1,5.0 4.5-.3 18.2-1.7 -5.1,0 4.0-1.9 -4.7-.2 1.7-6.3 -1.1-6.0 -4.5,2.1 -1.7,3.3 1.8,4.6 4.3,5.3 3.8,1.2 -.2-.9 -3.9,2.2 4.9-3.5 -6.3,2.0 -1.7,.7 -.3-4.5 -1.9,1.0 -8.5,5.0 8.1-.5 14.5,1.4 -4.0-.5 -4.6,.4 -5.4-.7 1.7,2.8 -2.5,.8 1.9,1.0 4.9,3.9 .3-4.3 6.6,.2 8.3,2.1 .3,1.9 -3.1-7.8 1.4,2.0 4.4-.4 -11.9-.3 5.8,.7 3.2-2.2 2.9-1.3 -2.9-2.2 2.1,2.4 -1.7-2.2 9.8,4.8 3.7-2.1 -7.6-1.7 -3.0,1.8 -.8-1.6 4.1-2.5 -2.8,3.0 -3.2,3.4 9.8-1.1 4.4,.8 -1.3-.5 -8.6,.6 -3.3-.2 2.8-1.3 -1.8,1.8 -3.1-5.1 -6.5,.8 4.8,1.0 -7.6,1.7 11.8-1.9 6.3-3.9 -7.6,.5 7.2,1.9 4.1-3.9 1.9,.3 .9-1.3 -11.0-5.6 3.4-.2 -9.1,.2 -4.7,5.2 4.0,4.1 -6.6,1.9 -3.7,.5 .7,4.4 -3.7-1.0 1.5-1.2 -5.0-2.6 -1.4-2.1 -2.8-3.6 -6.5-1.0 -5.0-1.1 -.6-.6 .5,3.3 -.8-6.6 -5.5-3.3 -5.9-.4 4.5,4.0 5.9-2.8 4.1-5.3 5.6-1.2 1.8-.2 -6.0,2.9 -.5,3.3 .3,2.8 6.1-4.7 -5.7-2.8 1.2,2.5 .8,2.1 3.9-4.2 10.6,.3 .7,9.3 .5-4.6 -1.1-3.0 -2.7,4.0 -1.0-1.8 1.0,.7 2.7,2.9 7.0-.4 -4.8,3.0 1.3,4.3 -6.1,0 -4.0-.8 -4.5,5.2 3.8-4.3 1.0-2.3 -2.2,3.1 -3.2-6.6 4.3-2.6 10.4,.8 -2.3-1.6 4.5,5.3 2.8-1.7 7.6,4.8 8.0-1.6 -4.4,4.9 7.1,2.5 -6.7,.4 3.0,3.3 -4.2-4.3 -5.6,2.9 -3.3-1.6 -.4,.2 1.1-2.2 7.3-6.3 -5.3-4.0 -.4-.9 2.4-1.8 -3.7-.1 3.3,2.2 -2.5,2.4 1.6-1.8 -2.0,.7 .1-6.2 5.7,3.9 -6.4,.9 -6.4,.3 -6.7,1.8 -2.8-1.6 -1.6-1.3 -8.1-1.3 1.4-1.2 -.6,2.2 10.1,2.0 3.3,2.8 3.9,2.9 -3.8-.5 -11.4,.3 10.1-5.1 -4.2,4.5 10.2-3.0 4.6,2.2 .5-2.1 2.9-2.4 -4.8,.5 2.0-6.6 .9-1.9 -12.1,1.2 -6.9-3.5 3.2,2.8 -6.4,5.4 5.3,1.6 -1.9,3.8 -8.5,2.0 -2.0,8.5 -6.0-3.3 -1.2,4.9 -9.6-3.5 3.5,1.6 -6.1,.2 7.3-1.1 -2.1,3.2 -4.0-.5 8.5-2.6 -1.3-1.5 5.1,4.2 .7-7.4 -5.0-4.8 6.3,1.0 -.2-.9 -.6,3.2 -.3-1.3 2.3-1.0 5.3,2.6 8.2,1.3 4.7-1.3 3.2-.9 -2.8-6.4 5.8,.8 -.9-1.2 -7.4-3.2 9.9,1.5 4.0,2.9 2.7,.1 -8.0,3.4 -9.9-3.1 -2.8-.1 1.4,.4 -12.2-2.9 .4,1.3 1.0,3.0 3.3,2.5 -7.6,2.7 .8,3.8 -4.1,3.6 1.9,3.7 4.9,.1 -2.9,.1 4.9-2.1 8.4-2.6 4.8-5.4 -7.5,5.1 1.1-.1 -4.1,2.8 -2.8-4.0 4.2-1.1 .1,2.4 1.2,.7 -.2,1.9 .4-7.9 1.9,7.3 0,.7 -8.2,3.7 5.9,3.1 3.8,.5 3.7,.9 -4.1-4.9 -5.1,.5 -11.0-1.1 -4.6,.8 1.2-3.7 3.3,3.0 1.0-.8 11.0,1.1 2.1-5.3 -5.5-2.7 -2.7-2.7 -1.6,.7 -5.4-3.7 5.2,2.5 -3.9-2.7 6.5-.2 2.4,2.9 -.9-2.3 -6.0,1.8 -.1-.4 -7.2-1.3 -5.5-2.6 8.0-.9 -3.6,2.6 1.2-1.8 -4.1,.8 -2.2,0 2.6,3.2 11.9,1.7 -7.6,1.1 -.1-2.0 6.5-11.5 7.6-3.9 1.2,3.5" fill="none" stroke="#f28b8b" stroke-width="0.5" stroke-opacity="0.8" stroke-linejoin="round"/>
<rect x="114.6" y="251.5" width="4.8" height="94.7" fill="#2a9c0e" fill-opacity="0.5"/>
<rect x="114.6" y="251.5" width="4.8" height="22" fill="#2a9c0e"/>
<rect x="114.6" y="333" width="4.8" height="13.2" fill="#2a9c0e" fill-opacity="0.8"/>
<path d="M112.2,284.1l1.1,4.8 -.9-3.0 3.5,1.3 -1.8,6.6 -3.3-.3 -.9-1.9 1.5-.1 1.1,3.4 -.3-3.8 -2.3,.2 -.2-4.1 -1.8-5.2 -1.7,4.9 -3.4,1.3 .9,.3 .2-.8 -1.6,3.1 .2-3.2 1.9,9.8 2.4,3.4 .4,5.4 .9-.1 -.2-.7 .7-3.6 -2.1-4.8 2.5-1.4 -1.8,1.8 -2.0,2.4 0,0 .5,5.4 -1.9-7.4 .1,1.1 -.3-2.9 1.1-1.5 4.5,2.0 3.9,1.4 2.0,.1 -1.1-3.9 2.3-1.2 3.8-4.8 -.8-4.0 -.2,1.9 0,3.1 1.6,2.0 3.5,2.6 1.0-3.6 1.1,2.7 -.5-5.8 1.7-4.0 -.5-7.0 -1.6,6.7 -.9-.9 -2.3,1.1 1.0-3.5 -.1-2.5 -3.7,8.1 -2.1,3.9 -4.8-2.1 1.5-.3 .1,7.6 -.9-3.6 1.0-3.8 .2,2.1 1.0-3.3 .6,7.7 -2.7-4.1 -.8-8.2 .2,5.0 1.6,3.3 -.2,7.3 1.8,1.4 -.2-.4 .1-.3 -.3,5.1 -.3,4.7 .3,3.3 -2.3,4.1 -1.9-1.7 1.7,1.6 -1.1-.4 -1.6,5.1 1.6-.8 -1.1,2.3 -1.5-6.7 -.2-1.6 1.0,1.0 2.2,5.1 -.4-.5 -.3,2.0 -1.3-7.4 .4,2.7 3.8,2.7 -.6,.3 1.9-1.0 -2.1,4.8 .3,.1 -2.8,1.8 -.3,0 -1.8-4.3 -.9-3.8 .8,2.7 -2.6,4.0 3.0-.5 -.9,1.5 .1,3.5 0-5.0 -2.3-2.8 -2.0,1.8 -2.0,7.8 1.9,1.4 1.8-.1 .4-3.3 -.8-.6 2.4-5.7 4.2-.1 2.5,5.0 -2.6-1.4 -2.8-2.2 -2.9,.5 -.8-4.1" fill="none" stroke="#f28b8b" stroke-width="0.45" stroke-opacity="0.6" stroke-linejoin="round"/>
<g transform="translate(232.35,222.68)"><text x="0" y="0" font-family="'Liberation Sans', sans-serif" font-size="14.5" font-weight="bold">e</text></g>
<line x1="235.5" y1="358.3" x2="367" y2="394.6" stroke="#2a2a2a" stroke-width="0.85" />
<line x1="367" y1="394.6" x2="450.6" y2="336" stroke="#2a2a2a" stroke-width="0.85" />
<line x1="235.5" y1="358.3" x2="319.1" y2="299.7" stroke="#2a2a2a" stroke-width="0.85" />
<line x1="319.1" y1="299.7" x2="450.6" y2="336" stroke="#2a2a2a" stroke-width="0.85" />
<line x1="255.09" y1="363.71" x2="256.89" y2="362.45" stroke="#2a2a2a" stroke-width="0.7" />
<line x1="338.69" y1="305.11" x2="336.89" y2="306.37" stroke="#2a2a2a" stroke-width="0.7" />
<line x1="378.54" y1="386.51" x2="376.42" y2="385.93" stroke="#2a2a2a" stroke-width="0.7" />
<line x1="247.04" y1="350.21" x2="249.16" y2="350.8" stroke="#2a2a2a" stroke-width="0.7" />
<line x1="278.76" y1="370.24" x2="280.56" y2="368.98" stroke="#2a2a2a" stroke-width="0.7" />
<line x1="362.36" y1="311.64" x2="360.56" y2="312.91" stroke="#2a2a2a" stroke-width="0.7" />
<line x1="393.25" y1="376.2" x2="391.13" y2="375.61" stroke="#2a2a2a" stroke-width="0.7" />
<line x1="261.75" y1="339.9" x2="263.87" y2="340.49" stroke="#2a2a2a" stroke-width="0.7" />
<line x1="302.43" y1="376.78" x2="304.23" y2="375.51" stroke="#2a2a2a" stroke-width="0.7" />
<line x1="386.03" y1="318.18" x2="384.23" y2="319.44" stroke="#2a2a2a" stroke-width="0.7" />
<line x1="407.96" y1="365.89" x2="405.84" y2="365.3" stroke="#2a2a2a" stroke-width="0.7" />
<line x1="276.46" y1="329.59" x2="278.58" y2="330.17" stroke="#2a2a2a" stroke-width="0.7" />
<line x1="326.1" y1="383.31" x2="327.9" y2="382.05" stroke="#2a2a2a" stroke-width="0.7" />
<line x1="409.7" y1="324.71" x2="407.9" y2="325.97" stroke="#2a2a2a" stroke-width="0.7" />
<line x1="422.68" y1="355.57" x2="420.56" y2="354.99" stroke="#2a2a2a" stroke-width="0.7" />
<line x1="291.18" y1="319.27" x2="293.3" y2="319.86" stroke="#2a2a2a" stroke-width="0.7" />
<line x1="349.77" y1="389.84" x2="351.57" y2="388.58" stroke="#2a2a2a" stroke-width="0.7" />
<line x1="433.37" y1="331.24" x2="431.57" y2="332.51" stroke="#2a2a2a" stroke-width="0.7" />
<line x1="437.39" y1="345.26" x2="435.27" y2="344.67" stroke="#2a2a2a" stroke-width="0.7" />
<line x1="305.89" y1="308.96" x2="308.01" y2="309.54" stroke="#2a2a2a" stroke-width="0.7" />
<g transform="translate(240.2,378.92)"><text x="0" y="0" font-family="'Liberation Sans', sans-serif" font-size="12.5">-10</text></g>
<g transform="translate(294.75,390.52)"><text x="0" y="0" font-family="'Liberation Sans', sans-serif" font-size="12.5">0</text></g>
<g transform="translate(337.15,403.38)"><text x="0" y="0" font-family="'Liberation Sans', sans-serif" font-size="12.5">10</text></g>
<g transform="translate(284.86,403.3) scale(1.0235,1.0400)"><text x="0" y="0" font-family="'Liberation Serif', serif" font-size="19"><tspan font-style="italic">x</tspan></text></g>
<g transform="translate(376.6,398.12)"><text x="0" y="0" font-family="'Liberation Sans', sans-serif" font-size="12.5">-10</text></g>
<g transform="translate(409.5,376.88)"><text x="0" y="0" font-family="'Liberation Sans', sans-serif" font-size="12.5">0</text></g>
<g transform="translate(437.05,356.78)"><text x="0" y="0" font-family="'Liberation Sans', sans-serif" font-size="12.5">10</text></g>
<g transform="translate(420.2,386.21) scale(0.8000,0.9725)"><text x="0" y="0" font-family="'Liberation Serif', serif" font-size="19"><tspan font-style="italic">y</tspan></text></g>
<rect x="265.85" y="251.05" width="24" height="20.6" fill="none" stroke="#6aa6d6" stroke-width="1.9"/>
<g transform="translate(270.55,266.58)"><text x="0" y="0" font-family="'Liberation Sans', sans-serif" font-size="15.5" font-weight="bold" letter-spacing="0.8">III</text></g>
<path d="M342.85,239.8L349.75,252.6L335.95,252.6Z" fill="#2a9c0e"/>
<rect x="340.45" y="252.1" width="4.8" height="95.7" fill="#2a9c0e"/>
<g filter="url(#bl)"><ellipse cx="369" cy="309" rx="26" ry="24" fill="#6aa6d6"/><ellipse cx="341" cy="312" rx="24" ry="17" fill="#6aa6d6" fill-opacity="0.6"/></g>
<path d="M369.0,313.0l-2.7-1.2 .3,3.3 -1.8,1.1 .3-2.5 2.2-3.6 -5.7-3.2 -.5-3.2 .6-.3 -1.5,0 -4.5-1.1 -2.2,2.9 .2,2.3 0,.3 -3.5,.2 -4.3,2.2 -1.5,5.1 -3.1,0 -.1,1.6 2.5,3.4 1.0-1.4 -3.1-1.7 3.2,2.6 -2.0,1.4 -.9-.5 2.5-1.1 -.3,3.5 -.5,.6 -.1-3.2 -.9,2.7 .4,1.3 3.6-.4 -9.3,1.8 -5.5-1.1 1.1,5.2 -1.2,0 .1-1.0 2.2-3.1 .9-7.1 -2.0,2.2 1.3-4.0 -5.4-3.1 -5.6,2.0 3.0-2.3 1.2-4.0 5.0-.2 .2-2.4 -1.0-.1 -1.2-3.2 .2,2.6 -1.4-.8 .7-.8 -3.4-2.0 -1.3-2.5 -1.5,3.8 .2-1.5 3.0,.1 -1.6,1.3 .4-2.7 4.8-1.0 .5-.9 2.6-.6 .8,7.7 1.7-1.3 3.5,2.5 4.5,5.0 3.2-1.3 -3.3,2.2 3.0,4.6 -3.0-4.5 -2.6-.1 -4.5-5.5 .7-.6 -2.0-3.8 -2.3-4.0 .4,1.3 -1.3-2.4 1.2-1.7 3.2,13.1 3.2-.2 -3.8-1.2 .3,.2 4.0,0 -1.6-5.0 -1.5-1.2 .7-2.8 4.0,.6 .3,.3 2.1,.8 2.0-1.6 -3.5-.1 -3.5,4.6 -.9,2.1 -7.3,.7 1.0-2.7 .1,3.1 .6,3.9 -.5-4.6 3.5,2.3 .9,.6 0,.1 2.2-.2 -1.4,4.1 .8-1.0 .3,2.1 -.2-.7 -4.2-.7 3.3-2.1 -3.6,3.8 2.4-1.7 .6-2.6 6.6-.7 -2.7,.8 -2.8,3.2 3.8,3.7 2.1,4.7 -1.4-3.7 4.9,2.2 -2.1-1.6 -.2,.3 -.5-.4 .2,1.0 2.1-.1 1.6-5.2 2.9,1.6 -4.8-1.1 2.3,5.6 -2.0-3.3 -.1-3.1 -3.1,2.6 3.7-1.4 0-1.1 -3.6-3.8 -.1,.5 -4.7-2.1 1.7-.9 1.1-3.1 2.9,1.3 4.4,1.5 -.8-.7 8.0-.4 -1.7,.5 -.9,2.5 3.5,.8 -1.3-1.2 -1.4-2.1 -2.8-3.2 2.9-3.8 -1.7-2.2 -1.3,4.0 1.5-.4 2.0-.2 .1-2.6 .4,2.7 .1-4.2 -3.0-4.3 .6,3.2 -3.0-1.6 1.4-1.7 2.1-1.5 -2.7-2.7 5.9-.3 .1,.9 6.0-2.1 -3.0-2.9 2.6-1.8 -.9,4.2 1.7-2.2 -3.1-.2 -2.8,4.2 -1.0-1.8 -1.0,.5 -.1-2.3 .2,3.8 -.2-1.4 -1.6-1.4 -2.9,2.1 1.1,.1 -2.6-.1 1.1,.5 .5-2.9 -.6-4.7 .8,.3 -.8-1.8 -3.8,1.3 1.1,1.0 -1.0,2.1 1.8,1.2 1.5-1.0 2.2,1.7 -4.2,1.9 3.4,1.1 3.1,.1 1.4-3.3 -1.7,3.8 1.1,4.9 -.1-.2 -1.9,1.4 .7,2.8 0,2.1 3.5,1.3 1.3-2.4 1.9,.1 -4.9-.7 -2.4-5.5 3.0,1.4 .1,2.2 -.1,1.7 5.3,3.1 1.0,2.2 0,2.4 -.4,0 4.2-.1 -2.9-.4 6.0,6.7 -2.8,.8 -4.5,2.5 1.6-1.4 -.6,2.7 -2.5,.3 2.2,.4 .3-1.1 .7,2.1 -1.2,2.9 6.1-.2 4.6-.6 .2,.8 -5.0-3.9 -2.3-.6 1.9-1.1 -2.6-1.1 3.4-.2 -1.0-.7 -4.8-2.8 7.7,2.4 2.1,5.1 -1.2,2.8 2.0-1.6 5.0,1.2 -6.3,1.3 1.3,1.4 -5.2,.5 -1.0-1.9 -6.9,2.7 3.5,4.6 -5.4-2.7 -1.3-.3 1.2-4.3 -.1-1.1 -1.5-1.8 .1,4.4 4.2,1.4 4.5-.6 -.9-.1 -.2-3.2 7.0-.5 1.5,1.5 -.7,2.0 .3,3.6 .2-1.8 -6.0-2.2 2.0,1.2 -4.7,1.5 -1.9,.9 -6.1-1.4 -1.8,.5 5.0-.9 -2.1-2.8 1.5-2.0 0-5.3 -.1,.7 2.0-.1 1.5,.9 -4.3-.7 .8-3.6 .5-3.2 -.7-.2 .5-1.7 -2.1,0 8.0-2.6 -2.5,2.1 -1.3,0 -2.8-1.2 -4.1-1.0 -.4-4.4 2.7,1.6 -6.4,4.2 -3.2-2.0 1.0,3.0 3.2-1.5 18.9,5.0 -.2,.7 -1.5-4.5 .1,.8 .9,2.0 2.6,5.3 .7,.2 -2.8-.4 2.2-1.3 -.9,.2 -3.5-.2 -2.9-.7 -3.1,.3 3.5,5.8 -.6,1.6 .4,3.6 3.2-.5 .6-2.1 2.2-.2 -1.6-5.7 2.0,.2 3.1-1.4 -.7,2.9 3.5-1.8 3.6-.5 -1.3,2.2 -1.4,.8 -2.1,.7 -1.8-1.5 0-1.7 3.2,.4 3.5,1.3 -2.7,1.8 5.4,4.1 -3.2,1.3 2.0-.6 1.7-.5 -7.0,1.2 2.7-1.0 .9-2.7 -4.9-.3 -.6,2.3 3.0-.4 1.6,2.4 -1.0-.8 -2.8,2.2 1.2-2.5 1.0-1.5 1.0,4.2 -2.2-1.4 0-.3 -5.5-1.0 1.0-2.2 -.7,.4 -5.3-3.1 -2.9,3.8 2.0-3.8 -.9-.4 5.4,.2 -3.0,1.2 2.5-.4 -5.9-1.0 -1.0-2.2 -4.0,.1 3.6-3.0 -1.1,2.4 -2.0,2.1 -.9-3.1 -2.0-5.8 -1.6,1.2 3.7-3.0 3.7-1.8 -.2-4.0 -7.1-2.6 -.5,.6 -.4,3.1 .3-1.6 .9-2.1 2.6,1.1 6.3,6.0 1.0,6.5 -3.5,.4 -1.5-.6 2.4-1.1 -3.5-.2 -.4,2.6 1.7,.7 -.3-.9 -3.1,3.3 -2.0-1.4 .7-2.0 -2.1-5.9 -5.8-.1 2.3-3.3 5.7,.9 -1.3,2.8 4.1,.3 2.1-1.5 .3-2.3 .4,6.0 -4.3-2.2 -.3,1.1 -1.3-2.1 -2.5,1.4 -2.8-.9 1.8-1.5 -5.1-2.8 -6.2-.8 -.6-1.8 .4-.1 .1-1.9 1.2,1.8 -1.0,2.6 3.9,3.6 -.2,2.2 1.1-1.4 -4.8-2.2 3.1,2.6 -1.0-5.2 -.2,1.6 -.2,.1 -2.1-3.6 4.4,.8 2.4,3.3 -1.7-.7 2.3,3.1 4.0,3.4 -4.3-.3 -.8,2.2 -2.4,3.6 1.1,2.2 1.4-6.5 -1.0-2.6 4.0-1.2 6.4-1.1 .9,1.1 2.6-1.2 .7,1.9 1.1-.2 -2.0,3.5 -.2,1.8 4.0,.7 -1.5,1.1 4.3,.9 4.6,.2 -3.6-3.8 -2.5,3.0 5.2,2.3 -.6,0 -1.6-.3 -5.1,.4 .7,1.9 2.4-4.3 -1.8,1.4 -19.3-5.0 5.1,.6 -3.9,3.6 .5-.8 3.0,6.7 4.2,1.0 4.2-3.5 1.1,2.0 1.3-2.3 .3-2.1 -3.6-1.4 -3.9-4.3 1.5,5.0 -1.7,2.1 -.7,4.0 -3.2-3.6 1.3-3.8 1.9,1.3 2.1,1.3 -.6,.8 -6.2-1.0 5.1-5.8 -3.1,2.4 3.3,.2 2.2-2.0 8.7,1.7 -2.6,3.6 4.8-.3 -.5-5.8 .3-2.6 -.2,4.9 -.1,2.9 -1.0,2.1 -.7-3.6 5.0-2.1 -2.7-3.0 4.4,5.9 -2.2,1.6 2.4,.5 1.8-1.7 -5.2-1.3 -.4-2.6 1.4-3.7 -2.8,1.9 2.6-1.0 -4.5,3.8 -8.3,6.6 -2.8,.1 .6-4.1 1.7,.4 .4,5.7 1.1-5.1 4.2-2.7 -.1-2.8 -1.4-1.3 2.2-1.5 1.0-.3 8.0,2.2 -1.3-5.5 4.6-2.2 -1.3-1.0 -1.3-.3 4.9,1.4 2.3,3.9 2.0,6.9 3.3,4.1 2.1,3.0 .9-2.5 -2.2-.6 1.2-4.0 3.2,1.8 -1.0,3.3 -5.5,1.7 -5.9,2.3 -.5,3.2 .4,3.3 -1.4-.2 4.7-2.9 -4.1,1.3 -8.1-.5 -1.3,3.5 -3.2,3.2 12.0,1.5 -.3,2.5 -.1-.6 -1.9,4.3 5.6-3.7 2.1,.9 -2.3-.7 -4.2,1.4 1.1,2.4 0,4.7 -1.2,.9 -2.7-.8 -6.1-1.4 -3.3-11.6 0-.3 2.1-3.8 4.1-2.4 3.3-1.4 .7,2.3 -2.6-3.1 -2.7-2.6 -2.6-.1 -2.2,0 1.1-2.0 -2.6-2.7 6.8-5.5 3.4-1.4 -3.1-2.2 6.5-1.0 -1.7-.4 .5,5.2 4.3,.6 -4.5-.4 -.8-5.6 -1.2-1.0 -.7,1.1 -2.8,.7 -1.1-1.4 -.1,3.0 4.6,2.1 2.3-3.8 -3.9-1.0 -1.5,.3 1.5-3.6 -1.2-2.8 -3.0,.2 1.8-2.3 -2.8,1.3 3.9-1.0 1.0,2.9 3.2,.5 3.7-.1 .4,.3 -1.0,2.2 1.8,.9 -6.7-.2 -2.3,.3 2.0-1.6 -5.5,1.9 2.5-2.3 6.8-2.0 -.9-2.4 5.1-1.6 3.4,3.1 3.2-2.0 -4.4-3.4 -2.2,6.1 -4.9,5.3 1.4-3.1 4.0-1.1 2.9,.5 -1.3-1.8 .1,3.1 -4.9,1.1 1.3,2.7 -3.0,2.4 -6.5,2.5 -.9-3.7 -3.4-.9 -6.8,1.9 -2.9,1.7 -11.3,11.6 1.3,.1 -.9,2.2 3.8-2.4 6.1,.4 7.1,.5 2.4-3.3 3.7-1.8 .6-.2 1.8-5.5 -1.2-.8 -3.6,1.4 -1.8-3.6 1.2-2.5 8.1,6.5 -.9-2.9 .9,2.8 3.6,2.0 1.4,.8 .6,2.3 5.1-.6 -.5-.9 -1.1-3.5 -1.1,5.3 2.6-2.8 1.9,4.4 1.5,.4 -.3-1.0 1.6,1.1 -4.3,3.4 2.8,3.1 2.2-1.1 -.6-.5 .1-.8 .8-2.7 -.5-1.8 -2.1,4.7 1.1-.6 .7-.6 .6,3.1 6.0-2.7 -3.4,4.2 -.5,1.8 -3.7-1.4 .2-.8 -2.4-1.5 1.4,3.3 -.6-1.6 -3.1-.9 1.9-.2 .9-1.2 1.5,.3 2.7,2.6 -2.6,3.4 -2.5-3.6 -1.7-4.6 -4.0-3.5 -2.2-.5 2.3-1.1 -2.6,4.1 -3.3-.4 1.4,4.2 -1.7-.7 .7-.1 .3-5.7 .3-3.5 -1.1,.6 -2.7,1.7 -1.5-3.8 2.0-4.3 5.4-2.4 -8.4,8.2 .8-4.7 3.0,4.2 3.7-1.7 0,.8 2.7,3.2 -4.1,.6 -7.2,1.7 -1.3,5.0 -2.2-.2 -2.1,.5 -1.2,3.8 2.7,.8 4.5-.7 -2.8-1.2 -.9,.8 -1.8-.6 -2.0-3.5 -5.0-.2 -1.7-3.0 6.0-3.8 2.0-1.2 3.3,4.1 -.7,2.3 15.1-4.0 -3.9,5.0 -6.6-.8 5.8-1.2 1.7,3.6 3.1,.8 .1-.4 -3.3-2.8 -4.2,2.5 -.3-2.4 1.5,1.5 2.9-1.9 -4.7,1.5 -1.3,2.5 -8.4-.4 3.4,5.8 .4-1.3 2.0,2.7 4.9-3.1 3.4,1.2 -2.1-1.8 3.4-3.8 1.8,.9 4.4,.7 1.5,4.0 3.6-1.3 -7.5-12.4 -2.2,.9 4.2,.4 -2.3-2.3 -1.8-.3 -4.4-.9 .5,4.5 -1.0-4.5 -5.1,1.6 .3-1.8 10.6-4.6 -2.6,2.1 -3.5-3.7 1.4,6.4 2.9,.4 -1.0-.8 5.8-5.1 .8-1.5 2.4,.3 1.9-5.2 6.5,2.5 -4.6-.3 -2.0,2.4 -.7-4.8 0-1.8 5.4-2.9 -2.7,3.2 .7-1.7 2.8-2.2 3.9,.4 1.9,4.1 3.0-.9 -.2-.4 -5.3-2.3 5.5,1.8 -2.1,0 -3.7-2.4 -1.4-2.5 -1.1,2.8 -1.3,.5 -2.4-.9 1.7,3.5 -1.5-1.0 -1.7-1.1 .2-2.8 2.8-1.3 -2.6,3.1 -2.7-.7 .4,.6 -1.9-9.1 -5.9,1.0 .7-.6 -.5-1.0 -2.9,3.5 2.8-.3 -.6,1.5 .6-1.4 4.9-.4 4.2,3.1 -1.5,6.2 1.4-.3 -4.3,1.2 -2.0-7.3 -1.1-3.4 3.3,7.5 -2.0-2.1 -1.3-1.2 2.8,1.8 .4,1.9 -3.3-1.0 4.7,3.4 -3.8,.6 .1-.4 -1.4,2.3 -1.0-.3 2.3-.6 -1.3-3.7 -3.3,1.9 -5.0-2.3 -2.5-2.8 -.6,1.2 1.0-1.7 1.8,.4 -3.3,.6 -.7-1.7 7.6-.5 1.1-6.2 -2.2,3.9 -2.4-.2 .1-1.1 -4.1-.2 6.0,2.2 3.6,2.9 3.1-.1 .4,1.0 -2.4-5.1 -6.2,.6 -5.0,2.0 .4,4.6 -3.6,2.7 1.4,2.5 -1.6-2.0 -.1-3.6 1.9,0 -14.1-4.8 .5-1.2 .2,.4 2.5-.9 1.6,3.2 .8,.4 3.3,2.6 2.9,.5 0-5.1 .5-2.6 -2.5,5.7 .7-3.8 -1.0,5.2 -6.5,.4 -1.0-5.3 5.4-4.5 -1.5,6.4 -.3,3.0 -1.5,2.0 -5.0,5.3 -1.5,.9 -3.6-1.3 .7,2.9 1.9,1.4 1.2-2.4 1.7,0 .8-2.0 0-2.0 2.5-1.4 -.5-.7 -2.0-1.0 -.4,4.0 -.4,4.2 1.6,2.1 7.6,.6 4.1-1.2 -22.3,6.2 3.0,2.3 .3,2.0 -.6,2.4 -3.5,.5 -1.9,.7 -4.1-3.3 -3.9,.2 2.7-3.4 1.1,1.7 -2.8,2.2 1.8-1.9 1.0,1.8 1.0-.8 1.3-.2 1.8-4.0 1.9,.5 -3.1-4.1 2.0,5.2 -2.0,1.8 -3.9,6.3 2.9,.9 1.4,2.6 -3.5,3.0 2.2-.1 -1.5,3.3 2.2,.2 2.1,1.2 2.2,4.7 .1,1.4 2.4-5.0 -3.0-2.9 -.4,1.4 -1.3,1.2 -2.1-2.4 -1.0-3.5 0-3.2 -3.5,.6 8.4,6.1 2.6-4.4 4.1-1.2 1.5-5.3 2.7-.2 3.2-3.1 -1.2-2.5 -2.6,4.5 6.3-3.2 -3.4-3.7 2.4-3.5 -2.1,.2 2.1-4.8 1.9-1.1 -4.8-3.5 -.7-2.8 5.0-.7 4.3,1.4 -4.4-9.8 -1.2-.2 2.0,1.0 -2.8-5.1 -2.6-1.2 -3.4-2.3 .8-1.2 -.3-2.0 6.0-1.0 4.4,4.4 6.3,.9 -.6,2.0 -.5,3.7 -3.0,2.4 3.5-2.4 1.5,4.9 .7-.5 -2.1,3.2 -2.0,2.3 3.1-1.8 3.1-1.5 2.6,4.2 -7.9-3.6 -.3,1.8 -1.9,.5 0-1.4 2.6-2.0 -1.2-3.9 -2.1,2.6 -2.2-3.2 0-.2 -1.7,3.1 .2-4.8 2.5,3.9 2.5-.8 -1.9,2.8 -.5-.6 1.2-1.8 .9,.3 3.2,.1 -3.1-1.3 3.8-4.5 -2.4-2.1 .9,2.1 1.2,2.6 2.3,.8 -.3,.2 1.3-.9 2.2-4.0 4.7-6.3 2.0-3.6 -7.9,4.4 2.7,0 -2.7,2.7 -.8,3.0 -1.1,.9 3.6,1.3 -.2-1.6 .2-1.3 -2.1,3.0 2.6-1.0 -3.5,1.9 6.4,3.6 -.7,1.3 4.3,2.7 -2.2,3.6 -.8,3.2 -.9-1.2 2.5-3.0 -2.3,2.0 -.1-4.2 -4.5,1.0 0,5.3 1.8,.4 2.8,2.8 3.1,1.3 1.3-3.3 5.3,.7 .8-.9 -7.1-4.1 -.3-.5 1.7-5.2 -2.7-2.9 -.4-.3 -1.6,5.4 -5.1,.9 1.4-2.7 -2.4-2.6 -.3,2.1 0,2.6 2.7-3.4 2.3-3.2 -.3-.9 4.1-6.0 6.8,.6 1.9,5.1 0-.1 .2,2.1 -.1-1.4 -.7,0 4.4,0 3.0-1.5 -.5,1.0 -2.1,.5 -7.0,.5 -3.4-3.1 -1.3,5.7 .1,1.5 3.4,1.4 .3,3.6 -3.2-1.5 -2.0-.8 -.9,1.3 -.1,5.4 9.5,2.6 -1.8-7.2 .3,5.0 5.5-.7 -7.9,.4 1.8,.3 2.6,1.7 2.8,2.8 -4.4-3.6 1.9,.2 -.2,.1 -2.4,5.4 -2.0-3.4 -1.1-1.9 2.1-.6 -1.1-2.8 .9,6.3 -.6,2.2 -4.4-2.6 .9-.3 2.9,.7 -1.5-.7 2.6,.1 -1.2-3.7 2.1,1.2 0,2.1 2.7-1.6 .7-6.2 2.8-1.1 -1.2-.4 -2.4,1.2 12.2,4.0 -1.2-3.6 -3.0,2.6 4.6,1.9 .2,.5 2.2-1.8 7.4-.2 -2.8-3.6 -.4,.9 6.9-2.1 1.2,1.2 -.9,4.1 .3,3.2 .7,.8 .8-.3 -1.8-2.7 1.2-12.9 -5.3,1.9 -3.5,3.5 -4.3-2.5 .3,2.8 .1-2.9 -3.2-.2 -.2,1.9 1.0-2.1 -2.4,3.2 -1.9,3.2 4.2,1.4 1.9-1.9 -4.9,.8 -.7-1.0 -1.7-1.7 3.9,1.1 -2.3,1.6 4.3-3.3 -2.4,3.5 2.6-1.5 -3.8-1.4 3.2,3.5 -3.6-.2 3.9,.9 -1.7-5.0 -3.8,1.1 -2.8-.8 -3.3-2.1 -2.3-.9 4.9-4.2 -.2,.1 -2.9,6.7 -.7,.2 -.8,2.7 1.1-.2 -2.8-2.5 -2.4-2.5 1.4-4.2 -.1,.1 0-1.2 -3.4,.1 -3.4,.1 7.1-1.8 4.8,.9 .9,.7 .5,1.5 2.7,1.3 -3.6,0 -1.5,.6 4.3,5.7 .8-.4 1.0,.3 .5-6.1 -2.5,1.6 2.9,.3 -3.2,1.8 .3,.4 -6.4,1.0 3.3-4.8 -5.3,4.4 .2-1.1 -1.3,1.9 2.7-.8 -1.4,1.1 .9,.6 -2.5,3.9 -3.0-.2 14.6-14.9 1.7-2.4 .9,4.6 -5.1,2.8 -1.4-5.3 -.9,3.3 -1.4-.8 4.0-5.0 5.0-.5 -.4,.3 -1.9-.3 2.1-4.6 -.9,3.9 -2.8,1.5 1.3,1.5 1.1,5.0 -.5-.7 1.1,.1 -5.9,1.2 2.1-3.0 -1.9,1.4 -2.8-1.1 -3.0-4.2 0,2.8 -2.1,1.3 1.6,1.2 -.2,.4 2.5,4.7 -1.3-5.4 -1.6-5.1 1.6-1.4 -3.1,2.4 -1.1,5.4 1.2,0 -.2,1.3 .8,3.5 -4.9-2.3 3.1,1.8 -2.8-2.7 .2-1.9 1.9,1.0 -6.5-.4 -.8-.8 2.1,.3 -3.0-1.3 -3.0-2.8 3.7,.9 -.4-.4 -1.7,4.1 2.2,2.1 -3.4-.2 2.0,1.4 .5-1.7 -7.1,6.6 -.5,6.2 -3.2-.1 -.3,1.5 -.9,7.9 -1.4-1.5 1.4,1.7 -4.0,1.1 -.6-4.0 -1.9-.3 .5,.1 -1.6-2.4 -7.2-1.0 -.8,2.1 .9-2.3 3.2,2.7 -2.9,2.6 -.3,.6 2.8-.2 -1.6,1.0 3.4,2.6 1.9,1.3 2.9-1.1 -1.8-9.1 2.3,3.5 -2.4,3.5 6.5-.2 3.2,4.0 4.9-1.1 -1.1-4.3 2.9,5.0 2.1-.9 -.8-2.5 -19.1,.8 8.1,1.7 1.9-3.5 -5.4,3.4 -3.2-.5 1.8,.6 -1.6-.1 -2.2-3.2 -2.4,2.5 3.1,4.1 2.7-2.8 2.2,3.5 7.3,.4 3.1-.4 -3.0,2.0 1.7-4.1 -3.0,1.8 -1.1,2.5 .4-1.7 1.1,.7 1.9-2.5 .1-2.2 -4.5,1.5 -5.7-4.8 -1.2,.7 -.7-3.0 .9-2.5 1.0-3.7 3.6,2.1 -1.0-1.5 -3.1,1.0 1.4-1.4 .9-7.0 .1,2.5 -.5-1.6 -1.0-1.4 1.9-1.3 2.2-1.6 1.3,3.2 -1.5-.3 5.3,1.2 -.8-5.1 .4,.6 5.0,3.5 3.3-1.2 5.2,2.5 -5.7,.4 -.2-3.0 -3.7,.6 3.1-1.7 1.7-1.1 15.9,1.5 -1.6,.2 -.3,3.2 3.4,1.8 -4.9-1.0 -2.5,2.4 -5.6-2.5 -4.1,2.9 1.6,7.3 -1.6,3.2 0,.8 -2.3-.6 -1.1-.6 4.3,1.7 -1.3-1.1 -.9-1.5 -.6-2.7 5.6,0 -1.4-1.4 -.5,4.5 4.9-2.8 2.4,1.4 -5.2,.7 7.7-.8 -3.7-1.4 2.8-.9 -2.2-1.4 -3.1-4.7 -3.5-1.1 -2.5,2.2 4.4,3.4 -.7-2.3 3.4-3.7 -4.1-2.2 6.3,.3 -2.2,2.8 -.1,5.5 0,1.6 -.1,2.3 1.0-1.1 0,3.4 -.8-6.4 2.1-2.5 -3.6,2.3 -1.4,.4 -.2-.3 4.9,2.5 -4.4-2.2 -2.2,2.2 .8,1.4 -2.6-1.0 -3.6-1.4 -.5-2.2 1.7,2.5 .2,2.4 .5-1.9 -.3,1.7 -3.0,3.0 -3.0-.7 -1.6-.3 -1.4,3.1 .2-4.0 -2.3-1.4 1.6-10.6 -.7,1.3 2.9,3.3 .1-2.7 -1.2,.7 .1-.4 .8,.7 -1.4-2.6 1.4-.5 7.0-1.9 .8-2.8 5.4,2.5 1.7,.4 -.5-1.0 6.7,2.2 -6.3,3.1 3.9-.8 .7-2.5 -1.8,2.5 -6.2,.8 -4.3-1.6 3.1-3.8 6.1,1.6 -.2-2.9 1.0,2.0 2.1,1.2 -4.2-2.8 -2.1,1.9 13.0,9.7 -1.5,1.4 -3.5,.7 .5,3.8 -2.7,.1 1.6-2.5 .9,2.2 -4.6,4.2 10.2,2.3 5.2,.4 -4.8,1.8 -.8-.5 4.7-5.2 -5.8,7.1 1.1-1.6 2.8-1.5 -11.0,1.5 -1.9,2.4 -5.6-4.1 0-.7 2.1-1.6 -3.8,5.0 -.5,3.1 -2.5-.5 3.7-2.9 .8,2.3 -1.1-4.2 5.3,1.2 7.1-3.1 -1.9-.3 4.3-2.8 -12.2,2.8 1.2-3.1 3.1-.8 1.5-1.2 2.8,.1 -6.3-4.4 -2.7,2.4 -.2,.1 -.9,.8 -6.6-1.2 -1.1-.6 -1.3,2.6 -3.0-8.2 -5.7-4.6 2.4-4.9 1.7-1.8 -4.7-2.8 -3.0,2.5 -3.1-2.2 -.7,2.4 -3.4-1.0 -6.5,1.9 -1.2,.3 -1.4-2.0 1.8,1.5 .7,3.4 -3.7,0 2.8-.5 -.9-4.5 -1.2,1.4 -.8-2.4 2.7-1.0 -2.8,.4 -.9-1.1 1.1-.2 1.1,1.6 .3-.6 -2.8,2.4 3.1-.8 .3-.2 -.6,2.9 -.2,1.9 .1,4.3 2.3,.6 2.2,0 -1.2-.1 1.4,3.5 -4.5-2.7 -1.9,1.3 -1.3,.5 -3.7-3.7 4.9-3.5 4.4-.5 -1.3,0 .4,2.5 1.5,.8 1.5-2.9 1.0-2.2 -2.5-2.2 -5.4-1.9 -2.4-.2 3.9,2.2 2.2-1.1 -1.0-1.4 2.8,.7 3.1-3.3 -3.2,.5 4.5,1.5 .3-2.9 1.9,.9 -.7,1.5 3.8-3.1 -1.7,.8 2.3-1.2 -3.3-3.4 .1-3.7 .4,4.4 2.6-4.2 1.7,1.4 -.5,4.8 -.1-2.2 -1.4,3.4 -2.6,1.0 1.8,1.0 2.0,.2 -.6-.8 -2.3-1.0 -2.9-5.1 -2.0-1.0 -2.6-2.4 7.6,2.3 -4.3,.4 2.7-.2 0-1.1 2.0-3.1 -.6-1.3 3.2,1.1 .2,5.7 1.3-2.0 .2-.6 3.4-5.5 6.0,2.8 .3-3.2 2.2,3.0 -.9,1.1 -1.0,4.6 -.4,5.0 -2.4-5.5 -1.1,6.3 .7-4.4 -1.1-.1 2.9,2.9 .3,1.2 .3,4.6 -1.8-1.1 -2.4,2.7 -2.3,.9 -.7,1.4 -2.2,2.3 -1.1,1.8 -5.7,1.5 .9-1.6 2.8,4.3 -4.7,3.0 2.4,.2 .5,1.0 -1.5-2.0 1.4-2.1 -2.9-1.4 -3.4,1.3 -.5,4.7 1.2-2.8 -1.5-1.0 2.7-6.3 -5.1,3.4 -1.1-2.9 -.7,.5 4.0,.9 4.1-.6 2.5,1.0 .4-1.4 3.1,0 -4.3-.7 -1.0-4.1 2.0-3.0 -2.8-3.3 -1.1-2.5 -2.6,.4 2.7-.9 -3.6-.4 3.0-1.3 -3.1,2.9 2.7,1.8 1.4-2.5 3.6,10.7 .6-2.6 -4.7-1.9 -3.2,4.0 -1.3-1.4 -3.8,1.2 1.6,.7 1.6-3.7 4.9,3.4 -.6,3.5 -4.1-1.1 4.1-2.2 -.5,6.1 -.8-2.5 2.4-2.8 -3.6-1.9 -3.6-1.7 2.1,2.1 -2.9,2.1 -5.3,1.8 3.6-.6 -1.0,1.4 -1.6-3.7 3.2,1.2 -2.7-1.4 -3.0-.5 -3.1,1.1 -2.8-1.9 -.4-1.4 1.3,2.9 -1.0-.3 -9.7-6.3 -3.8,2.7 .5,1.5 4.7-1.0 .1,4.9 -1.9-.8 1.0,.5 -4.6,2.6 -4.5-1.2 1.3,2.5 5.0-1.0 2.2,3.0 4.2,0 2.9,1.7 -5.2-.7 -2.9-.7 5.3-2.4 4.4,1.9 1.9,.8 -5.9-3.5 1.3,4.6 -6.3-1.0 2.1,0 5.4-1.8 0-3.2 -6.7-2.1 -.1,1.9 -.4,5.5 .5-2.9 2.9,1.3 -1.2,1.7 -.1-.8 1.5-1.8 6.3,1.8 1.0,2.4 4.4,5.8 1.6-.4 -3.5-.2 -.9,2.6 -.5,3.2 2.2-2.8 .3-1.3 -.8,2.4 4.5,1.1 .2,1.8 9.5-1.0 4.0,1.5 -.2,.7 2.8-1.3 3.0,1.6 -2.3-2.5 1.0,2.0 0-.4 -1.4,.3 1.4-5.6 -.7-.6 1.8-1.0 1.7,0 1.1-1.1 .5-2.6 4.2-.8 -.1-.1 .4-2.2 -1.8,2.5 -2.9,2.4 -1.7,.7 .6-5.9 -1.6,1.3 -2.1,4.0 -5.8-6.3 .3-1.7 -2.8,3.4 6.0-.6 3.0-1.0 5.1-.8 .3-1.9 -3.2,1.3 4.1,2.4 4.9,3.4 2.9-.7 -2.7,.1 -2.2-1.2 -2.6,1.7 1.7,3.7 -4.6,.1 -.5,2.5 1.7-1.0 -.5-.1 1.7-1.0 1.5-4.4 -2.1-.6 -.4-2.4 1.1-4.2 -3.0,4.4 -.8,.1 .3,3.9 2.9,2.7 5.4,1.5 -2.3,1.8 -1.3,5.5 -.4,0 3.8,1.1 4.6-3.6 -2.6-.2 2.2-3.0 3.3-1.6 2.5-11.7 1.2,1.5 -2.2-1.6 .7,1.0 4.0-1.8 5.2-.8 4.8-1.3 .1-2.1 -1.4,2.4 -.7-1.1 4.4-5.8 1.5-3.3 3.5-1.8 -3.6,1.7 .5,3.8 3.8,1.9 .5,1.4 3.7,.4 -3.0,.3 -1.3,.4 3.8-2.7 -3.2-1.9 -3.1,1.0 6.4,1.6 -3.4,1.9 1.5,1.9 -3.8-2.9 -2.4-2.2 .1,1.6 -1.9,.2 -2.3,2.2 1.9-.4 5.0-.9 2.9-.2 -2.7,1.2 -2.4-.5 -1.8-4.9 4.3,3.4 2.7,3.4 2.4-2.3 -2.0-2.8 .9,2.8 4.9,3.9 -1.9-.2 -1.5-2.7 -6.6,.4 .6,2.1 1.9,.4 -1.0-.2 4.5,1.1 -2.6-.5 .7-.1 2.2,.7 -.1,4.3 4.7,3.0 2.2-.5 -1.4-2.4 -.4,1.3 -9.9,.6 .2-2.3 3.8-4.5 -.7-4.8 -.2-1.1 9.2-.9 -3.3-.7 -.7-2.5 -1.9-3.2 -1.6,2.5 -1.4,.3 5.7-1.3 1.7-2.1 0-.8 2.5,3.2 .1,6.2 .1,2.4 1.4,.5 3.2-.4 -.8-1.0 -4.0,2.0 4.6,3.3 3.9-1.9 4.8-2.7 .1-.3 .5-1.1 2.8-3.3 -1.8-2.8 -.5-.3 -2.5,1.6 -3.5,4.2 -5.6-3.2 -4.1-.5 1.1-6.1 -4.2,2.9 -5.6,1.5 -1.1-.5 3.2,.6 -.5-.7 .3-.5 2.4,1.6 -5.2,1.6 -2.8-1.9 2.2-1.6 -.3-.8 -4.7-4.3 -.3,.7 6.0-.4 -5.7,1.0 -1.0,3.4 4.3,1.1 -2.2-3.6 .5,2.6 -.5-.3 2.7,1.3 1.7,1.7 1.9,.6 -1.7,4.6 -.7,4.0 -3.8-1.6 -3.9-1.8 5.3,2.8 .4-1.0 1.5-1.8 -1.8-2.1 -.8,1.6 -7.0,1.5 3.0-3.9 .7,1.3 -3.9,2.3 -1.5-1.9 2.4-1.5 1.9-4.1 -1.4-1.3 -6.0,2.2 -.6-3.3 -1.7,1.8 5.4-2.5 -7.0-2.2 -4.6,2.2 .4-2.0 .5,.2 6.5,.4 2.8,2.4 5.2-2.0 3.2,.3 -9.3-1.1 -5.4-.9 1.7,4.5 .1,2.5 -.2,5.0 1.6-6.5 1.1-.5 9.1-.3 .5-.5 -.5,2.3 -9.3-.6 -1.4,3.1 -3.1,1.0 4.7,.1 -2.1-3.5 .7,1.5 .9-1.1 2.4,.1 -5.4-1.8 5.3,.9 -9.7,2.6 -4.4,1.6 1.5-2.7 -4.4,4.0 -3.3,3.5 -1.7,5.6 1.2,2.9 3.2-.3 -3.0,.6 -2.7-1.3 5.0-3.5 -.7-.1 2.7-.8 .2,2.0 -1.3-5.3 3.0,.7 -1.4-2.5 -.5-1.5 -.8,1.6 .2-5.2 -.7-7.5 1.4-1.7 -1.1,2.0 -11.1-.1 2.4-.8 2.9,3.4 3.4,1.5 2.9,1.3 .6,6.3 -.6-.8 2.0-7.1 1.1-3.7 1.1,7.7 1.3-1.2 -2.3,.3 .3,.2 -.9,.4 -1.2-4.3 4.8,.8 -2.9,3.9 2.5,.4 3.2,.3 1.3,.1 1.4-.9 -2.0-3.5 -1.5,.3 -5.0,.6 -3.0-1.0 -5.4,.6 -.1-1.7 -.2-1.9 2.1-.6 .7,2.0 -2.8,2.8 -7.3-4.6 -.7,.5 .8-3.5 3.2,2.6 1.4,2.4 -.5,4.7 2.6,4.9 -2.3,2.9 1.5,.4 2.0-1.7 2.4-1.8 -.9-1.5 3.3,4.9 3.2,2.9 -1.0,1.7 -.2-1.3 -.7-3.2 .1,.3 2.3-1.5 -4.7-5.6 4.8-4.4 4.6-.9 5.5,2.7 1.8-1.6 -1.4-3.1 6.9-1.0 -5.1,1.3 -1.3-2.7 -2.3,1.2 3.1,5.0 -.3-3.0 -6.4-.4 1.0,3.2 -4.1-.9 3.8,5.3 -1.0-.1 -3.6,.4 1.3-2.8 -12.8,6.1 -.5-1.0 -2.8-4.3 1.2,1.0 .2,1.6 3.9,1.5 -.4,.8 -5.8-.1 -.5-4.9 -2.1-.3 -4.5-.8 -2.2-.5 .8,0 1.9-2.8 -1.4-.1 -1.9,4.6 -.4-.4 4.8,1.5 -8.8,1.1 6.7,.3 2.3-1.3 -1.3,2.9 2.8-2.4 -3.0,0 4.6,1.4 .8,0 -5.2,2.7 -.6,.2 5.4,1.2 -1.1-3.7 .8-.4 2.8,1.3 2.4,.7 1.9-4.2 -3.5,2.4 3.8,.3 3.7,.7 .6,2.8 1.0-3.8 .7,4.8 0,3.1 .3,.5 3.2,1.1 -3.2,.6 -1.6-2.7 -4.4-5.6 -1.7-.5 1.5-.3 -.9,1.8 3.1,2.0 -2.6-.7 -4.4,3.8 -1.3,.4 -1.7,1.4 -3.7-1.6 -7.1,8.3 6.0,2.1 1.1,2.8 -8.0,.7 -3.7,1.1 .5-1.2 4.0,1.2 5.5-3.6 1.3,2.9 3.8-.4 1.7,5.2 4.1,.8 -1.1,.8 -3.6,1.3 4.9-1.1 .8,.7 -.6-.8 3.9,2.8 -.1-4.7 3.0-1.4 4.3-.1 1.2-4.7 -.9,1.1 -1.0-2.6 .6,2.2 .8,.4 .7,3.7 -.2,.5 -3.0,.5 -.9-5.2 -3.3,1.5 5.8,.1 -1.1-3.1 4.8-.7 -2.6,.6 -3.8,3.0 -5.3-3.9 3.4-1.3 2.5,.2 -.5,2.7 5.4-1.1 2.2,1.0 .9-3.6 2.6-2.3 -.9,4.8 -3.4-3.0 .7-.1 .7,.2 -.2,.6 2.6-1.5 -2.3,.6 -1.2,1.0 -3.1,4.3 -.5,3.1 -3.1,6.5 -.5-3.3 -3.6-.5 1.0-1.1 -2.3,2.1 1.1-.4 .2-2.4 1.7-.7 -1.8-2.1 1.9,.4 .7-8.8 .1-4.3 -3.3,1.5 1.2-1.3 -4.5,1.1 2.7,4.5 1.2-.5 -.8-2.5 -5.2,.5 .8-2.6 -1.0-2.8 -.9-1.5 -2.8,1.1 1.7,.1 -2.6-2.0 .9,1.8 -1.1,.2 -6.2-2.3 -4.2-4.6 -1.8-4.1 1.1-.7 -1.7,4.2 -3.3-.3 4.8-4.0 1.3,1.6 1.5,5.7 1.0,2.1 -.4-1.3 -2.9-1.4 1.6-4.1 5.6,2.8 -1.4,3.1 2.0-1.9 -2.0,.2 -1.6,1.2 -1.0,1.9 4.2-6.3 1.8-3.9 2.9-2.6 2.1-.6 -2.4,.9 1.2-5.4 .4-2.0 -5.0,5.1 5.0,0 .5,1.1 3.3-2.1 2.4-.5 -2.8,2.2 -2.3-3.2 -4.4,.6 -5.0,.6 4.6,6.0 3.4,2.7 -2.4,4.0 .2-.8 -1.6,1.8 -.8-3.5 -4.2-1.7 7.3,1.0 2.6-5.7 4.7,2.0 -4.8,2.3 -1.6,1.0 -5.5,2.1 -2.7-3.4 -2.1,1.6 3.7-1.0 -5.6-2.7 9.6-3.1 1.3,1.4 .4-4.0 3.0,4.4 -.6,1.3 1.6-1.8 3.1-1.7 1.6,1.1 .4-1.5 -3.0-2.2 -1.3,3.1 0-1.3 1.0-.8 .3-.9 2.3,4.6 2.4,.5 2.2,.3 0-1.6 2.1,3.4 1.4,3.6 -1.0-2.9 .8-1.0 -.6,2.6 -1.3,1.6 .2,1.5 -2.4,.6 -.6,.5 -2.7-1.7 3.5,3.3 3.3,1.9 1.5,1.9 -3.2,1.3 -.5,2.7 -3.0-1.0 -4.1,1.9 .7,.6 .3-1.2 -1.3-1.6 3.4,.4 .6-.6 -2.1,.9 5.0-2.2 -3.0,3.3 2.5,3.3 5.3-13.8 -4.9,.4 -2.2,2.4 -1.4-1.4 -.4,5.3 1.4-1.6 1.5-.7 -1.4,2.9 2.0-1.4 1.4,.6 -2.8,1.6 1.2-.7 -.3-1.7 1.3-1.4 3.3,.3 -2.1,2.1 -2.3-.4 .9,1.5 -.7-.8 -6.1-.8 4.3,3.8 2.6-1.5 -.5,1.3 -1.6,1.0 .1,5.3 -3.3-3.6 -2.6-.6 0,2.1 1.1-.3 .6,1.1 1.7-3.6 5.4,.2 4.1-1.1 -.6,1.3 3.8,1.3 -5.9-3.1 2.1-2.8 1.5-5.0 -.7,.7 -6.8,0 2.1-.3 2.1-1.4 3.8,1.0 -1.9,2.3 -2.8-.3 -1.6,.1 -.8,.3 .5,2.8 1.5-1.5 -.1-3.5 2.9-2.3 -4.2,1.1 .7-2.6 -.4-1.1 4.7-1.3 .3,0 -6.4-1.6 -.8-.4 -3.0-2.4 5.6,3.5 1.5,4.3 1.6,3.2 -2.3,.8 -2.6-.9 -.3,1.7 .6-3.6 1.1-4.0 -1.8-1.9 -1.9-2.0 .4,7.1 .1-.6 -.9-6.2 -3.1,0 .3-2.6 2.7,2.4 1.7-.8 .6,1.8 -.3,.7 -2.2,4.4 2.4,.5 -6.4,5.2 -3.4,.2 1.8-3.2 4.2-3.6 -.7,5.5 4.2-1.9 3.1,1.5 1.9,1.6 .7,.5 -4.4-4.5 -3.9-.1 .4-.3 2.7,4.8 -4.0,3.1 0-1.7 4.3,1.1 -2.7-1.2 -1.1,1.3 -3.0-.3 -2.0,.8 -4.0-2.8 1.3,1.1 -.9,1.0 -2.9-.2 -2.7,2.4 -2.2-.2 2.3,1.4 -3.6,2.2 3.5,1.6 -3.2,2.4 2.6,2.9 1.6-1.2 .5-3.2 2.4,1.7 -4.0,5.4 1.5-3.2 1.1-2.9 .8,.5 -2.4-2.4 -.4-1.1 1.1,3.3 -2.6-.5 -1.2-.3 1.6,.2 -.2,2.0 3.1,1.6 -.7,1.8 .2-5.2 -1.7-3.4 -1.7-1.3 -5.1,8.4 3.1-1.7 -3.4-1.7 -1.9-4.2 5.2-.7 -.7,6.0 2.2,1.3 0,0 -2.1-2.4 1.4-5.7 4.2-1.9 -3.8,1.8 -3.3-1.1 -1.2-3.4 1.2,4.0 -4.2-1.1 1.7,2.4 -1.9-.6 2.0-1.3 3.2,2.0 0,3.8 -1.1-2.1 -2.1-1.7 -.7,1.3 .5,3.3 1.1-.5 2.2-2.4 5.1,2.5 -4.2-1.5 2.9-.8 4.9-2.0 3.1-3.6 -1.4-2.6 -4.2,.9 1.2-2.9 -.4-3.9 1.6,.4 .1,1.6 -2.2,1.4 .6,3.6 4.6-.2 2.6,2.4 3.8-.3 -1.2-.3 -1.2-.1 1.2,5.4 -3.1-1.7 -3.2,1.0 -2.7-1.0 -.7-1.2 1.8,.9 -2.6,.2 3.4,1.7 4.3-3.3 .8-2.4 -.6-.3 1.9-3.7 .3-4.7 -3.5-6.3 -.4,2.5 4.6,3.6 4.1,.9 2.1,2.4 -.6-4.0 1.1-3.2 2.2-.2 2.3-3.6 1.5,2.5 -5.7,0 3.7,4.3 -1.1-2.6 -3.9,3.1 1.6-5.4 2.3-3.4 -.3,2.4 .9-.9 -.4,2.0 3.1-4.1 -.5,3.1 2.5,3.9 .2-.4 -4.9-.3 -2.3-.4 4.2,1.2 -2.6-2.9 -4.9,.7 -.9,.8 5.7,1.7 2.9-3.3 -3.7-2.0 -1.6-1.4 -.8,3.8 -3.6,1.6 -1.0,2.9 -1.2-1.8 -1.6,.4 3.0-1.4 2.2-4.4 -.8-2.7 1.1-3.9 -1.8,.5 3.3-.4 -1.1-1.4 3.5,.8 2.9-1.5 0-1.9 -4.5,2.0 1.2,3.8 -1.9,.2 -3.4-2.6 3.6-11.0 1.5,.8 3.0-2.5 4.6-4.6 .7,1.3 -1.2-2.9 1.4-.9 -1.7,.7 -.5,.8 -8.3,2.2 -4.2-1.0 2.8,2.2 -.2,1.6 -1.4,3.6 2.9-.6 -3.2,1.5 -3.0,2.2 .5-3.6 1.8,.4 .9,3.9 -11.3-1.6 1.9-.6 .4,1.9 -2.5,2.0 1.2,5.1 .8-1.2 -.1-3.4 4.2,.1 .4,.6 2.1-2.7 -2.8,.9 .3,4.4 1.9,.4 -2.5-2.1 -4.5-1.8 -1.7-1.9 .6-.6 -.4,5.0 -5.5,.5 .7-3.7 .2,.2 1.6,.1 -1.0-2.7 -2.4,1.4 -.1-.2 1.5,.2 -2.1,.2 .7-.3 .1,3.8 2.1,1.3 -3.7,2.3 2.0,1.2 .2,.8 1.2-2.2 1.9-.7 .6-5.4 2.3,2.0 -3.1-.3 -2.0,.7 2.0-2.3 .2-1.2 5.0,4.3 3.4,4.3 1.6,5.0 -1.3-1.8 -1.7,2.0 4.3,3.0 3.2-1.0 1.5-.1 -1.6,.8 -.4,.9 1.6-2.9 1.4,1.7 8.7-.5 -2.3,3.5 2.7-2.3 -1.2,2.2 -2.5,1.1 -2.8,1.8 2.1-1.1 .7,1.5 -.5,1.9 -.2-2.0 -1.7,1.5 .9,3.3 -1.0-1.1 -3.4,4.4 1.0,.8 6.7,2.6 -2.6,.8 .2,.2 1.8,3.6 .7-5.1 3.0-.7 1.9-2.2 -3.1-2.4 -4.1-.1 -3.7,2.1 1.7,.3 -1.3-4.2 -2.0,3.8 -3.7,1.7 -.8,.9 -1.3-.9 -2.5,.3 -1.6-2.2 2.9,.6 2.4,.3 3.6-2.4 -1.5-2.1 2.9-4.3 -1.3,2.8 -.3,.3 .3-.5 1.7-2.7 -.1-1.1 -3.5-.8 1.8-1.0 1.3-3.6 -1.8-.4 5.9,4.6 .6-1.0 2.0,3.9 -1.6,.7 .3-1.8 -1.4,2.6 -15.3,0 5.9,.5 2.6-1.9 .3-2.7 -3.5,3.3 -2.5-4.3 4.4-2.8 .7-.3 -.4,3.6 -4.9,5.0 -2.7-.8 .5,.9 -1.2-1.9 .1,5.4 2.7,0 4.2,.2 -.6,2.3 4.1,1.5 4.1,3.9 .6,4.1 -2.4-.9 -1.0-3.9 .5,0 -1.4-.4 -1.0-.5 .3,2.9 .8-3.7 -1.8,3.0 1.7,4.1 2.3-2.1 .1-1.2 -.6-4.2 -3.0-1.9 -4.4,2.1 -.5-2.8 -4.9,3.1 -4.8-5.6 4.8-3.1 -4.6,1.6 6.9-.4 -1.6,2.0 2.6,.5 -2.2,2.4 -.9,1.1 -1.3-.8 0-.3 -1.7-4.0 -2.3,1.5 -1.9,1.4 -1.6-1.6 1.6-2.1 .5,2.6 3.1,1.0 3.5,2.0 6.1-2.9 -.6,1.7 0,3.2 4.4,6.5 -7.2-1.5 .7-.1 -3.0-1.0 -7.1,2.1 .6,.3 .3,2.1 1.9-1.1 4.3,.9 -5.9-2.6 4.2,.1 -.4,6.0 -3.4-.8 -4.6-.1 5.2-.4 1.1,2.1 -5.0,4.1 5.3,0 -1.3,.5 3.5-1.8 -1.5-4.1 4.6,1.6 3.0,1.1 -7.1,2.0 2.0-5.0 3.4,1.5 -.4,.5 -.5-2.7 -.9,1.9 -2.0,4.1 1.7,2.1 -6.1,1.8 4.8-6.4 .1-1.7 -1.6,2.6 -3.9-3.1 .8,2.0 3.2-4.5 -.5,.7 -2.6,.6 .2-2.4 6.4-.5 4.0,2.3 3.2,1.7 3.3-2.0 -3.7,4.4 1.4-3.4 -.8-.8 -.3-1.0 3.6-2.0 -2.3,2.1 1.8,2.6 3.7,1.0 4.0,2.5 2.5-.4 3.3,2.6 2.7,0 .8,2.2 2.6-4.2 0-3.4 -4.1,1.8 -1.6,1.8 2.0-4.0 .4,1.4 3.2,.2 4.1,0 .5,.8 2.2,2.6 2.2,.5 .8,2.7 -5.5-.1 5.5-.7 -2.1,0 -2.8-.8 3.8-3.5 -2.2-3.9 -6.4,3.2 .3,5.1 -4.1,2.7 -3.8-.8 .4,3.1 .5,2.3 -1.6-.1 -1.8-1.8 -4.9-5.6 .6,2.4 -.3,1.0 -.1-.9 -.7-1.8 1.5-1.3 4.3-1.4 2.9,3.5 4.6-.6 -.9-1.6 -6.8,.7 -2.6-.8 1.3-1.5 -2.2-1.0 -.5,1.3 -1.9-.8 -1.0-.7 -1.9-.4 1.6-1.0 -1.6-1.6 .6-1.0 4.5,1.8 3.0,.3 .4,6.1 3.1-1.6 6.7,.5 3.6,.9 .6,.6 7.6,.1 3.8-1.8 -2.6-.6 1.3-.9 -1.2-.8 2.5,1.1 -3.8,.7 .3-.5 -1.1-2.0 -2.3,4.5 -.8,1.7 2.9-3.7 9.4-.7 .1,1.8 .4-.7 .1-1.9 -7.5,1.8 -1.4,3.5 1.5-1.2 -.2-1.9 -1.1-3.9 1.3-3.2 2.0,4.7 1.6-4.6 -.1,.5 -.6-1.9 .5,.9 2.6,2.5 -1.9-.9 2.6,1.4 0,2.5 -2.6,5.1 3.7,.2 -2.0-3.0 -8.0,.3 0-1.1 -.4,1.8 1.9,1.6 .4,0 2.8-4.6 4.6-5.6 -2.4,.6 3.8,.8 .2,.9 -6.5,.4 1.7,.6 2.2,.4 .6,2.4 -.3-3.5 -1.9-2.3 -2.8-1.1 1.9,3.0 -2.9,.7 6.3-3.9 .9-1.2 .7-2.3 -.5,0 2.3,.1 -2.4-4.3 2.4,1.3 -.9-4.6 2.5-2.9 -.1,1.6 -1.5-2.0 -4.2,.3 -2.4-6.4 -3.0-.3 .7-3.5 -.9,2.3 -2.1-.4 -4.6,.8 .7,1.7 .5,.7 -.8-4.0 -2.4-.5 .9,1.3 -7.1,1.1 -.3-3.1 3.2,2.6 1.6,2.3 3.4,.4 .2,.6 2.0-1.7 .7-1.4 -6.2,2.0 -1.1,2.8 -2.1,4.8 2.6,4.3 .1-2.3 -1.1-2.9 2.5-2.3 .3,6.5 -1.8-.9 .2-.1 .1-3.8 3.9,2.6 -.7-.6 -5.0,2.0 .2-6.4 3.7-5.5 1.1-1.7 3.1,.7 -1.1-1.8 -3.0,2.3 -2.9-3.5 -5.1-2.6 .5,5.5 1.7,1.8 -2.7-.8 -.1-.4 -2.8-1.9 1.2-.7 .8-1.6 -5.0,1.8 1.1,1.3 5.8,.5 -3.1,1.8 2.2,2.1 -4.4-1.7 -1.1-3.3 -.4-4.6 2.2-3.2 2.0-.4 .5,2.9 -.6,1.4 .7-.9 -1.2-1.2 .4,0 .4,4.1 -1.7,1.1 -.4-.5 -3.9-5.9 8.4-5.3 -1.2,1.0 -.8,.1 .5,0 1.7,.3 .9-.7 -1.4-.7 5.2-.9 .6,1.8 -3.1,5.1 -4.7-4.2 .5,1.7 -4.9,.8 0-1.0 -.3-2.5 -3.8,2.7 -2.9,.8 -6.2-.2 -4.3-.1 0-5.7 -1.3,.7 1.5,3.2 2.4-2.1 9.5,5.9 2.2,2.6 5.7-.8 6.3-5.0 -13.0-3.9 -1.0,.8 -.3-2.6 -4.1,2.0 2.2-.6 3.5,.6 1.5-6.9 -1.2-2.9 -.9,5.6 5.7,3.9 -2.5,3.7 .5-.4 -1.2-2.1 -.9,4.8 -.2,.6 4.0,1.0 -1.2,3.0 -1.9-5.1 -.3,.6 .2-3.1 -.2-2.6 -3.8-.6 -1.0-.7 4.0-.1 5.9,1.3 1.7,4.1 1.9,2.2 -2.0-.1 -.1,1.0 -1.4-3.9 1.7-1.9 1.0,.5 -3.7-1.2 -2.7-.5 -1.5,1.2 -8.5,2.0 3.1-1.2 3.0-5.0 3.4-1.3 2.8-.2 -2.1-2.9 -5.2,3.1 .1-3.2 3.2,3.4 -.3,.7 1.8-.6 1.0,3.4 1.9-1.5 -3.9-.3 2.5-2.8 -.5,3.7 -7.6-.3 -7.2,2.4 -1.2,.9 .9-1.3 2.3,9.2 1.8,0 .9,4.0 2.8-.6 -4.9,1.6 1.0-2.9 -.6,.4 -3.1,1.4 -1.5-1.7 7.7,1.3 3.1,5.8 -4.3-.3 -.9-3.2 -3.2,.8 .5,0 -5.0-1.2 1.7-.2 -1.2-1.9 -3.5-1.1 8.5,1.8 0-.3 -1.1,0 2.6,.8 .8-2.6 -2.0-.1 3.4-1.4 2.4,3.1 1.0,3.5 -.1-5.3 1.9,.3 -3.8-.2 3.4-3.0 .1,3.1 4.6,1.0 .2-3.7 1.6-3.5 .5-2.2 -3.6-4.4 4.4-1.8 .6-2.0 .3,1.6 -5.4-6.6 -.7,2.4 -.9-.1 4.6-1.6 -.9-.3 -2.4-2.1 -.2,0 1.5-.3 1.1,4.4 2.5,0 -1.9,7.8 1.5,3.7 -2.6-.7 -3.9-1.0 2.2,.3 -5.0,2.1 -3.2,.8 -1.5-2.3 -2.7,1.4 1.1-.2 6.3-4.4 1.1,.5 -.6-2.7 -.3-3.7 3.4-8.2 .8,1.2 1.2,2.6 5.4,.7 -5.0,.3 4.1,6.5 -4.0,.1 .5,3.2 -8.0,3.9 -1.6,3.8 -4.0-3.2 2.9,4.1 -3.4,10.3 4.5,.5 -.6,.7 -1.9-.5 1.1,.1 -.4-.7 .1-1.6 2.1-.6 -.6,.4 1.4-4.2 -7.8,2.1 4.2,.3 0-.3 -2.2-1.5 5.2-1.2 .9-1.8 -2.1-3.6 -.3-.2 1.6-2.2 -5.0,.4 -2.1-3.8 -1.8,2.3 .2,.3 1.4-2.1 4.2,1.5 -.3,0 -4.1,3.1 .9-3.6 -2.3,7.8 -2.6,2.4 -6.0,.7 -3.2,1.8 -2.6-.9 -3.6,5.6 -1.7,2.0 4.6-.9 .8,.3 .2,4.0 -.3-1.6 2.2,.7 -3.6,.4 -.3,.2 1.3,.1 .3,3.6 2.2-.9 -2.2-1.4 2.9-2.0 .1-2.0 -2.3-4.2 -4.9,1.3 .5-.6 -6.0-.4 -1.9-.3 -1.5,.6 1.9,1.5 3.4,.9 -2.3,2.5 -1.1,2.5 4.6-3.9 -.9-.9 3.4,.4 -3.4-2.3 .4-1.0 .7,.5 1.6,2.1 .8-1.0 .5-1.7 3.4-1.4 2.3,2.4 .9-2.2 3.8,2.0 -.4-4.1 1.8,2.6 1.6,2.4 3.9,2.1 2.4,.9 -1.7,1.5 -2.0-3.0 .8,1.4 -1.9,.7 -.6-.9 2.8,4.7 2.6,2.0 -.7-2.8 .8,1.4 2.9,.3 4.5,2.6 5.4,.9 5.7-6.5 2.2-.7 4.4,1.0 -2.0,2.0 -5.9,.4 -5.1-.6 -1.4,3.8 2.5,1.2 3.0-3.2 2.6-2.0 3.6,3.6 -2.3,1.2 -2.0,1.2 .4,6.9 2.4,2.1 3.3-2.3 .7-3.8 .7-.5 2.5-4.3 -.1,.4 4.9-4.5 1.7-1.7 -6.7-1.2 1.9-.8 1.2-1.7 5.7-2.1 0,3.7 1.3,.8 .6-2.0 -1.4,1.9 1.0-8.5 -.5-2.1 .9,2.3 -1.4,2.6 .9,.3 0-2.6 -3.8-3.0 -2.2-5.1 -2.4-8.4 2.6,1.4 -.5,2.0 .4,4.3 .3-4.6 -3.9,2.4 1.0-2.0 -3.5,.8 .6-1.8 2.9,2.7 .6-4.9 .1-.6 1.3-2.4 -.8-3.8 4.4,3.9 -2.8,2.9 2.3,4.6 2.9,2.8 -5.0-1.5 1.2-.1 -.5,.6 1.4,.3 -1.5,2.3 4.7,.3 -2.4-.5 -.2-1.2 0,.7 3.6-.4 -.7-4.3 2.9,1.9 -2.2,.2 1.2-.5 -3.4,3.0 2.9-2.1 -1.5-1.7 1.2,1.5 2.2-6.2 -6.2-.4 -4.1-2.4 -2.0,10.8 1.5,4.8 0-2.2 3.0,3.7 -2.3-1.7 .3,3.7 -6.6,3.7 1.1-3.1 2.3,.6 .2,1.6 3.3-1.5 -.8-.5 -1.9,1.9 1.1,.1 -3.6,4.1 1.3,1.6 2.3,.6 -12.0,1.6 -.8,6.0" fill="none" stroke="#6aa6d6" stroke-width="0.5" stroke-opacity="0.75" stroke-linejoin="round"/>
<path d="M311.2,314.4l3.9,3.0 -2.3,1.5 6.3,.5 2.1-.8 -1.5-.1 1.5-3.4 2.1,.7 -.1-2.4 -4.4,4.2 2.0-.6 3.7,1.9 -2.3,4.8 1.1-.9 .9,2.6 .6-2.2 6.4-.4 4.9-.9 3.7,1.0 4.9,.4 1.2-.4 .1-.7 .9-3.5 -1.0,3.3 -3.4-2.4 -1.9-1.7 3.7-3.1 -5.8,2.8 -4.6-3.8 3.9,2.5 2.5,.9 6.3,0 -1.3-3.5 3.6-2.8 6.8,1.2 -2.9-.5 -4.0-.4 1.2,1.7 6.1,2.8 -2.2,4.2 14.9,6.5 -1.8,4.1 -.9-.1 -2.8-1.0 -1.6,.7 2.0-.3 2.6,2.5 1.9-1.1 -3.2-1.1 -.5,.6 4.1-1.9 -.5,1.7 -3.6-4.9 -4.1,.9 -7.3-3.4 3.9,.5 1.5,1.2 1.8-3.2 .4-2.1 -1.9-1.7 -1.4-2.5 0,5.1 4.6,1.0 1.0-2.1 -3.7,4.2 -2.2,2.5 -5.6-.6 -.7,1.5 -1.0,3.0 -1.2,.6 -2.0-3.6 -1.9,1.5 .3-1.3 .3-3.3 .9,1.6 2.9,4.7 -4.6-.4 .8-1.1 -1.3,.1 .4,1.9 2.3-2.6 -.7,2.5 4.1-4.0 2.9,1.3 -4.0,1.6 1.9-1.7 7.5,3.3 -4.7,.2 -.5,7.6 1.0-.6 5.5-3.9 0-5.9 -3.4,1.4 1.8,.1 .5-1.8 4.1,4.9 2.4-3.1 -4.4,1.6 -.9-2.6 1.2-1.8 -3.5,2.9 1.2-2.0 6.7-6.3 -1.1,2.6 .9-2.0 -4.3,1.7 -6.5,4.1 -3.0,4.8 3.6-1.7 1.5-4.6 -.8,2.7 -2.3-2.0 2.0-1.4 1.9,.6 .5-2.5 2.5-1.1 -1.3-4.0 -8.7-1.1 5.9,1.1 .3,1.6 -.9-1.0 0-4.8 8.3-2.3 -3.9,.1 -2.1-.5 -3.7-5.0 -4.0,1.3 -2.2,.5 -1.6,.4 -3.4-2.8 .5,3.8 1.1,2.5 9.5,1.2 -2.3,.2 -4.1,.1 3.2,4.5 -9.3,1.4 -5.5-.7 -7.4,1.5 1.2-2.8 -1.7,1.1 5.2,.7 5.9,.3 .5-4.7 -8.1-2.4 4.5-.8 3.3,.1 2.2-2.5 -6.9,3.8 -3.1-1.5 2.7,2.0 2.0,1.2 -6.2-5.6 .2-.4 1.1-.3 -4.8-4.4 3.4-2.8 1.8,4.4 .8,3.2 -2.2,.2 7.4,2.3 -7.8,5.5 -1.4-1.1 0,2.0 2.3,1.9 -1.3,2.7 -2.4,.9 2.7-.2 3.7,10.1 -2.0,0 1.0-1.5 .5,1.8 -.5-2.9 -.1-.3 2.1-.6 -.7,.2 -1.7-2.7 -1.9-.3 2.7-.5 3.6-1.6 6.8,1.6 -1.7-1.1 -6.4,1.5 1.0-1.6 2.2-3.0 -1.8,1.3 -4.3-1.9 -3.0,0 4.4-.5 -3.7-.9 2.4-3.5 -.6-2.7 -1.9-1.5 -.1-1.1 2.0-1.2 1.9,1.6 4.5-.8 1.1-6.5 .7-.6 2.3,.6 3.6-1.3 2.3,1.9 -.9-4.2 4.0,.1 5.6-1.1 -4.6,1.8 1.7-2.5 -5.1-3.3 -5.4,.2 1.9,.7 -.2,2.0 0-.1 0-2.1 -5.3,1.8 -4.3-2.7 2.9-1.3 -3.7,.6 8.4-2.5 -2.0,1.5 4.4,3.3 -.2,1.0 -5.0-.6 -3.2-1.3 7.0,4.0 .1-2.3 4.1,2.1 -.8-4.3 -.5,2.1 -1.4,.8 3.3,.4 3.4,1.5 -4.6,.5 -6.8-.1 1.8,4.0 5.8-1.1 -4.4,.6 -1.9,3.9 .3-1.8 1.1-.6 -3.9,1.5 1.4-3.2 -3.4,3.1 1.8-.1 0,3.3 2.2,4.1 4.1,0 1.4-.6 -1.8,.1 -6.4,1.1 4.6,3.9 -5.4,.1 2.4-1.0 -.6-2.5 -2.3-1.7 -10.2-2.7 -3.8-1.5 1.7-3.1 2.8-1.4 .1,1.6 -.3-1.8 -2.8,4.4 -.4,2.0 .6-.1 -2.8-1.6 -1.7-.9 2.7,4.9 2.1,.2 1.9-3.1 4.1,2.1 -3.1,3.8 4.0-3.7 -1.6,1.4 -6.1,0 4.3-.4 0-3.1 -8.3-4.7 -1.1,1.0 8.0,3.2 -4.0-5.1 -.5,5.6 -1.4,3.0 .4,2.8 -1.8-3.0 3.7-3.3 2.1-6.5 -1.2,2.1 -4.4-2.2 -.6,0 3.9,3.6 -.8,.1 4.6,.5 -2.6,1.4 4.5,.9 -2.1-.3 -.6-3.4 4.6,1.5 -4.5-.7 -1.6,8.7 -.8-1.6 -5.8-.2 5.3-4.0 4.7-4.6 -5.1,1.5 .3,.9 1.2,2.9 -.1,1.0 -5.1,.1 2.0,2.5 4.6-2.5 -3.0,.2 -.3-2.9 -1.1,1.5 4.1,.6 -.3-3.4 5.0,.1 -4.6-5.2 -.6-3.3 1.3,2.1 2.9-.4 2.2-2.1 3.1,0 12.5,2.6 5.6,2.8 2.0-1.9 -5.4,1.4 -5.4,5.0 3.3-1.1 -2.4,6.1 5.8,1.9 .2-.7 .3-.5 -1.3,1.4 2.7-.9 -3.2-1.9 -1.1,2.7 -6.9,1.5 -.4,6.0 1.9,1.8 3.1-2.0 -1.6,3.4 -2.1,2.2 3.5-1.4 -.5-1.3 .5-1.9 5.4-1.4 -7.6-7.1 4.4-4.0 -6.2,2.7 1.1,3.2 3.4-1.5 -3.6-4.3 -.6,.4 6.7-1.3 .8-.2 2.9-1.7 .5,.5 -2.4,.6 -.1,1.8 3.8-1.7 -.4,3.1 -2.3-.8 -.8,.8 4.8,1.4 4.2,1.1 -4.3,3.9 -7.0,1.6 -3.5-.8 1.9-.8 4.6-.1 -3.4-.4 -2.0-2.7 .1-.2 -4.0,.4 -1.0,1.3 -4.2,1.9 -.2,5.7 -2.8,.5 5.3,1.9 2.2,.7 -2.0-3.7 -.9-4.3 1.4-1.3 4.0-.7 3.1-3.4 8.1-.4 -1.1-1.4 -1.6-.1 1.6-4.1 2.3-.9 .7-3.2 -3.7,1.0 6.8,.2 .6,2.2 -1.7,1.0 -2.9,2.2 -.1-.5 .2,3.0 -1.9-2.3 3.0,.6 1.3,1.0 -3.8-1.4 1.0-.9 4.2-1.0 -1.4-1.9 -2.2-1.7 -4.0-.7 -.6,1.5 -5.7-.7 4.4,.1 5.4-.6 3.2-1.1 2.3,2.8 -1.5-.6 -5.8,1.1 -.3-.9 .5,1.0 -3.1,1.1 .1-.4 -2.1,1.9 -2.3,1.3 3.1,.6 2.8-2.7 -6.0-4.6 -5.1,1.6 -1.0-.1 -.8,.6 -1.4-1.6 2.6-.7 -.7,3.6 -2.2,1.3 -.4,5.0 1.0-1.4 2.8,1.0 1.2-1.2 2.9-1.8 2.7,.5 -3.5-1.6 3.1,.4 -.2-3.0 3.8,3.0 -2.6,.6 -2.9-1.1 -1.9,.6 -2.5,.1 4.6-4.0 1.0,1.2 3.9-2.4 .3-.9 3.8-1.3 -1.2-.2 -.9,1.3 1.2,3.6 5.0-.9 .1-.5 4.7-1.5 2.8,.5 4.8,1.9 1.7-2.9 -.3-.8 -5.4,2.5 -4.7,.6 .8-2.2 2.1,4.6 -.4-1.7 .4,.1 6.1-.2 2.8,.2 2.2-2.2 2.4,1.8 -.9-3.8 0,2.4 -2.1-1.7 -.4,3.1 -4.7-.3 -1.5-4.9 -4.5,1.5 -.1,3.0 3.0,1.1 4.1-3.1 -1.4,1.3 -7.5-.5 7.5,3.5 -4.2,.9 0,.9 .2-.7 4.2,1.4 -3.1,.5 2.0,3.4 -4.2,4.5 2.0,2.8 -1.9-1.7 -4.3-1.1 1.5-1.2 -4.7,.7 1.1-.9 .2-3.4 -2.9,5.3 -2.5,.5 -6.9-.1 -4.7-2.4 -2.7-1.8 -3.0-2.2 -3.4-2.9 3.9-3.0 2.4-.3 1.2-1.6 2.8-3.8 -.2-.5 3.0-2.1 -1.7,.8 -.2-1.4 -.3,.4 .8-1.9 -8.0-2.0 4.8,2.4 1.7,1.7 -2.9,3.2 .7-.4 -1.8-1.8 .4-.6 5.4,1.8 1.6-3.1 .7,.1 4.3-.6 6.4,.6 -2.6,1.3 1.5-.2 4.5,1.3 -1.3-1.7 -2.4-.7 -3.0-3.8 2.4-2.5 -3.6,2.2 -1.8,1.4 -1.6-1.8 4.0-.9 -7.2-1.3 5.3-.6 -6.9,1.0 -.3-5.5 2.3,4.0 -5.6,.4 -2.7,2.1 .2,2.5 9.1,.9 -2.7,.8 -4.8-3.1 -.4-5.5 -1.1,.8 -4.0,2.2 -1.6,.5 1.8,2.8 -.9-2.1 -1.2-.4 1.4,2.6 8.6,1.3 1.5,2.3 -4.2-2.9 1.2,1.6 -1.6,7.3 -.3,.1 -4.2-1.5 -1.5,2.2 1.3,3.7 -3.6-6.9 1.7-1.1 -1.3,.7 1.1-.7 3.5,.9 2.2,2.3 -1.3,.3 .4,1.8 6.6-1.5 6.1,5.8 -1.0-2.6 .3-1.9 4.1,1.8 3.2,1.1 1.3,2.9 2.9,.4 3.3-.5 4.9,1.3 -.1-.7 -1.3-3.5 -1.1,2.7 .5-.8 -5.2,2.3 -2.5,.4 -2.9,.4 1.2,2.7 -5.1-1.7 -3.0,2.5 2.0-.5 -1.6,4.6 1.4-1.3 .7,.7 -.4-.9 -4.6-4.2 -6.2,3.1 -1.1-3.1 0,2.4 -1.3-.5 -2.1-4.4 -2.2-.6 7.5,3.9 5.8-.6 7.2-2.7 -1.3,3.3 2.1-1.3 .3,.2 -3.2-2.1 1.1,.4 -1.9,1.0 -4.7-1.9 .1,2.4 -1.0,.7 .6-1.2 3.3-3.5 -1.6-2.2 -2.6-2.0 -15.2,7.5 4.6-2.5 -2.0-.5 -1.6-.2 -4.8,4.1 1.1,2.4 .2,3.5 3.5,.2 5.9-1.8 7.7,1.2 -4.0-.4 2.8,.3 -2.1,.6 0,2.6 3.8-2.9 -3.6,1.1 -3.2-2.2 -4.8-2.6 2.6,3.0 -.9,0 -.9,1.6 -.2-1.8 -1.9-.2 -1.8-.1 1.9-.3 -7.3,2.0 5.0-.5 1.9-1.0 -7.2,3.3 -1.4,3.7 1.1-4.6 7.0,2.9 -5.4-.1 .5,0 -.2-3.3 1.4-2.3 -1.2-.4 1.0,.6 -1.0,1.5 -1.2-2.7 -1.2-2.1 3.8,.9 .9-.6 -1.5-1.7 -.6,.3 0-3.4 -3.4-4.6 -3.5-2.9 3.1-.5 0-.7 2.2,.5 -1.2-2.5 1.0,9.1 2.4,2.2 9.1,3.5 1.2,.7 .5,.4 2.9,0 -.8-4.5 3.6-3.1 -1.2-.6 5.5,2.4 -6.1,.8 2.5,2.6 -1.7-2.4 -5.0,4.5 -6.8-4.7 .5-.8 6.5,.8 -.6-3.2 1.0-.4 -.2-1.9 -.9,1.1 2.4-.3 -2.0,.4 8.4-1.5 -1.8-1.1 -1.9-.8 -3.1-2.6 -4.4-2.2 4.5-3.6 .2,1.3 -5.9-1.7 -.2,2.3 -.1,1.9 .7-1.8 1.5-.1 2.0,1.7 -2.6,2.5 -2.7-3.4 -3.0-2.5 2.8,2.5 2.4-.7 -2.1-.4 3.9,2.8 -1.1,.4 2.6,.5 -4.9-.4 5.6,3.5 3.4,4.9 -5.3-.6 -2.8-2.9 1.2-2.1 .8-.2 -7.9-.9 .9-3.2 2.0-5.5 -2.6-.2 7.2-.2 2.1-.5 -7.4,1.3 -4.1,3.8 -.6-2.7 -1.7-3.1 2.9-.8 -1.2-1.9 .7-.2 3.4,4.8 2.3,0 4.0,1.4 1.0,.1 5.5,2.6 2.8,3.4 1.5-.5 -1.2,6.0 3.9-.9 1.0-.7 -.7-.9 -2.9,2.9 2.7-3.2 -2.9,.3 .4-.3 2.8,4.5 .6-1.1 -.1-2.7 -3.4-.5 -2.7-2.7 -1.5-.3 -4.9-1.6 .3-3.3 3.5,1.6 2.3-5.9 -3.7,5.2 -6.1,2.4 -1.0,2.8 -2.1-5.9 -1.4,1.4 -3.0,3.0 -1.2-2.7 2.6-.7 -3.9,3.7 -.4,4.2 -4.8-2.1 6.0,.6 2.7,3.3 4.7,2.0 -7.7,.4 -.7,5.3 -3.1,1.1 2.9-.9 -1.7,0 -2.3,.2 -1.2-.8 6.3,4.1 .8-1.7 -1.0-2.3 5.5-4.6 4.4-1.6 0-1.8 -2.7-3.4 -2.0,.3 -4.9,1.0 -2.2-.2 4.1-1.4 -3.1,2.8 -6.9-5.0 -4.5,1.3 6.8,2.1 4.1-1.9 .3,2.5 3.1,2.1 .6-.6 2.8-1.8 2.8,2.3 -6.0,1.7 -2.2-1.9 -.8-1.6 1.8-2.7 -7.1,6.2 2.2,2.2 2.6-.4 1.4,2.6 -13.8-3.9 2.8,6.5 2.1-5.1 .5,2.0 -.2-.1 5.3,1.3 -1.0,1.0 4.5-.2 5.8-5.2 1.0-.8 -.9-5.5 -.6,4.6 3.6,2.8 -.8,1.8 -3.7-.8 -2.5-.2 -1.2,1.6 -.3-2.3 6.0,.4 5.5,1.1 -4.5-1.6 -1.9,6.9 -.6,2.8 1.3-2.9 -2.3,.1 -6.4,.8 -2.0-4.0 5.5-1.4 4.8,2.6 .1,.4 2.0-1.3 1.2,1.4 4.6,.2 0-1.6 -.6,1.0 -.4-1.5 4.2,.1 5.9-8.2 -.5-.2 3.0,4.3 0,1.5 -1.7-2.4 16.2,.4 5.1-5.1 2.2,2.1 .9,.2 -3.5-1.0 -.7-.4 1.3-3.6 3.9,1.0 -1.0,2.0 1.7-3.1 -5.9-4.8 -1.3,.8 -.8-1.6 .4,1.7 -3.2,.7 -2.1-2.4 8.1-1.1 -3.2,1.7 -3.5,.8 4.2-3.4 4.6,3.9 -5.0-1.1 .2,1.0 1.3-2.1 -4.8-2.7 .3,6.8 -.6,3.8 .5,2.6 .7-.7 -1.2-1.2 -1.1,1.5 2.5-1.9 -5.2-1.3 1.8-2.5 -.9-3.4 -7.3-1.5 -3.0-1.7 -3.1,3.5 1.7,5.0 1.9-1.0 -2.9-.8 -.6,3.1 5.6,2.7 2.4-6.8 .9,1.4 7.8-.2 -2.0,3.1 -3.4,1.8 1.9,.5 -4.6,3.1 -3.4,4.8 5.6,1.5 -2.9,1.1 -3.2-3.1 4.4,.2 .5,.1 -1.8,2.8 .2-3.6 -2.6-1.4 -4.0-.5 3.4-1.3 .6-2.7 -6.7,1.5 -4.7-1.5 -1.3,.1 -2.7,.4 -2.1-2.0 -1.8,1.0 -7.3,11.6 1.4,4.9 4.5,2.8 -6.0,2.7 -1.6,2.3 3.7-2.2 -3.3-1.8 -2.1-.3 .9,2.4 -5.9-1.5 3.8,1.7 -.5,.7 4.5,.2 -1.0-.7 2.1-4.0 2.0,4.1 -.2-.3 -.2-3.5 -1.7-1.4 -3.6-1.3 -.4,1.1 2.8-1.6 -5.8-2.2 -3.2,2.8 -.8,1.6 -3.0-1.5 -1.0-5.7 1.5,.3 1.0-.9 -4.8,3.3 -4.9-2.4 7.2,.5 5.3,1.0 -1.9-.6 3.1-1.8 -1.9,2.7 .1-4.4 3.3-.4 1.8,2.3 2.2-4.6 5.9,.1 -.9-.2 4.5-.8 .1,5.1 3.7-1.1 4.2-.5 -2.4-1.8 -5.1,2.7 8.0-2.3 .4,2.6 1.0-1.8 -2.8-1.7 -4.1,3.8 -6.6-2.9 .9,2.4 2.1-.9 4.5,.5 0-1.2 1.0-.3 -.3-.7 -1.8,2.6 4.5-3.0 .3,1.7 1.9,2.0 -.5-.4 -.1,.3 -4.3-2.3 2.8-6.2 6.6,1.6 -.5,2.0 -1.0-1.9 -.2,1.9 -1.8,3.3 1.2-1.7 -1.0-1.7 4.0,4.3 -.8,3.2 5.5-3.4 -2.3,2.5 2.6-1.1 -3.5-.8 -7.6-3.2 -.8,.4 -5.1,.6 2.9-1.5 -3.0,.5 1.5-2.3 -2.8-.4 .2,1.4 .2,1.6 3.6,.9 1.1,5.5 -5.6,.3 -7.1-2.5 -2.1,0 2.6,1.5 -.9-.4 3.9,.8 -1.0,3.0 -.4-3.0 -.1,1.1 0,.4 0-1.7 1.8,1.4 -2.1,.6 -1.3,.4 .7,3.6 -2.9,.1 3.9-3.8 -.1-4.2 -6.4-2.3 -1.8,1.7 3.4,1.1 1.2-4.6 -1.0-1.5 -2.3,4.0 4.1,1.6 .1,4.3 1.7-.5 1.2-2.2 2.7-.2 -3.3-4.6 -.5,5.7 3.5,1.6 .5,1.0 -2.7-2.9 4.7,.3 .1-1.7 0,1.1 -5.2,.2 -3.1-1.0 3.7,1.1 1.8,2.0 6.1,.5 -2.6-.8 2.1,.4 2.6,3.0 -1.5,1.0 2.0-.1 5.4,2.0 -2.2-.6 -.3-3.9 -.8,2.3 3.1,1.3 1.8,1.4 3.1-.3 -1.5-1.5 1.9-3.3 -.5-3.0 -2.7-3.2 2.7-1.8 2.9-1.3 -.5,.4 1.7-1.6 -5.8,2.6 5.8-7.1 .8-6.9 -.6,3.8 .3,.1 -1.6,2.4 -4.7,2.8 -1.0,2.7 1.7,1.8 -1.9-2.4 2.3,.9 2.5-.1 .7,1.1 -3.1-1.8 -1.6-.2 1.1,4.3 5.3,2.3 -.1-.4 -1.9-1.3 1.0-3.4 -1.1-.1 -.8,2.5 -.7,.1 2.4,2.9 .4,4.5 5.2,1.6 -4.7,1.1 -2.3-4.5 .2-.3 .7,0 -.9-6.3 1.3,.1 -4.5-6.8 1.3-3.5 2.0-2.4 6.7,3.8 .8-1.8 -1.3-1.9 6.0,.7 -1.7,4.0 -2.2,.8 -1.3-2.4 -.2-1.4 -1.0,2.6 -.9,4.8 -.4-3.0 -.5-3.7 5.5,2.1 2.5-3.3 -4.6-1.5 1.5,2.9 8.3-.8 1.1-1.4 .8-1.6 3.4-2.0 -.3-1.8 -2.1,1.4 2.1-.2 -8.5-4.4 -.1-.7 -12.8-8.5 1.8-3.4 -3.1,2.5 6.0,8.3 -3.4-.3 1.7,.6 1.0-.4 -6.3,1.3 -2.8-.9 -1.2-3.8 2.9-1.2 4.1,.5 -7.0-1.5 1.6-2.0 1.8,.7 1.3-3.9 -3.2,.6 .3,5.9 1.6-.3 1.8,2.5 1.6,4.3 -7.3,2.5 -1.0-.5 -1.8-2.3 1.4-.9 .7-.3 -.4-1.8 -4.0,2.9 -.9-3.7 -4.1,4.3 1.5-3.5 -.6-2.5 -1.4,1.2 -.5,2.6 1.1,3.4 .3-.3 2.0,0 .4,.2 0,4.1 -3.3,1.9 1.0,.2 2.0,3.4 -11.3,4.6 -.3,.8 -5.3-.4 -2.4-1.9 0-1.2 .8,.3 -4.1-.9 .5,2.7 2.4,.2 1.3-1.2 -2.4-.2 6.0,1.3 2.6-1.2 2.5,6.6 -.2-.6 2.3-2.5 .9,2.0 -4.8,2.3 3.4-2.5 .7,.7 -.1,2.0 -.6-1.4 -3.5-3.3 -.5-1.2 1.0-.9 -1.6-.1 -1.7-.9 -4.3-.9 1.1,.6 2.3-.3 .2,.9 4.7-2.5 1.6-2.5 1.7-1.3 2.2-.5 -2.4,.8 -4.3-2.2 -1.1-.5 2.0,2.4 -16.8-.8 .2,.9 -4.1-5.5 -1.1,1.4 0,3.4 .6-2.2 1.9,1.7 -3.7,.8 3.6,5.0 -2.6-1.2 3.7-2.4 2.5-1.8 -1.9,.2 1.2-2.4 -6.2-.6 5.3,1.5 -2.2,.4 7.3-5.9 -7.2,2.8 5.4-.8 1.0,3.1 -8.7-1.4 3.4,1.6 1.9,.7 6.3,.8 -11.0-3.3 0-.7 -2.9,.4 -2.0-1.3 2.1,.6 -.6,2.2 -3.8-.6 1.7,.3 -3.7,3.8 .9,1.4 3.5,2.1 .2,1.7 -1.6-3.2 5.0,2.9 1.3,1.0 -5.2-1.3 3.0,.4 1.5-5.8 3.2,2.2 1.7,4.8 .8-2.8 -.5,1.9 -.1,.6 3.8-2.6 -.7,2.0 -1.4,1.8 -1.1,.2 2.3,.2 -1.0-1.0 1.6-1.9 1.4,2.4 6.3,0 -.7-2.3 1.7,.8 -.8-1.9 1.7,2.2 .1,1.3 4.0,.8 -1.2-.3 -3.2-1.9 -3.9,.1 .9,0 -7.1-2.9 -.8,.3 -1.1-.3 5.8-1.0 4.0,1.3 -2.7,1.4 -.2,3.5 -3.5-1.4 3.4,1.1 2.2-1.5 -.9,5.6 -5.2,0 -1.1-.4 .2-2.6 -4.1-1.4 .4,.4 -1.5-2.4 -3.2,.7 -2.7-1.2 -2.6-1.5 -.2-1.9 -1.1,.9 .1-3.0 -.6,3.1 -.7,1.2 -1.2-.2 1.0-6.0 5.0,2.4 -.6,1.3 .4-.1 3.5,1.2 -2.3,1.7 -6.2-4.0 -1.2,.2 5.4-4.1 -2.3-2.7 .7-2.5 4.7,3.0 4.2,.4 2.7,4.7 -6.0-2.4 2.4-.1 -3.0-1.2 .8,.7 4.0-1.4 -4.7,.4 -4.6,4.0 2.3,2.4 .2,2.5 -4.0-2.0 4.1,.4 -.7-2.7 9.2,1.1 4.2-2.2 -4.0,1.4 -.7-1.2 -2.0,3.1 4.5-1.8 -.9-.3 -5.8,1.9 .7,.4 2.7,.3 1.1,2.3 .8,1.2 -.9-4.2 3.6-.7 3.2,.6 1.9,1.8 -2.2,4.0 -2.0,.4 -3.9,2.9 6.7,1.3 4.2,2.6 1.0-1.5 -4.0-.7 2.2-5.3 1.1-.8 -2.6-1.0 1.3,1.8 .2,2.7 3.3,.8 -5.6-14.9 0,4.9 3.0-1.9 -6.4,2.3 3.1,.5 4.3,1.4 9.7-.5 -.9-1.3 2.2-2.3 5.5-2.7 -.3,1.5 0,.7 6.4,1.1 16.7-.3 -.3,1.4 -2.3,0 4.4,1.2 -1.4,2.6 -.2-1.0 -.5,.2 -.7,.3 -2.6-.2 2.9,.6 -.7,4.4 -3.4-.2 -1.6-3.8 -4.5-1.2 2.7-1.8 -3.2-4.0 -1.1-1.9 -.4-.7 1.8,.6 3.7-1.1 -1.7-2.6 4.2-2.2 -5.5,3.1" fill="none" stroke="#6aa6d6" stroke-width="0.5" stroke-opacity="0.75" stroke-linejoin="round"/>
<path d="M361.1,308.6l.2-.6 -1.7,3.7 5.3,2.6 -6.2,7.1 11.1-2.8 -1.7,4.0 2.6-6.5 2.5-.9 2.9-3.7 -1.4,8.7 2.6-2.2 2.6-7.7 -7.7-.7 2.7,3.1 1.8-1.3 7.3-1.4 4.1-.6 .8-1.6 -3.4,7.0 -13.2,.9 4.9-3.6 -7.8-3.8 1.1,6.6 6.5-4.7 -3.3,7.0 -10.2-.6 -10.2-1.1 9.5,2.5 -.2-1.2 -4.0-3.6 .2-3.0 -13.1,2.4 8.2-.9 -5.5,4.5 -2.2-2.4 -.9-6.0 6.9,6.0 -2.9,5.2 -7.1-.9 10.5-2.2 -1.8,4.2 2.1-4.2 -1.8-14.0 .3,0 .5,1.8 1.1,1.1 -9.1,.1 2.8,5.7 -1.7-1.9 2.7-2.2 -15.4-2.7 -2.6,5.3 -7.5,2.6 .1,.8 -3.8,3.6 -5.1-1.2 0-4.0 6.6-3.6 3.6-2.1 5.3,4.4 -8.5,3.7 7.3-3.2 3.3-4.2 -4.0-3.4 -2.9,2.2 4.4,6.3 6.4,3.4 -2.5-3.3 4.8,.7 11.2,3.0 3.2-.6 2.5-1.3 2.0,.2 5.3,4.5 -.1,.3 -9.2,3.7 11.8,6.3 2.0,10.0 2.5-2.6 -1.8-1.7 -5.1,.5 3.4-.3 .9-4.2 7.4-8.1 4.2-2.9 5.5-5.3 2.5-2.7 4.2-2.6 1.9-2.4 -3.1-8.5 8.8-9.7 -6.6,.4 3.3,1.9 -9.0,.1 -8.2,3.4 -.5-6.2 -.5,10.5 -1.9,.6 -8.9,4.3 -2.5,.1 6.1,.9 1.2,15.2 -7.4,1.5 7.9,4.6 -5.2,1.6 6.2-.2 -4.8-.2 -1.7-2.7 7.2,.5 -6.4-8.2 -1.0,2.9 7.9,5.7 .6-3.7 -3.3-3.5 1.3,3.1 7.4,1.0 -8.8-7.9 8.8-5.4 -1.8-1.8 -.9,4.1 -.2-4.9 11.7-3.3 6.7-4.9 5.2,2.3 -9.7-3.7 -.6,1.1 -5.3-7.0 -1.9,5.0 .2,3.7 5.4,2.5 5.3-3.4 2.2,7.3 -1.3,9.2 -3.5,6.9 .1-3.2 -3.1-3.5 .6,.1 -.4-4.7 1.0-1.9 1.5,.8 4.2,4.5 -.8-4.2 2.3,3.7 -1.3-2.6 -7.7,.8 -6.3,1.5 3.4-1.7 9.5,.9 -4.8-1.1 -1.5-4.1 -13.7-2.8 2.3-5.6 16.0,4.2 -18.2-2.7 1.3,2.9 .4,4.1 15.7-.6 8.9,2.9 -4.9,1.5 -8.0-.6 -2.4-2.4 2.2,1.5 -1.0-2.2 0-.7 14.0,6.7 -9.8-.8 8.3,.6 -1.0,4.9 2.3-5.3 -5.2,1.3 6.9,2.7 -9.5-3.3 -2.1-2.9 5.2-.7 -2.3,.1 -11.1-1.3 -.2,3.0 .6-2.1 12.0,3.8 -3.6,1.6 2.2-3.5 -3.3-5.2 4.5-2.5 -5.4-2.5 -18.0-4.8 2.5-6.3 -6.6-2.3 -4.4,4.6 -1.9-.9 12.0,3.2 6.2,7.0 11.1,.3 -4.0,1.2 -.4,4.7 -2.5,2.6 12.5-5.4 -5.1,4.4 2.7-5.1 0,4.7 6.5,6.1 5.4-6.9 -8.0-6.5 -1.1,4.7 -8.7,.2 .2-3.8 -8.0,5.8 -8.0,3.1 1.1,1.0 -1.0-8.6 -8.2,1.9 -1.0-.5 -2.4,3.2 -8.4,1.6 -7.1-3.8 9.4,8.9 18.5-9.7 12.5,7.0 6.4-.4 -4.9,.2 2.5-.3 4.7,1.8 -2.8,0 .1,1.1 -1.2-2.6 3.0,2.3 11.6-4.7 .6,1.6 4.8,.2 -9.1,.9 4.7,0 3.4,6.9 3.5,.7 -7.9,4.5 -2.5-.4 -.4,5.6 -6.0-1.6 -3.1,3.7 3.3-.5 -7.3,.2 -4.4-3.1 5.9-.8 7.6,.4 -11.1-7.7 -15.2-.5 -5.8,1.3 -.6-6.4 9.0-2.3 0-3.0 -12.3-1.1 7.5,1.7 3.6-6.5 5.4,1.2 -1.1,0 9.3,7.3 -4.7-2.8 2.4-7.8 11.1-4.0 -5.4,3.1 -2.8-5.0 -.6-1.3" fill="none" stroke="#6aa6d6" stroke-width="0.5" stroke-opacity="0.75" stroke-linejoin="round"/>
<rect x="340.45" y="252" width="4.8" height="52.5" fill="#2a9c0e"/>
<rect x="340.45" y="327" width="4.8" height="20.8" fill="#2a9c0e" fill-opacity="0.75"/>
<g transform="translate(475,222.75)"><text x="0" y="0" font-family="'Liberation Sans', sans-serif" font-size="14.5" font-weight="bold">f</text></g>
<line x1="503.2" y1="233.8" x2="503.2" y2="382.8" stroke="#999" stroke-width="1.5" />
<line x1="502.6" y1="382.2" x2="673.6" y2="382.2" stroke="#999" stroke-width="1.5" />
<line x1="503.2" y1="372.65" x2="504.8" y2="372.65" stroke="#6a6a6a" stroke-width="0.6" />
<line x1="503.2" y1="364.72" x2="504.8" y2="364.72" stroke="#6a6a6a" stroke-width="0.6" />
<line x1="503.2" y1="358.25" x2="504.8" y2="358.25" stroke="#6a6a6a" stroke-width="0.6" />
<line x1="503.2" y1="352.77" x2="504.8" y2="352.77" stroke="#6a6a6a" stroke-width="0.6" />
<line x1="503.2" y1="348.03" x2="504.8" y2="348.03" stroke="#6a6a6a" stroke-width="0.6" />
<line x1="503.2" y1="343.84" x2="504.8" y2="343.84" stroke="#6a6a6a" stroke-width="0.6" />
<line x1="503.2" y1="340.1" x2="506.2" y2="340.1" stroke="#6a6a6a" stroke-width="0.8" />
<line x1="503.2" y1="315.48" x2="504.8" y2="315.48" stroke="#6a6a6a" stroke-width="0.6" />
<line x1="503.2" y1="301.07" x2="504.8" y2="301.07" stroke="#6a6a6a" stroke-width="0.6" />
<line x1="503.2" y1="290.85" x2="504.8" y2="290.85" stroke="#6a6a6a" stroke-width="0.6" />
<line x1="503.2" y1="282.92" x2="504.8" y2="282.92" stroke="#6a6a6a" stroke-width="0.6" />
<line x1="503.2" y1="276.45" x2="504.8" y2="276.45" stroke="#6a6a6a" stroke-width="0.6" />
<line x1="503.2" y1="270.97" x2="504.8" y2="270.97" stroke="#6a6a6a" stroke-width="0.6" />
<line x1="503.2" y1="266.23" x2="504.8" y2="266.23" stroke="#6a6a6a" stroke-width="0.6" />
<line x1="503.2" y1="262.04" x2="504.8" y2="262.04" stroke="#6a6a6a" stroke-width="0.6" />
<line x1="503.2" y1="258.3" x2="506.2" y2="258.3" stroke="#6a6a6a" stroke-width="0.8" />
<line x1="536.96" y1="382.2" x2="536.96" y2="379.4" stroke="#6a6a6a" stroke-width="0.8" />
<line x1="571.12" y1="382.2" x2="571.12" y2="379.4" stroke="#6a6a6a" stroke-width="0.8" />
<line x1="605.28" y1="382.2" x2="605.28" y2="379.4" stroke="#6a6a6a" stroke-width="0.8" />
<line x1="639.44" y1="382.2" x2="639.44" y2="379.4" stroke="#6a6a6a" stroke-width="0.8" />
<line x1="673.6" y1="382.2" x2="673.6" y2="379.4" stroke="#6a6a6a" stroke-width="0.8" />
<g transform="translate(485.3,262.75)"><text x="0" y="0" font-family="'Liberation Sans', sans-serif" font-size="13.5">10</text></g>
<g transform="translate(492.68,345.02)"><text x="0" y="0" font-family="'Liberation Sans', sans-serif" font-size="13.5">1</text></g>
<g transform="translate(500.25,395.75)"><text x="0" y="0" font-family="'Liberation Sans', sans-serif" font-size="13.5">0</text></g>
<g transform="translate(568.25,395.75)"><text x="0" y="0" font-family="'Liberation Sans', sans-serif" font-size="13.5">2</text></g>
<g transform="translate(636.38,395.62)"><text x="0" y="0" font-family="'Liberation Sans', sans-serif" font-size="13.5">4</text></g>
<g transform="translate(558.33,412.87) scale(1.0220,0.9086)"><text x="0" y="0" font-family="'Liberation Serif', serif" font-size="19.5">Δ<tspan font-style="italic">ϕ</tspan>/(2<tspan font-style="italic">π</tspan>)</text></g>
<g transform="translate(515.79,233.93) scale(1.0846,1.0857)"><text x="0" y="0" font-family="'Liberation Serif', serif" font-size="17.5"><tspan font-style="italic">ϑ</tspan>(Δ<tspan font-style="italic">ϕ</tspan>)</text></g>
<g transform="translate(569.42,238.74) scale(1.1593,1.0222)"><text x="0" y="0" font-family="'Liberation Serif', serif" font-size="11.5"><tspan font-style="italic">t</tspan>,<tspan font-weight="bold">r</tspan><tspan font-size="8.5" dy="2.5">0</tspan></text></g>
<path d="M514.9,220.9L509.6,229.5L514.9,238M563.5,220.9L569.4,229.5L563.5,238" fill="none" stroke="#000" stroke-width="0.95" stroke-linejoin="miter"/>
<polyline points="503.3,340.1 672.7,357.5" fill="none" stroke="#eaa312" stroke-width="2.6" stroke-linejoin="round" stroke-linecap="round" />
<polyline points="502.9,338.6 506,312.2 509.6,301.5 513.2,300.3 515.6,303.9 518,321.8 520.3,341.4 522.7,321.8 525.1,307.4 528.2,300.3 530.6,305 537.1,341.5 541,317.4 543.4,309.1 545.8,306.7 548.2,310.3 550.6,319.8 554.6,345 557.7,319.8 560.1,312.7 563.2,309.1 566.1,317.4 571.3,344.7 574.3,331 577.5,318.1 580.3,313.8 582.5,317 585.1,328.8 588.3,348.2 591.5,326.7 594.8,315.5 597.6,318.1 600.1,328.8 605.5,349 609.5,331.4 612.2,323.3 614.4,319.7 616.7,322 619.4,333.2 622.6,351.2 625.7,333.2 627.5,326.9 630.2,325.6 632.9,328.7 636,338.6 639.8,354.4 642.9,335.9 644.8,334.5 646.5,332.3 648.2,330.2 650.5,333 652.5,335.2 654.4,343.8 656.6,357 658.7,348.1 660.6,339.5 662.3,333 663.8,333.8 665.5,331.6 667.3,335.9 669.5,341.7 672.1,351" fill="none" stroke="#f08a8f" stroke-width="1.4" stroke-linejoin="round" stroke-linecap="round" />
<path d="M502.9,337.4L503.94,339.2L501.86,339.2Z" fill="#f08a8f"/>
<path d="M506,311L507.04,312.8L504.96,312.8Z" fill="#f08a8f"/>
<path d="M509.6,300.3L510.64,302.1L508.56,302.1Z" fill="#f08a8f"/>
<path d="M513.2,299.1L514.24,300.9L512.16,300.9Z" fill="#f08a8f"/>
<path d="M515.6,302.7L516.64,304.5L514.56,304.5Z" fill="#f08a8f"/>
<path d="M518,320.6L519.04,322.4L516.96,322.4Z" fill="#f08a8f"/>
<path d="M520.3,340.2L521.34,342L519.26,342Z" fill="#f08a8f"/>
<path d="M522.7,320.6L523.74,322.4L521.66,322.4Z" fill="#f08a8f"/>
<path d="M525.1,306.2L526.14,308L524.06,308Z" fill="#f08a8f"/>
<path d="M528.2,299.1L529.24,300.9L527.16,300.9Z" fill="#f08a8f"/>
<path d="M530.6,303.8L531.64,305.6L529.56,305.6Z" fill="#f08a8f"/>
<path d="M537.1,340.3L538.14,342.1L536.06,342.1Z" fill="#f08a8f"/>
<path d="M541,316.2L542.04,318L539.96,318Z" fill="#f08a8f"/>
<path d="M543.4,307.9L544.44,309.7L542.36,309.7Z" fill="#f08a8f"/>
<path d="M545.8,305.5L546.84,307.3L544.76,307.3Z" fill="#f08a8f"/>
<path d="M548.2,309.1L549.24,310.9L547.16,310.9Z" fill="#f08a8f"/>
<path d="M550.6,318.6L551.64,320.4L549.56,320.4Z" fill="#f08a8f"/>
<path d="M554.6,343.8L555.64,345.6L553.56,345.6Z" fill="#f08a8f"/>
<path d="M557.7,318.6L558.74,320.4L556.66,320.4Z" fill="#f08a8f"/>
<path d="M560.1,311.5L561.14,313.3L559.06,313.3Z" fill="#f08a8f"/>
<path d="M563.2,307.9L564.24,309.7L562.16,309.7Z" fill="#f08a8f"/>
<path d="M566.1,316.2L567.14,318L565.06,318Z" fill="#f08a8f"/>
<path d="M571.3,343.5L572.34,345.3L570.26,345.3Z" fill="#f08a8f"/>
<path d="M574.3,329.8L575.34,331.6L573.26,331.6Z" fill="#f08a8f"/>
<path d="M577.5,316.9L578.54,318.7L576.46,318.7Z" fill="#f08a8f"/>
<path d="M580.3,312.6L581.34,314.4L579.26,314.4Z" fill="#f08a8f"/>
<path d="M582.5,315.8L583.54,317.6L581.46,317.6Z" fill="#f08a8f"/>
<path d="M585.1,327.6L586.14,329.4L584.06,329.4Z" fill="#f08a8f"/>
<path d="M588.3,347L589.34,348.8L587.26,348.8Z" fill="#f08a8f"/>
<path d="M591.5,325.5L592.54,327.3L590.46,327.3Z" fill="#f08a8f"/>
<path d="M594.8,314.3L595.84,316.1L593.76,316.1Z" fill="#f08a8f"/>
<path d="M597.6,316.9L598.64,318.7L596.56,318.7Z" fill="#f08a8f"/>
<path d="M600.1,327.6L601.14,329.4L599.06,329.4Z" fill="#f08a8f"/>
<path d="M605.5,347.8L606.54,349.6L604.46,349.6Z" fill="#f08a8f"/>
<path d="M609.5,330.2L610.54,332L608.46,332Z" fill="#f08a8f"/>
<path d="M612.2,322.1L613.24,323.9L611.16,323.9Z" fill="#f08a8f"/>
<path d="M614.4,318.5L615.44,320.3L613.36,320.3Z" fill="#f08a8f"/>
<path d="M616.7,320.8L617.74,322.6L615.66,322.6Z" fill="#f08a8f"/>
<path d="M619.4,332L620.44,333.8L618.36,333.8Z" fill="#f08a8f"/>
<path d="M622.6,350L623.64,351.8L621.56,351.8Z" fill="#f08a8f"/>
<path d="M625.7,332L626.74,333.8L624.66,333.8Z" fill="#f08a8f"/>
<path d="M627.5,325.7L628.54,327.5L626.46,327.5Z" fill="#f08a8f"/>
<path d="M630.2,324.4L631.24,326.2L629.16,326.2Z" fill="#f08a8f"/>
<path d="M632.9,327.5L633.94,329.3L631.86,329.3Z" fill="#f08a8f"/>
<path d="M636,337.4L637.04,339.2L634.96,339.2Z" fill="#f08a8f"/>
<path d="M639.8,353.2L640.84,355L638.76,355Z" fill="#f08a8f"/>
<path d="M642.9,334.7L643.94,336.5L641.86,336.5Z" fill="#f08a8f"/>
<path d="M644.8,333.3L645.84,335.1L643.76,335.1Z" fill="#f08a8f"/>
<path d="M646.5,331.1L647.54,332.9L645.46,332.9Z" fill="#f08a8f"/>
<path d="M648.2,329L649.24,330.8L647.16,330.8Z" fill="#f08a8f"/>
<path d="M650.5,331.8L651.54,333.6L649.46,333.6Z" fill="#f08a8f"/>
<path d="M652.5,334L653.54,335.8L651.46,335.8Z" fill="#f08a8f"/>
<path d="M654.4,342.6L655.44,344.4L653.36,344.4Z" fill="#f08a8f"/>
<path d="M656.6,355.8L657.64,357.6L655.56,357.6Z" fill="#f08a8f"/>
<path d="M658.7,346.9L659.74,348.7L657.66,348.7Z" fill="#f08a8f"/>
<path d="M660.6,338.3L661.64,340.1L659.56,340.1Z" fill="#f08a8f"/>
<path d="M662.3,331.8L663.34,333.6L661.26,333.6Z" fill="#f08a8f"/>
<path d="M663.8,332.6L664.84,334.4L662.76,334.4Z" fill="#f08a8f"/>
<path d="M665.5,330.4L666.54,332.2L664.46,332.2Z" fill="#f08a8f"/>
<path d="M667.3,334.7L668.34,336.5L666.26,336.5Z" fill="#f08a8f"/>
<path d="M669.5,340.5L670.54,342.3L668.46,342.3Z" fill="#f08a8f"/>
<path d="M672.1,349.8L673.14,351.6L671.06,351.6Z" fill="#f08a8f"/>
<polyline points="502.9,338.6 506,309.8 509.6,293.1 512.4,269.1 516.3,258.4 518.7,260.8 522.7,261.5 525.1,266.8 527.5,281.1 530.6,302.7 533.5,321.8 537.1,340.5 541,315 543.4,298.3 545.8,286.3 548.2,278 550.6,274.4 553.7,273.6 556.5,276.8 558.9,281.5 561.3,293.5 563.7,310.3 567.3,329.4 571.3,344.5 574.3,327.8 577.5,307.3 580.3,295.5 583.4,287.9 586.1,290.1 589.4,294 591.5,294.8 593.7,296.5 595.8,300.8 598,310.5 600.1,322.4 602.3,333.1 605.5,348.6 608.6,338.6 611.3,326 613.6,313.4 616.2,307.1 618,308 620.3,311.2 623,315.2 625.7,315.6 628,319.7 630.2,322.4 632.4,327.8 634.7,336.8 639.8,354.2 642.9,345.3 645.1,335.9 646.5,330.9 648.2,325.1 650.1,325.8 652.3,326.3 653.7,335.2 655.8,340.9 658,346.7 660.2,346.7 662.3,347 663.8,342.7 665.9,342.7 667.8,343.5 669.5,351 672.7,357.5" fill="none" stroke="#6aa6d6" stroke-width="1.6" stroke-linejoin="round" stroke-linecap="round" />
<circle cx="502.9" cy="338.6" r="0.9" fill="#6aa6d6"/>
<circle cx="506" cy="309.8" r="0.9" fill="#6aa6d6"/>
<circle cx="509.6" cy="293.1" r="0.9" fill="#6aa6d6"/>
<circle cx="512.4" cy="269.1" r="0.9" fill="#6aa6d6"/>
<circle cx="516.3" cy="258.4" r="0.9" fill="#6aa6d6"/>
<circle cx="518.7" cy="260.8" r="0.9" fill="#6aa6d6"/>
<circle cx="522.7" cy="261.5" r="0.9" fill="#6aa6d6"/>
<circle cx="525.1" cy="266.8" r="0.9" fill="#6aa6d6"/>
<circle cx="527.5" cy="281.1" r="0.9" fill="#6aa6d6"/>
<circle cx="530.6" cy="302.7" r="0.9" fill="#6aa6d6"/>
<circle cx="533.5" cy="321.8" r="0.9" fill="#6aa6d6"/>
<circle cx="537.1" cy="340.5" r="0.9" fill="#6aa6d6"/>
<circle cx="541" cy="315" r="0.9" fill="#6aa6d6"/>
<circle cx="543.4" cy="298.3" r="0.9" fill="#6aa6d6"/>
<circle cx="545.8" cy="286.3" r="0.9" fill="#6aa6d6"/>
<circle cx="548.2" cy="278" r="0.9" fill="#6aa6d6"/>
<circle cx="550.6" cy="274.4" r="0.9" fill="#6aa6d6"/>
<circle cx="553.7" cy="273.6" r="0.9" fill="#6aa6d6"/>
<circle cx="556.5" cy="276.8" r="0.9" fill="#6aa6d6"/>
<circle cx="558.9" cy="281.5" r="0.9" fill="#6aa6d6"/>
<circle cx="561.3" cy="293.5" r="0.9" fill="#6aa6d6"/>
<circle cx="563.7" cy="310.3" r="0.9" fill="#6aa6d6"/>
<circle cx="567.3" cy="329.4" r="0.9" fill="#6aa6d6"/>
<circle cx="571.3" cy="344.5" r="0.9" fill="#6aa6d6"/>
<circle cx="574.3" cy="327.8" r="0.9" fill="#6aa6d6"/>
<circle cx="577.5" cy="307.3" r="0.9" fill="#6aa6d6"/>
<circle cx="580.3" cy="295.5" r="0.9" fill="#6aa6d6"/>
<circle cx="583.4" cy="287.9" r="0.9" fill="#6aa6d6"/>
<circle cx="586.1" cy="290.1" r="0.9" fill="#6aa6d6"/>
<circle cx="589.4" cy="294" r="0.9" fill="#6aa6d6"/>
<circle cx="591.5" cy="294.8" r="0.9" fill="#6aa6d6"/>
<circle cx="593.7" cy="296.5" r="0.9" fill="#6aa6d6"/>
<circle cx="595.8" cy="300.8" r="0.9" fill="#6aa6d6"/>
<circle cx="598" cy="310.5" r="0.9" fill="#6aa6d6"/>
<circle cx="600.1" cy="322.4" r="0.9" fill="#6aa6d6"/>
<circle cx="602.3" cy="333.1" r="0.9" fill="#6aa6d6"/>
<circle cx="605.5" cy="348.6" r="0.9" fill="#6aa6d6"/>
<circle cx="608.6" cy="338.6" r="0.9" fill="#6aa6d6"/>
<circle cx="611.3" cy="326" r="0.9" fill="#6aa6d6"/>
<circle cx="613.6" cy="313.4" r="0.9" fill="#6aa6d6"/>
<circle cx="616.2" cy="307.1" r="0.9" fill="#6aa6d6"/>
<circle cx="618" cy="308" r="0.9" fill="#6aa6d6"/>
<circle cx="620.3" cy="311.2" r="0.9" fill="#6aa6d6"/>
<circle cx="623" cy="315.2" r="0.9" fill="#6aa6d6"/>
<circle cx="625.7" cy="315.6" r="0.9" fill="#6aa6d6"/>
<circle cx="628" cy="319.7" r="0.9" fill="#6aa6d6"/>
<circle cx="630.2" cy="322.4" r="0.9" fill="#6aa6d6"/>
<circle cx="632.4" cy="327.8" r="0.9" fill="#6aa6d6"/>
<circle cx="634.7" cy="336.8" r="0.9" fill="#6aa6d6"/>
<circle cx="639.8" cy="354.2" r="0.9" fill="#6aa6d6"/>
<circle cx="642.9" cy="345.3" r="0.9" fill="#6aa6d6"/>
<circle cx="645.1" cy="335.9" r="0.9" fill="#6aa6d6"/>
<circle cx="646.5" cy="330.9" r="0.9" fill="#6aa6d6"/>
<circle cx="648.2" cy="325.1" r="0.9" fill="#6aa6d6"/>
<circle cx="650.1" cy="325.8" r="0.9" fill="#6aa6d6"/>
<circle cx="652.3" cy="326.3" r="0.9" fill="#6aa6d6"/>
<circle cx="653.7" cy="335.2" r="0.9" fill="#6aa6d6"/>
<circle cx="655.8" cy="340.9" r="0.9" fill="#6aa6d6"/>
<circle cx="658" cy="346.7" r="0.9" fill="#6aa6d6"/>
<circle cx="660.2" cy="346.7" r="0.9" fill="#6aa6d6"/>
<circle cx="662.3" cy="347" r="0.9" fill="#6aa6d6"/>
<circle cx="663.8" cy="342.7" r="0.9" fill="#6aa6d6"/>
<circle cx="665.9" cy="342.7" r="0.9" fill="#6aa6d6"/>
<circle cx="667.8" cy="343.5" r="0.9" fill="#6aa6d6"/>
<circle cx="669.5" cy="351" r="0.9" fill="#6aa6d6"/>
<circle cx="672.7" cy="357.5" r="0.9" fill="#6aa6d6"/>
<line x1="503.3" y1="340.1" x2="672.7" y2="357.5" stroke="#000" stroke-width="1.3" stroke-dasharray="3,2.2"/>
<g transform="translate(635.5,255.35)"><text x="0" y="0" font-family="'Liberation Sans', sans-serif" font-size="14" font-weight="bold" stroke="#000" stroke-width="0.45">I</text></g>
<g transform="translate(633.05,276.85)"><text x="0" y="0" font-family="'Liberation Sans', sans-serif" font-size="14" font-weight="bold" letter-spacing="0.6" stroke="#000" stroke-width="0.45">II</text></g>
<g transform="translate(630.85,298.5)"><text x="0" y="0" font-family="'Liberation Sans', sans-serif" font-size="14" font-weight="bold" letter-spacing="0.6" stroke="#000" stroke-width="0.45">III</text></g>
<line x1="651.3" y1="249.9" x2="670" y2="249.9" stroke="#eaa312" stroke-width="2.2" />
<line x1="651.3" y1="271.5" x2="670" y2="271.5" stroke="#f08a8f" stroke-width="2.2" />
<line x1="651.3" y1="293.5" x2="670" y2="293.5" stroke="#6aa6d6" stroke-width="2.2" />
</svg></body></html>
